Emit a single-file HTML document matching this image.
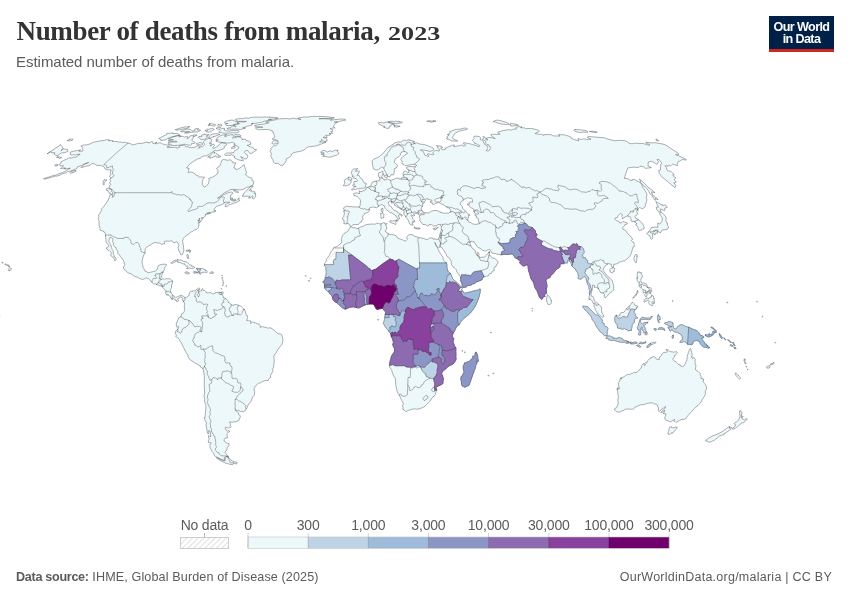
<!DOCTYPE html>
<html><head><meta charset="utf-8">
<style>
html,body{margin:0;padding:0;background:#fff;}
body{width:850px;height:600px;overflow:hidden;position:relative;font-family:"Liberation Sans",sans-serif;}
.abs{position:absolute;white-space:nowrap;line-height:1;transform-origin:0 0;}
#title{left:16.5px;top:18.1px;font-family:"Liberation Serif",serif;font-weight:bold;font-size:27px;color:#333;letter-spacing:-0.33px;}
#sub{left:16px;top:53.8px;font-size:15px;color:#5b5b5b;letter-spacing:-0.03px;}
#logo{position:absolute;left:769px;top:16px;width:65px;height:36px;background:#002147;border-bottom:3px solid #ce261e;box-sizing:border-box;color:#fff;font-weight:bold;font-size:12.6px;text-align:center;line-height:12.3px;letter-spacing:-0.62px;padding-top:5.2px;}
.lg{position:absolute;letter-spacing:-0.2px;font-size:14px;color:#5b5b5b;line-height:1;white-space:nowrap;transform:translateX(-50%);top:518.2px;}
#foot1{left:16px;top:571px;font-size:12.6px;color:#5b5b5b;letter-spacing:0.12px;}#foot1 b{letter-spacing:-0.3px;}
#foot2{right:18px;top:571px;font-size:12.5px;color:#5b5b5b;letter-spacing:0.25px;}
.os{display:inline-block;font-size:19.5px;letter-spacing:0;transform:scaleX(1.34);transform-origin:0 100%;margin-left:1.6px;}
</style></head><body>
<div id="title" class="abs">Number of deaths from malaria, <span class="os">2023</span></div>
<div id="sub" class="abs">Estimated number of deaths from malaria.</div>
<div id="logo">Our World<br>in Data</div>
<svg id="map" width="850" height="600" style="position:absolute;left:0;top:0">
<defs><pattern id="hatch" width="5" height="5" patternUnits="userSpaceOnUse" patternTransform="rotate(45)"><rect width="5" height="5" fill="#fff"/><line x1="0" y1="0" x2="0" y2="5" stroke="#e3e3e3" stroke-width="1.6"/></pattern><pattern id="hatchL" width="4" height="4" patternUnits="userSpaceOnUse" patternTransform="rotate(45)"><rect width="4" height="4" fill="#fff"/><line x1="0" y1="0" x2="0" y2="4" stroke="#ccc" stroke-width="1.2"/></pattern></defs>
<g id="mapg">
<path d="M358.3 228.4L359.1 230.1L359.2 231.7L359.9 234.5L360.5 235.0L360.1 236.0L357.2 236.5L356.2 237.4L354.9 237.7L354.8 239.6L352.2 240.6L351.4 241.9L349.5 242.7L347.3 243.0L343.7 245.0L343.6 248.0L333.6 248.0L334.8 247.1L336.9 246.8L338.7 245.0L339.9 244.3L341.8 242.1L341.3 238.9L342.2 236.6L342.6 235.2L344.0 233.5L346.3 232.3L347.9 231.2L349.4 228.5L350.1 226.9L351.7 226.9L353.0 228.0L355.1 227.8L357.3 228.4ZM421.3 368.9L421.8 369.3L422.4 370.8L424.9 373.7L425.8 374.0L425.8 374.9L426.4 376.6L428.1 377.0L429.5 378.2L426.3 380.1L424.1 382.0L423.3 383.8L422.6 384.8L421.3 385.0L420.9 386.2L420.6 387.1L419.2 387.7L417.3 387.5L416.3 386.8L415.4 386.5L414.2 387.1L413.6 388.3L412.5 389.1L411.4 390.3L409.7 390.6L409.3 389.6L409.6 388.1L408.3 385.6L407.8 385.2L408.0 377.5L410.2 377.4L410.6 368.1L412.3 368.0L415.8 367.1L416.7 368.2L418.1 367.2L418.8 367.2L420.1 366.6L420.5 366.8ZM399.4 395.1L397.8 393.2L397.0 390.8L396.6 388.7L396.1 386.8L395.5 382.8L395.5 379.7L395.2 378.2L394.4 377.1L393.2 375.0L392.1 371.8L391.7 370.2L389.8 367.7L389.7 365.6L390.9 365.1L392.2 364.7L393.7 364.8L395.0 366.0L395.4 365.8L404.6 365.7L406.2 366.9L411.7 367.3L415.9 366.2L417.8 365.6L419.2 365.8L420.1 366.4L420.1 366.6L418.8 367.2L418.1 367.2L416.7 368.2L415.8 367.1L412.3 368.0L410.6 368.1L410.2 377.4L408.0 377.5L407.8 385.2L407.3 394.8L405.3 396.2L404.1 396.4L402.7 395.9L401.7 395.7L401.4 394.6L400.5 393.8ZM433.1 396.9L432.6 397.3L431.5 398.6L430.8 400.0L429.4 401.8L426.7 404.5L425.0 406.1L423.2 407.3L420.8 408.3L419.7 408.5L419.4 409.2L418.1 408.8L417.0 409.3L414.6 408.8L413.3 409.1L412.4 409.0L410.0 410.0L408.2 410.4L406.7 411.4L405.8 411.5L404.9 410.5L404.2 410.5L403.3 409.3L403.2 409.7L402.9 409.0L403.0 407.4L402.4 405.7L403.1 405.2L403.2 403.2L401.9 400.8L400.8 398.5L399.4 395.1L400.5 393.8L401.4 394.6L401.7 395.7L402.7 395.9L404.1 396.4L405.3 396.2L407.3 394.8L407.8 385.2L408.3 385.6L409.6 388.1L409.3 389.6L409.7 390.6L411.4 390.3L412.5 389.1L413.6 388.3L414.2 387.1L415.4 386.5L416.3 386.8L417.3 387.5L419.2 387.7L420.6 387.1L420.9 386.2L421.3 385.0L422.6 384.8L423.3 383.8L424.1 382.0L426.3 380.1L429.5 378.2L430.5 378.2L431.5 378.6L432.3 378.3L433.5 378.6L434.4 382.3L434.9 384.1L434.3 387.0L434.4 388.0L433.3 387.5L432.7 387.7L432.4 388.4L431.7 389.4L431.7 390.3L432.9 391.8L434.3 391.5L434.8 390.3L436.5 390.3L435.8 392.2L435.4 394.4L434.7 395.6ZM427.5 396.1L428.2 396.9L427.4 398.2L427.0 399.0L425.7 399.5L425.2 400.3L424.4 400.6L422.9 398.5L424.2 396.9L425.5 395.8L426.6 395.3ZM434.8 390.3L434.3 391.5L432.9 391.8L431.7 390.3L431.7 389.4L432.4 388.4L432.7 387.7L433.3 387.5L434.4 388.0L434.7 389.2ZM461.8 287.2L462.4 288.0L462.4 289.1L461.1 289.7L462.1 290.4L461.3 291.8L460.7 291.3L460.2 291.6L458.9 291.5L458.9 290.7L458.6 290.0L459.4 288.8L460.1 287.6L461.1 287.8ZM446.4 262.9L437.4 262.9L428.6 262.9L419.5 262.9L419.1 253.2L418.6 243.9L417.8 241.8L418.2 240.2L417.8 239.1L418.5 237.8L421.5 237.8L423.6 238.5L425.9 239.3L426.9 239.7L428.6 238.8L429.4 238.1L431.3 237.9L432.9 238.2L433.7 239.5L434.1 238.6L435.9 239.3L437.7 239.4L438.7 238.8L440.6 243.3L440.0 244.3L439.7 246.3L439.2 247.6L438.7 248.1L437.9 247.3L436.8 246.1L434.9 242.3L434.7 242.6L435.9 245.3L437.5 248.0L439.4 252.0L440.4 253.5L441.2 254.9L443.4 257.8L443.0 258.3L443.2 260.0L445.9 262.3ZM419.5 262.9L419.7 268.1L417.1 268.1L417.1 269.2L407.9 264.2L398.8 259.2L396.5 260.6L394.9 261.6L393.6 260.1L390.0 259.0L389.0 257.4L387.2 256.2L386.2 256.6L385.4 255.2L385.3 254.1L383.9 252.2L384.8 251.1L384.5 249.4L384.8 248.0L384.6 246.8L384.9 244.7L384.8 243.5L384.0 241.1L385.1 240.5L385.2 239.4L385.0 238.3L386.5 237.3L387.1 236.5L388.1 235.7L388.2 233.7L390.8 234.6L391.7 234.4L393.6 234.9L396.6 236.0L397.7 238.3L399.7 238.9L402.9 240.0L405.3 241.2L406.3 240.6L407.3 239.4L406.7 237.4L407.3 236.1L408.8 234.9L410.3 234.5L413.3 235.0L414.2 236.2L415.0 236.2L415.7 236.7L417.9 237.0L418.5 237.8L417.8 239.1L418.2 240.2L417.8 241.8L418.6 243.9L419.1 253.2ZM384.0 241.1L382.9 236.5L381.6 235.4L381.5 234.8L379.7 233.2L379.4 231.2L380.8 229.8L381.2 227.6L380.8 225.1L381.2 223.8L383.5 222.7L385.0 223.0L385.0 224.4L386.8 223.4L387.0 223.9L385.9 225.2L386.0 226.4L386.8 227.0L386.6 229.3L385.2 230.6L385.6 232.0L386.8 232.1L387.4 233.3L388.2 233.7L388.1 235.7L387.1 236.5L386.5 237.3L385.0 238.3L385.2 239.4L385.1 240.5ZM390.0 259.0L382.4 264.0L375.9 269.1L372.7 270.3L370.2 270.6L370.2 268.9L369.1 268.5L367.7 267.7L367.1 266.5L359.5 260.8L351.9 255.1L343.6 249.0L343.6 248.0L343.7 245.0L347.3 243.0L349.5 242.7L351.4 241.9L352.2 240.6L354.8 239.6L354.9 237.7L356.2 237.4L357.2 236.5L360.1 236.0L360.5 235.0L359.9 234.5L359.2 231.7L359.1 230.1L358.3 228.4L360.4 227.0L362.7 226.5L364.1 225.5L366.2 224.7L369.8 224.2L373.4 224.0L374.5 224.4L376.5 223.4L378.8 223.3L379.7 223.9L381.2 223.8L380.8 225.1L381.2 227.6L380.8 229.8L379.4 231.2L379.7 233.2L381.5 234.8L381.6 235.4L382.9 236.5L384.0 241.1L384.8 243.5L384.9 244.7L384.6 246.8L384.8 248.0L384.5 249.4L384.8 251.1L383.9 252.2L385.3 254.1L385.4 255.2L386.2 256.6L387.2 256.2L389.0 257.4ZM495.9 227.2L498.4 228.2L499.9 227.8L500.1 226.6L501.7 226.2L502.8 225.4L502.7 223.4L504.4 222.8L504.6 221.9L505.7 222.6L506.4 222.7L507.6 222.7L509.4 223.3L510.1 223.6L511.5 222.8L512.3 223.3L512.7 222.1L514.0 222.1L514.2 221.7L514.2 220.7L514.9 219.8L516.2 220.4L516.2 221.2L516.8 221.3L517.2 223.5L518.3 224.3L518.9 223.8L519.8 223.5L520.8 222.3L522.4 222.6L524.6 222.6L525.2 223.3L524.0 223.6L523.1 224.1L520.6 224.4L518.5 224.9L517.5 226.1L518.3 227.2L518.8 228.5L518.0 229.6L518.4 230.6L518.0 231.5L515.9 231.4L517.1 233.2L515.9 233.8L515.3 235.4L515.7 237.0L515.0 237.7L514.2 237.5L512.5 237.8L512.4 238.5L510.8 238.5L509.9 240.0L510.2 242.2L507.5 243.3L505.9 243.1L505.6 243.7L504.2 243.3L502.0 243.7L498.1 242.4L499.7 240.0L499.2 238.3L497.4 237.9L497.0 236.2L495.9 234.2L496.5 232.7L495.5 232.3L495.7 230.4ZM559.6 247.5L559.7 248.6L560.3 250.3L560.3 251.3L558.4 251.4L555.6 250.8L553.8 250.5L552.3 249.2L549.2 248.8L546.0 247.4L543.6 246.1L541.3 245.1L541.6 242.7L542.8 241.5L543.6 240.8L545.5 241.6L548.1 243.4L549.5 243.7L550.5 245.0L552.3 245.5L554.3 246.7L557.0 247.3ZM567.7 247.8L568.8 248.6L568.9 250.2L567.1 250.3L565.2 250.1L563.9 250.5L561.7 249.5L561.5 249.0L562.6 247.1L563.7 246.4L565.4 247.0L566.6 247.1ZM551.4 300.7L551.2 303.5L550.2 304.2L548.3 304.8L547.1 302.7L546.5 299.0L547.3 294.7L549.0 296.2L550.1 298.0ZM598.4 288.5L596.2 287.3L594.3 287.4L594.4 285.3L592.4 285.3L592.5 288.2L591.6 292.0L591.0 294.4L591.3 296.2L592.8 296.3L593.9 298.7L594.4 301.0L595.8 302.5L597.2 302.8L598.5 304.1L597.8 305.2L596.2 305.5L596.0 304.2L594.1 303.0L593.7 303.5L592.7 302.5L592.3 301.2L591.0 299.7L589.8 298.5L589.5 300.0L589.0 298.6L589.1 296.9L589.6 294.4L590.5 291.7L591.6 289.3L590.5 286.9L590.4 285.7L590.0 284.2L588.2 282.2L587.5 280.9L588.3 280.4L588.8 278.1L587.6 276.4L585.9 274.5L584.5 272.2L585.4 271.7L586.0 268.9L587.6 268.8L588.8 267.6L590.0 267.0L591.1 267.8L591.5 269.4L593.0 269.5L592.9 272.3L593.2 274.6L595.4 273.0L596.2 273.5L597.5 273.4L597.8 272.5L599.6 272.7L601.6 274.8L602.1 277.4L604.3 279.7L604.5 281.9L603.9 283.1L601.7 282.7L598.8 283.2L597.5 285.4ZM603.9 283.1L604.5 281.9L604.3 279.7L602.1 277.4L601.6 274.8L599.6 272.7L597.8 272.5L597.5 273.4L596.2 273.5L595.4 273.0L593.2 274.6L592.9 272.3L593.0 269.5L591.5 269.4L591.1 267.8L590.0 267.0L590.3 266.0L592.0 264.3L592.3 265.0L593.5 265.0L592.7 262.0L593.8 261.7L595.5 263.7L596.8 266.1L599.7 266.1L600.9 268.4L599.5 269.1L599.0 270.0L602.0 271.6L604.3 274.7L606.1 277.0L608.1 278.8L608.9 280.6L608.8 283.3L606.7 282.3L605.9 284.1ZM607.5 264.0L604.8 266.3L603.3 268.8L603.1 270.6L605.3 273.3L607.9 276.7L610.2 278.3L611.9 280.4L613.6 285.3L613.7 289.9L612.0 291.6L609.5 293.3L607.8 295.5L605.1 297.9L604.1 296.2L604.6 294.5L602.8 293.0L604.7 291.9L607.1 291.7L605.9 290.1L609.6 288.1L609.6 285.0L608.8 283.3L608.9 280.6L608.1 278.8L606.1 277.0L604.3 274.7L602.0 271.6L599.0 270.0L599.5 269.1L600.9 268.4L599.7 266.1L596.8 266.1L595.5 263.7L593.8 261.7L594.9 261.0L596.7 261.0L598.9 260.7L600.6 259.3L601.8 260.3L604.0 260.8L603.9 262.3L605.1 263.4ZM600.9 292.6L599.8 291.2L598.4 288.5L597.5 285.4L598.8 283.2L601.7 282.7L603.9 283.1L605.9 284.1L606.7 282.3L608.8 283.3L609.6 285.0L609.6 288.1L605.9 290.1L607.1 291.7L604.7 291.9L602.8 293.0ZM596.0 304.2L596.2 305.5L597.8 305.2L598.5 304.1L599.0 304.4L600.4 306.0L601.5 307.7L601.7 309.5L601.5 310.6L601.8 311.6L602.0 313.1L602.8 313.8L603.8 316.1L603.7 317.0L602.1 317.2L599.9 315.2L597.1 313.2L596.8 311.8L595.4 310.1L595.0 307.9L594.1 306.5L594.3 304.6L593.7 303.5L594.1 303.0ZM636.7 308.7L635.0 309.6L633.0 309.1L630.4 309.1L629.7 312.1L628.8 313.0L627.7 316.7L625.9 317.2L623.7 316.5L622.6 316.7L621.2 318.0L619.8 317.8L618.3 318.4L616.7 316.9L616.2 315.1L618.0 316.1L619.7 315.6L620.1 313.3L621.1 312.8L623.9 312.3L625.4 310.2L626.5 308.6L627.6 309.9L628.1 309.0L629.2 309.1L629.2 307.4L629.3 306.1L630.9 304.3L632.0 302.3L632.9 302.3L634.2 303.6L634.3 304.7L635.9 305.5L637.9 306.3L637.8 307.3L636.2 307.4ZM626.5 308.6L627.4 307.6L629.3 306.1L629.2 307.4L629.2 309.1L628.1 309.0L627.6 309.9ZM650.6 343.6L650.9 343.0L653.0 342.4L654.5 342.4L655.3 342.0L656.2 342.4L655.3 343.1L652.8 344.2L650.8 345.0ZM639.0 272.0L640.5 272.8L641.1 272.1L641.4 272.8L641.2 273.8L642.3 275.7L642.1 277.9L640.9 278.7L640.8 280.9L641.6 282.9L642.9 283.2L643.8 282.9L646.9 284.4L646.9 285.8L647.7 286.4L647.6 287.6L645.7 286.3L644.7 285.0L644.2 285.9L642.5 284.4L640.5 284.7L639.3 284.2L639.2 283.1L639.9 282.4L639.1 281.8L638.9 282.7L637.6 281.3L637.1 280.1L636.6 277.6L637.7 278.5L637.2 274.4L637.6 272.0ZM653.9 298.4L654.3 300.1L654.6 301.6L653.9 304.0L652.9 301.3L651.9 302.6L652.8 304.6L652.2 305.8L649.4 304.3L648.6 302.4L649.2 301.2L647.7 299.9L647.0 301.0L646.0 300.9L644.3 302.4L643.9 301.6L644.7 299.4L646.0 298.6L647.2 297.7L648.1 298.9L649.8 298.1L650.1 297.0L651.7 296.9L651.4 294.9L653.4 296.1L653.7 297.4ZM637.5 290.7L638.1 292.8L636.7 294.2L635.6 296.0L632.8 298.5L633.7 296.7L635.3 295.1L636.5 293.3ZM648.0 287.6L650.3 287.6L651.0 288.6L651.9 291.5L650.1 290.8L650.2 291.7L651.0 293.3L649.9 293.9L649.7 292.1L649.0 291.9L648.4 290.3L649.8 290.5L649.7 289.6ZM642.8 289.3L644.2 290.1L645.7 290.1L645.8 291.2L644.8 292.3L643.4 293.1L643.2 291.9L643.3 290.5ZM646.0 296.8L644.5 295.0L644.9 294.3L645.4 293.6L645.5 291.9L646.7 291.8L646.5 293.5L648.0 291.0L648.0 293.5L647.3 294.4L646.7 296.0ZM641.6 286.2L641.2 288.5L640.1 287.2L638.7 285.2L640.7 285.3ZM637.1 256.6L636.6 260.8L636.0 262.9L634.4 260.7L633.8 258.8L634.5 256.2L635.9 254.2L637.1 255.0ZM613.9 271.5L612.2 272.8L610.2 272.0L609.7 269.7L610.7 268.6L613.0 267.8L614.3 267.9L615.0 268.9L614.2 270.0ZM619.4 190.8L623.4 191.6L627.1 193.4L629.5 195.8L632.6 195.8L633.7 194.8L636.5 194.0L637.1 196.3L636.9 197.2L638.1 200.0L638.3 202.5L635.5 202.1L634.3 203.0L636.2 205.2L637.8 208.2L636.8 208.3L637.6 209.6L635.3 208.1L635.4 209.6L632.7 210.7L633.8 212.0L632.0 211.9L630.5 211.1L630.1 213.0L628.5 214.4L627.7 216.0L625.1 216.8L624.1 218.0L622.1 218.7L622.7 217.5L621.7 216.5L622.5 214.7L620.7 213.4L619.3 214.3L617.8 216.1L617.3 217.8L615.3 217.9L614.8 219.1L616.7 220.9L618.7 221.3L619.2 222.5L621.3 223.2L622.9 221.4L625.2 222.4L626.7 222.5L627.6 223.8L624.9 224.6L624.5 226.0L622.9 227.3L622.6 229.1L625.5 230.5L627.3 233.1L629.6 235.5L631.8 237.5L632.5 239.5L631.3 240.2L632.3 241.6L633.9 242.4L634.2 244.5L634.3 246.6L633.1 246.8L632.3 249.7L631.3 253.1L630.0 256.2L627.4 258.6L624.7 260.8L622.2 261.1L621.0 262.3L620.1 261.4L619.0 262.7L616.1 264.0L613.8 264.4L613.4 267.2L612.2 267.4L611.3 265.5L611.7 264.4L608.5 263.6L607.5 264.0L605.1 263.4L603.9 262.3L604.0 260.8L601.8 260.3L600.6 259.3L598.9 260.7L596.7 261.0L594.9 261.0L593.8 261.7L592.7 262.0L593.5 265.0L592.3 265.0L592.0 264.3L591.8 263.3L590.2 264.0L589.2 263.5L587.3 262.6L587.6 260.4L586.1 259.9L585.2 257.5L582.9 257.9L582.6 254.8L584.3 252.6L583.9 250.5L583.4 248.5L582.3 247.8L581.2 246.3L580.0 246.5L577.5 246.1L578.0 245.0L576.5 243.4L575.2 244.5L573.2 243.8L571.0 245.5L569.4 247.4L567.7 247.8L566.6 247.1L565.4 247.0L563.7 246.4L562.6 247.1L561.5 249.0L560.9 246.9L559.6 247.5L557.0 247.3L554.3 246.7L552.3 245.5L550.5 245.0L549.5 243.7L548.1 243.4L545.5 241.6L543.6 240.8L542.8 241.5L539.3 239.6L536.7 238.0L535.4 235.1L537.1 235.5L536.8 234.1L535.6 232.8L535.3 230.6L532.2 227.6L528.3 226.5L527.1 224.5L525.2 223.3L524.6 222.6L523.9 221.1L523.6 220.1L522.2 219.5L521.5 219.7L520.3 217.3L520.7 216.7L520.2 216.1L521.9 214.9L523.2 214.4L525.6 214.7L525.8 213.1L528.4 212.7L528.8 211.7L531.7 210.3L531.7 209.7L531.0 208.3L532.2 207.6L528.6 203.1L532.3 202.1L533.2 201.5L532.8 196.9L537.2 197.8L537.8 196.6L536.8 194.1L538.3 193.8L539.1 192.1L539.8 191.9L541.1 193.7L543.5 195.0L546.8 196.0L549.2 198.1L549.7 201.1L551.0 202.2L553.6 202.6L556.5 203.0L559.8 204.6L561.2 204.9L563.2 207.2L565.1 208.8L567.4 208.7L572.0 209.3L574.6 208.9L576.9 209.3L580.7 210.9L583.3 210.9L584.6 211.7L586.4 210.3L589.3 209.4L592.4 209.3L594.4 208.4L595.2 207.0L596.2 206.2L595.5 205.3L594.3 204.3L594.5 202.7L595.8 202.9L598.2 203.4L599.5 202.0L602.1 201.0L602.6 199.3L603.6 198.6L606.4 198.3L608.2 198.6L607.9 197.7L604.9 195.9L602.8 195.0L601.8 196.0L599.6 195.6L598.6 195.9L597.5 194.9L597.3 192.4L597.1 190.4L600.1 191.4L601.9 189.8L601.2 188.7L601.1 186.0L601.6 185.2L600.6 183.8L599.1 183.2L599.7 182.0L601.8 181.5L604.4 181.5L607.9 182.2L610.3 183.1L613.5 185.7L615.0 186.7L616.9 188.3ZM539.8 191.9L541.7 191.5L544.4 189.3L546.9 188.1L549.0 188.9L551.1 188.9L553.1 190.1L555.1 190.2L558.4 190.8L559.4 189.1L557.7 187.6L558.2 185.0L561.1 186.0L563.1 186.3L565.8 187.0L567.3 188.9L570.7 189.9L572.3 189.4L574.7 189.1L576.9 189.5L579.6 190.7L581.6 192.0L583.4 191.9L586.2 192.4L587.7 191.7L590.1 191.3L591.9 189.5L593.3 189.8L594.8 190.6L597.1 190.4L597.3 192.4L597.5 194.9L598.6 195.9L599.6 195.6L601.8 196.0L602.8 195.0L604.9 195.9L607.9 197.7L608.2 198.6L606.4 198.3L603.6 198.6L602.6 199.3L602.1 201.0L599.5 202.0L598.2 203.4L595.8 202.9L594.5 202.7L594.3 204.3L595.5 205.3L596.2 206.2L595.2 207.0L594.4 208.4L592.4 209.3L589.3 209.4L586.4 210.3L584.6 211.7L583.3 210.9L580.7 210.9L576.9 209.3L574.6 208.9L572.0 209.3L567.4 208.7L565.1 208.8L563.2 207.2L561.2 204.9L559.8 204.6L556.5 203.0L553.6 202.6L551.0 202.2L549.7 201.1L549.2 198.1L546.8 196.0L543.5 195.0L541.1 193.7ZM637.6 209.6L638.1 210.1L637.2 209.9L636.9 210.8L636.7 211.7L637.9 213.6L637.1 214.1L637.0 214.6L636.6 215.3L635.4 215.8L634.8 216.5L635.4 217.6L635.3 217.9L636.3 218.3L638.1 219.5L638.1 220.1L637.3 220.3L635.8 220.4L635.6 221.6L634.6 221.5L634.5 221.7L633.3 221.2L633.2 221.7L632.7 221.9L632.4 221.4L631.7 221.2L630.9 220.8L631.0 219.6L631.3 219.3L630.9 218.8L630.8 217.4L630.4 217.0L629.0 216.7L627.7 216.0L628.5 214.4L630.1 213.0L630.5 211.1L632.0 211.9L633.8 212.0L632.7 210.7L635.4 209.6L635.3 208.1ZM638.1 219.5L641.5 222.5L642.8 224.2L644.2 227.2L644.0 228.7L642.3 229.2L641.0 230.2L639.1 230.5L638.3 229.1L637.8 227.1L635.7 224.4L637.1 223.9L634.5 221.7L634.6 221.5L635.6 221.6L635.8 220.4L637.3 220.3L638.1 220.1ZM667.2 223.3L667.5 225.4L668.5 226.7L668.2 228.5L666.1 229.7L662.3 229.9L660.5 232.9L658.6 231.9L657.6 229.9L654.1 230.5L652.1 231.7L649.5 231.8L652.5 233.7L652.8 238.2L651.8 239.3L650.4 238.2L650.0 235.9L648.3 235.1L646.7 233.3L648.4 232.5L648.9 230.9L650.5 229.5L651.3 227.7L655.3 227.0L657.8 227.5L657.8 222.9L659.9 224.1L661.7 221.5L662.4 220.5L662.0 217.3L659.9 214.4L659.8 212.7L661.8 212.3L665.1 215.9L666.3 218.0L665.8 220.6ZM662.4 205.0L664.2 205.6L665.0 204.5L667.4 207.4L664.8 208.1L664.6 210.6L660.2 208.9L660.8 211.7L658.5 211.8L656.6 209.2L656.3 207.2L658.5 207.1L656.7 203.5L655.9 201.5L660.2 204.2ZM657.2 231.1L657.9 232.0L657.3 233.6L656.1 232.7L655.2 233.3L655.2 234.9L653.5 234.1L653.0 232.9L653.5 231.3L654.9 231.6L655.3 230.5ZM414.5 143.4L416.2 142.7L419.6 144.0L424.2 144.5L431.5 147.1L433.2 148.0L433.8 149.6L432.2 150.8L429.7 151.4L421.4 149.6L420.3 150.1L423.5 151.7L424.6 155.1L428.7 156.5L428.6 155.3L427.2 154.2L428.2 153.5L432.9 154.9L434.0 154.2L432.5 152.6L435.7 150.3L437.3 150.5L439.1 151.2L439.6 149.6L437.7 148.3L438.1 146.9L436.4 145.6L441.4 146.3L442.8 147.6L440.8 147.8L441.3 149.2L442.8 149.8L445.4 149.4L445.2 148.0L448.3 146.9L453.3 144.9L454.7 145.1L453.7 146.5L455.8 146.7L456.7 146.0L459.8 145.8L461.9 144.9L464.4 146.3L465.7 144.9L463.2 143.6L463.7 142.7L469.0 143.6L471.7 144.3L479.2 146.7L479.8 145.6L477.4 144.5L476.8 143.8L474.7 143.6L474.8 142.7L472.8 141.0L472.4 140.3L474.1 138.4L473.9 136.5L474.8 136.1L479.4 136.5L480.6 137.8L480.2 139.5L481.8 140.1L483.3 141.6L484.9 144.7L487.6 146.0L487.8 147.6L486.4 150.8L488.4 151.0L488.7 150.3L490.2 149.6L490.0 148.5L490.9 147.4L489.1 146.3L488.8 144.7L486.8 144.5L485.8 143.4L485.6 141.2L482.3 139.5L484.2 138.0L482.8 136.5L483.4 136.3L485.2 137.6L486.0 139.7L488.0 139.9L486.1 138.4L488.2 137.6L491.6 137.6L495.3 138.6L492.6 136.9L490.7 134.8L493.0 134.2L497.0 134.4L500.1 134.2L497.7 133.0L498.4 131.7L500.1 131.7L502.2 130.7L505.7 130.3L505.8 129.9L509.7 129.7L511.4 130.1L513.6 129.1L516.5 129.1L515.6 128.1L516.1 127.3L518.7 126.6L522.0 127.1L520.6 127.7L524.4 127.9L525.9 128.9L526.9 128.5L531.3 128.5L536.0 129.5L538.3 130.3L539.3 131.3L538.4 131.9L535.6 133.0L535.1 133.6L537.5 134.0L540.3 134.4L541.2 134.0L543.8 135.5L543.8 134.8L546.0 134.5L551.4 134.8L553.0 135.9L560.0 136.1L558.3 134.6L561.9 134.8L564.4 134.8L568.6 136.1L571.1 137.3L571.1 138.2L575.2 139.9L578.9 140.8L577.8 138.6L581.5 139.5L583.5 138.8L587.7 139.7L588.0 139.1L591.0 139.3L587.2 137.3L588.2 136.5L604.5 137.8L607.9 139.1L614.6 140.8L620.5 140.3L624.1 140.6L626.7 141.4L629.0 143.2L632.0 143.8L633.7 143.4L636.4 143.2L640.0 143.6L642.9 143.4L648.8 145.4L649.9 144.7L646.2 143.2L645.7 142.3L651.9 142.9L655.0 142.7L661.6 143.8L665.4 144.8L678.9 153.8L678.2 154.9L675.6 154.6L678.8 155.8L682.5 157.7L684.4 158.4L685.9 159.3L686.3 160.0L682.4 159.5L679.5 161.2L678.2 161.4L677.6 163.1L677.0 164.8L677.5 165.7L672.8 164.0L670.4 166.0L668.3 165.0L668.1 166.2L664.9 165.7L666.3 167.4L666.9 169.8L668.2 170.8L670.8 171.3L674.4 174.7L672.8 174.9L674.1 176.9L675.9 177.9L674.2 179.4L676.2 182.1L673.8 182.7L675.8 185.4L675.1 187.6L672.7 185.9L668.3 182.1L661.7 176.7L659.1 173.2L659.2 171.8L658.2 170.8L660.4 170.1L660.5 167.2L660.8 164.8L661.8 162.8L658.9 159.3L657.0 159.5L658.6 161.7L656.9 164.3L651.8 161.2L648.2 162.1L648.0 166.0L651.4 167.6L647.8 168.1L645.3 168.4L643.4 166.7L640.1 166.2L639.0 167.4L633.2 167.2L627.8 167.9L626.2 172.5L624.2 178.4L627.6 178.6L629.8 180.1L632.2 180.6L632.3 179.4L634.6 179.6L639.8 182.4L641.9 184.6L642.5 187.1L644.7 190.1L646.9 194.2L646.4 197.8L646.9 199.6L646.2 202.7L644.9 207.0L642.9 208.6L641.7 208.6L639.6 207.3L637.8 209.1L638.1 210.1L637.6 209.6L636.8 208.3L637.8 208.2L636.2 205.2L634.3 203.0L635.5 202.1L638.3 202.5L638.1 200.0L636.9 197.2L637.1 196.3L636.5 194.0L633.7 194.8L632.6 195.8L629.5 195.8L627.1 193.4L623.4 191.6L619.4 190.8L616.9 188.3L615.0 186.7L613.5 185.7L610.3 183.1L607.9 182.2L604.4 181.5L601.8 181.5L599.7 182.0L599.1 183.2L600.6 183.8L601.6 185.2L601.1 186.0L601.2 188.7L601.9 189.8L600.1 191.4L597.1 190.4L594.8 190.6L593.3 189.8L591.9 189.5L590.1 191.3L587.7 191.7L586.2 192.4L583.4 191.9L581.6 192.0L579.6 190.7L576.9 189.5L574.7 189.1L572.3 189.4L570.7 189.9L567.3 188.9L565.8 187.0L563.1 186.3L561.1 186.0L558.2 185.0L557.7 187.6L559.4 189.1L558.4 190.8L555.1 190.2L553.1 190.1L551.1 188.9L549.0 188.9L546.9 188.1L544.4 189.3L541.7 191.5L539.8 191.9L539.1 192.1L537.3 190.6L534.9 190.9L533.5 189.8L531.9 189.4L530.2 187.9L528.9 187.4L526.3 188.1L522.9 186.6L522.5 188.0L515.0 181.6L511.6 179.7L511.9 178.9L508.2 181.2L506.4 181.4L505.9 180.0L503.0 179.2L501.3 179.8L499.5 177.2L495.8 176.7L494.5 177.7L490.1 178.6L489.4 179.3L482.5 180.1L481.9 181.0L484.0 182.7L482.3 183.3L483.0 184.0L481.5 185.2L485.4 186.9L485.3 188.1L482.4 188.0L482.1 188.8L479.1 187.5L476.0 187.5L474.2 188.6L471.5 187.5L466.6 185.8L463.5 185.9L460.2 188.6L460.5 190.5L458.0 189.0L457.1 191.8L457.9 192.3L457.2 194.2L459.3 195.9L460.8 195.9L462.5 197.6L462.6 198.9L463.8 199.3L463.2 200.8L461.3 201.3L459.9 203.9L462.3 206.4L462.5 208.1L465.4 211.1L464.4 212.2L464.2 212.9L463.2 212.7L461.4 211.1L460.8 211.0L459.4 210.4L458.5 209.4L456.4 208.8L455.3 209.2L454.8 208.7L451.7 207.5L448.5 207.1L446.7 206.6L446.5 207.0L443.4 204.8L440.9 203.8L438.8 202.3L440.2 201.9L441.6 199.7L440.2 198.7L443.0 197.7L442.9 197.1L441.1 197.5L441.0 196.4L443.8 195.5L444.0 194.6L443.2 193.2L443.7 191.9L443.6 191.2L440.4 190.3L439.2 190.4L437.8 189.2L436.3 189.6L433.6 188.7L433.5 188.2L432.6 187.1L431.0 187.0L430.7 186.2L431.1 185.7L429.5 184.3L427.5 184.5L426.9 184.4L426.5 185.0L425.8 184.9L425.0 183.3L424.3 182.4L424.7 182.2L426.3 182.3L426.9 181.7L426.2 181.1L424.8 180.6L424.8 180.2L423.9 179.7L422.4 178.1L422.7 177.4L422.3 176.3L420.3 175.7L419.3 176.0L418.9 175.4L416.8 174.8L415.9 173.3L415.5 172.1L414.5 171.6L415.2 170.8L414.2 168.6L415.2 167.2L414.9 166.7L416.7 165.4L414.5 164.3L417.8 161.2L419.1 159.9L419.5 158.7L416.5 157.1L416.9 155.6L414.9 153.8L415.6 151.9L412.9 149.3L414.1 147.6L411.1 146.1L411.0 144.6L412.3 144.3L414.9 143.5ZM649.5 188.3L655.0 192.7L651.4 191.9L653.0 195.6L656.8 198.2L658.1 200.0L655.4 198.4L655.4 200.4L653.6 198.3L652.0 195.8L649.7 193.0L648.7 191.1L646.1 187.7L642.9 185.3L640.1 181.9L640.9 180.7L639.1 179.5L639.6 179.2L641.6 180.9L644.4 183.3L646.5 185.7ZM407.1 179.3L403.5 179.3L401.1 179.1L401.4 178.0L404.0 177.2L406.0 177.6L407.0 178.0ZM60.6 144.8L62.1 146.5L63.2 148.7L61.1 150.1L61.3 150.8L63.3 149.0L67.5 149.4L67.9 151.5L64.7 152.6L61.6 152.8L58.5 154.9L57.0 155.5L55.6 155.3L55.1 154.6L53.8 154.0L55.1 152.8L53.7 152.6L51.2 152.8L51.4 152.1L50.3 151.7L49.5 152.8L47.1 153.8ZM69.7 139.2L73.0 139.1L72.8 139.8L70.9 140.8L67.2 140.7ZM447.7 134.5L450.4 132.7L449.4 131.8L452.2 130.7L456.3 129.4L461.1 129.0L463.1 128.3L465.9 128.0L467.6 128.8L467.1 129.4L462.4 130.4L458.4 131.4L454.8 133.4L453.7 135.4L452.3 137.4L453.6 139.2L457.7 140.9L456.8 141.1L451.3 140.9L450.4 139.9L447.1 139.3L446.3 138.2L447.8 137.7L447.1 136.6L449.3 134.8ZM509.1 124.3L506.2 124.5L501.5 124.0L498.2 123.3L495.5 122.0L493.1 121.7L495.3 120.5L497.8 120.1L501.7 121.0L507.3 122.7ZM518.1 125.4L510.7 126.1L510.2 123.7L511.1 123.5L512.4 123.6L517.5 124.6ZM575.2 129.6L579.4 129.7L586.8 130.8L588.0 132.3L582.1 132.2L580.3 132.7L575.2 131.4L573.8 130.0ZM589.7 131.6L592.3 131.2L597.1 131.8L596.7 132.6L593.9 132.4L589.7 131.6ZM656.3 139.2L658.8 140.7L657.2 140.8L655.8 140.1ZM433.7 120.7L436.1 121.1L435.7 121.3L434.0 121.5L432.8 121.7L432.8 122.0L431.3 122.3L429.5 121.8L429.9 121.3L426.7 121.2L429.3 120.9L431.4 120.9L432.0 121.4L432.6 121.0ZM512.2 209.9L511.2 210.4L509.0 212.3L508.6 214.1L507.8 214.1L506.9 212.9L504.2 212.8L503.1 210.7L502.1 210.7L501.5 208.1L498.4 206.2L494.9 206.4L492.5 206.8L489.9 204.4L487.9 203.5L484.1 201.6L483.7 201.4L478.8 202.9L481.3 212.4L480.3 212.6L478.3 210.5L476.7 209.8L474.4 210.3L473.7 211.2L473.5 210.6L473.7 209.5L473.1 208.6L470.5 207.7L469.0 205.4L467.7 204.8L467.4 203.9L469.5 204.2L469.1 202.3L470.7 201.9L472.6 202.2L472.4 199.8L471.6 198.2L469.6 198.3L467.7 197.7L465.6 198.8L463.8 199.3L462.6 198.9L462.5 197.6L460.8 195.9L459.3 195.9L457.2 194.2L457.9 192.3L457.1 191.8L458.0 189.0L460.5 190.5L460.2 188.6L463.5 185.9L466.6 185.8L471.5 187.5L474.2 188.6L476.0 187.5L479.1 187.5L482.1 188.8L482.4 188.0L485.3 188.1L485.4 186.9L481.5 185.2L483.0 184.0L482.3 183.3L484.0 182.7L481.9 181.0L482.5 180.1L489.4 179.3L490.1 178.6L494.5 177.7L495.8 176.7L499.5 177.2L501.3 179.8L503.0 179.2L505.9 180.0L506.4 181.4L508.2 181.2L511.9 178.9L511.6 179.7L515.0 181.6L522.5 188.0L522.9 186.6L526.3 188.1L528.9 187.4L530.2 187.9L531.9 189.4L533.5 189.8L534.9 190.9L537.3 190.6L539.1 192.1L538.3 193.8L536.8 194.1L537.8 196.6L537.2 197.8L532.8 196.9L533.2 201.5L532.3 202.1L528.6 203.1L532.2 207.6L531.0 208.3L531.7 209.7L530.3 209.4L528.9 208.4L525.7 208.2L522.2 208.1L521.5 208.4L518.2 207.3L517.2 207.8L517.4 209.4L513.6 208.5L512.4 208.8ZM506.4 222.7L506.1 221.1L502.9 220.0L500.4 218.7L498.7 217.5L495.7 215.7L494.0 213.0L493.2 212.5L490.9 212.7L489.9 212.1L489.2 210.1L486.0 208.7L484.6 210.2L483.0 211.1L483.7 212.4L481.3 212.4L478.8 202.9L483.7 201.4L484.1 201.6L487.9 203.5L489.9 204.4L492.5 206.8L494.9 206.4L498.4 206.2L501.5 208.1L502.1 210.7L503.1 210.7L504.2 212.8L506.9 212.9L507.8 214.1L508.6 214.1L509.0 212.3L511.2 210.4L512.2 209.9L513.0 210.2L511.7 211.9L513.6 212.9L514.9 212.2L517.8 213.6L515.7 215.4L514.0 215.2L513.1 215.3L512.6 214.5L512.7 213.3L510.0 213.9L509.8 215.6L509.3 217.1L507.4 216.9L507.2 218.1L508.9 218.7L509.9 220.6L509.4 223.3L507.6 222.7ZM495.9 227.2L495.3 225.0L493.6 224.9L490.7 222.6L488.9 222.3L486.2 221.0L484.6 220.7L483.8 221.2L482.3 221.1L481.1 222.6L479.3 223.1L478.6 221.3L478.3 218.6L476.4 217.7L476.6 215.9L475.2 215.8L475.1 213.6L477.3 214.2L479.0 213.4L477.0 211.8L476.1 210.3L474.6 211.0L474.8 212.9L473.7 211.2L474.4 210.3L476.7 209.8L478.3 210.5L480.3 212.6L481.3 212.4L483.7 212.4L483.0 211.1L484.6 210.2L486.0 208.7L489.2 210.1L489.9 212.1L490.9 212.7L493.2 212.5L494.0 213.0L495.7 215.7L498.7 217.5L500.4 218.7L502.9 220.0L506.1 221.1L506.4 222.7L505.7 222.6L504.6 221.9L504.4 222.8L502.7 223.4L502.8 225.4L501.7 226.2L500.1 226.6L499.9 227.8L498.4 228.2ZM512.2 209.9L512.4 208.8L513.6 208.5L517.4 209.4L517.2 207.8L518.2 207.3L521.5 208.4L522.2 208.1L525.7 208.2L528.9 208.4L530.3 209.4L531.7 209.7L531.7 210.3L528.8 211.7L528.4 212.7L525.8 213.1L525.6 214.7L523.2 214.4L521.9 214.9L520.2 216.1L520.7 216.7L520.3 217.3L516.4 217.7L513.5 216.9L511.2 217.1L511.0 215.6L513.5 216.0L514.0 215.2L515.7 215.4L517.8 213.6L514.9 212.2L513.6 212.9L511.7 211.9L513.0 210.2ZM514.0 215.2L513.5 216.0L511.0 215.6L511.2 217.1L513.5 216.9L516.4 217.7L520.3 217.3L521.5 219.7L522.2 219.5L523.6 220.1L523.9 221.1L524.6 222.6L522.4 222.6L520.8 222.3L519.8 223.5L518.9 223.8L518.3 224.3L517.2 223.5L516.8 221.3L516.2 221.2L516.2 220.4L514.9 219.8L514.2 220.7L514.2 221.7L514.0 222.1L512.7 222.1L512.3 223.3L511.5 222.8L510.1 223.6L509.4 223.3L509.9 220.6L508.9 218.7L507.2 218.1L507.4 216.9L509.3 217.1L509.8 215.6L510.0 213.9L512.7 213.3L512.6 214.5L513.1 215.3ZM450.7 211.8L450.9 210.8L450.0 209.0L448.6 208.0L447.4 207.7L446.5 207.0L446.7 206.6L448.5 207.1L451.7 207.5L454.8 208.7L455.3 209.2L456.4 208.8L458.5 209.4L459.4 210.4L460.8 211.0L460.4 211.4L461.7 212.8L461.4 213.1L460.3 212.9L458.6 212.2L458.1 212.6L455.3 213.0L453.0 211.7ZM455.3 213.0L458.1 212.6L458.7 213.3L459.6 213.7L459.3 214.4L460.6 215.3L460.1 216.1L461.2 216.8L462.2 217.2L462.6 219.0L461.8 219.1L460.7 217.6L460.6 217.2L459.7 217.2L458.9 216.5L458.5 216.6L457.5 215.8L455.8 215.2L455.8 213.9ZM463.2 212.7L464.2 212.9L464.4 212.2L465.4 211.1L466.9 212.5L468.3 214.4L469.3 214.5L470.1 215.2L468.4 215.4L468.5 217.4L468.3 218.3L467.6 218.9L467.9 220.2L467.4 220.3L465.8 219.0L466.3 217.7L465.5 216.9L464.8 217.1L462.6 219.0L462.2 217.2L461.2 216.8L460.1 216.1L460.6 215.3L459.3 214.4L459.6 213.7L458.7 213.3L458.1 212.6L458.6 212.2L460.3 212.9L461.4 213.1L461.7 212.8L460.4 211.4L460.8 211.0L461.4 211.1ZM458.9 216.5L459.7 217.2L460.6 217.2L460.7 217.6L461.8 219.1L460.3 218.8L459.0 217.6L458.5 216.6ZM441.0 212.4L444.2 213.4L446.6 213.0L448.5 213.2L450.7 211.8L453.0 211.7L455.3 213.0L455.8 213.9L455.8 215.2L457.5 215.8L458.5 216.6L457.2 217.3L458.4 220.3L458.1 221.1L459.6 223.2L458.6 223.6L457.8 223.0L455.2 222.6L454.4 223.0L452.0 223.5L450.8 223.4L448.4 224.4L446.7 224.4L445.5 223.9L443.2 224.6L442.4 224.1L442.5 225.6L442.0 226.2L441.5 226.7L440.5 225.6L441.2 224.6L439.9 224.8L438.0 224.2L436.7 225.7L433.5 226.0L431.6 224.6L429.2 224.5L428.8 225.6L427.4 225.9L425.1 224.5L422.8 224.5L421.2 222.0L419.5 220.5L420.3 218.5L418.9 217.2L421.0 214.7L424.2 214.6L424.9 212.7L428.9 213.0L431.2 211.3L433.6 210.6L437.1 210.5ZM420.7 214.0L419.1 215.4L418.3 214.2L418.2 213.7L418.7 213.4L419.2 211.8L418.1 211.1L420.1 210.3L422.0 210.6L422.4 211.6L424.3 212.5L424.0 213.1L421.5 213.2ZM434.2 228.5L433.2 228.6L433.8 229.7L434.9 230.0L437.0 228.7L438.1 227.1L436.7 228.2L436.2 227.9L434.6 227.9ZM479.3 223.1L481.1 222.6L482.3 221.1L483.8 221.2L484.6 220.7L486.2 221.0L488.9 222.3L490.7 222.6L493.6 224.9L495.3 225.0L495.9 227.2L495.7 230.4L495.5 232.3L496.5 232.7L495.9 234.2L497.0 236.2L497.4 237.9L499.2 238.3L499.7 240.0L498.1 242.4L499.4 243.8L500.5 245.3L502.8 246.5L503.2 248.8L504.4 249.2L504.7 250.4L501.7 251.8L501.2 254.8L496.9 254.0L494.4 253.4L491.8 253.1L490.4 249.9L489.3 249.4L487.7 249.9L485.6 251.2L482.7 250.3L480.2 248.3L478.0 247.5L476.2 245.1L474.1 241.6L473.0 242.0L471.4 241.1L470.7 242.1L469.3 240.8L469.1 239.4L468.4 239.4L468.5 237.5L467.1 235.5L464.2 234.0L462.3 231.6L462.5 229.5L463.5 228.6L463.1 227.1L461.5 226.3L459.6 223.2L458.1 221.1L458.4 220.3L457.2 217.3L458.5 216.6L459.0 217.6L460.3 218.8L461.8 219.1L462.6 219.0L464.8 217.1L465.5 216.9L466.3 217.7L465.8 219.0L467.4 220.3L467.9 220.2L469.0 222.1L471.1 222.7L472.8 224.0L476.0 224.4L479.3 223.7ZM461.5 226.3L463.1 227.1L463.5 228.6L462.5 229.5L462.3 231.6L464.2 234.0L467.1 235.5L468.5 237.5L468.4 239.4L469.1 239.4L469.3 240.8L470.7 242.1L469.4 242.0L467.9 241.8L466.6 244.3L462.4 244.1L455.5 238.8L452.0 237.0L449.3 236.3L448.0 233.1L452.5 230.4L452.9 227.2L452.4 225.3L453.5 224.7L454.4 223.0L455.2 222.6L457.8 223.0L458.6 223.6L459.6 223.2ZM448.0 233.1L444.0 235.9L441.5 234.9L441.7 234.4L441.5 233.4L441.9 232.0L443.0 231.0L442.5 229.9L441.5 229.8L441.1 227.8L441.5 226.7L442.0 226.2L442.5 225.6L442.4 224.1L443.2 224.6L445.5 223.9L446.7 224.4L448.4 224.4L450.8 223.4L452.0 223.5L454.4 223.0L453.5 224.7L452.4 225.3L452.9 227.2L452.5 230.4ZM441.2 235.7L441.5 234.9L444.0 235.9L448.0 233.1L449.3 236.3L448.9 236.7L444.6 238.0L447.1 240.6L446.4 241.1L446.2 241.9L444.5 242.3L444.1 243.2L443.2 244.0L440.7 243.6L440.6 243.3L441.3 239.1L441.1 238.0L441.4 237.3ZM441.5 234.9L441.2 235.7L440.3 235.3L440.1 237.1L440.7 237.4L440.1 237.7L440.1 238.4L441.1 238.0L441.3 239.1L440.6 243.3L438.7 238.8L439.2 237.9L439.1 237.7L439.5 236.5L439.8 234.5L440.0 233.9L440.8 233.9L440.9 233.4L441.5 233.4L441.7 234.4ZM441.2 235.7L441.4 237.3L441.1 238.0L440.1 238.4L440.1 237.7L440.7 237.4L440.1 237.1L440.3 235.3ZM441.5 233.4L440.9 233.4L440.8 233.9L440.1 233.9L440.6 231.7L441.5 229.9L441.5 229.8L442.5 229.9L443.0 231.0L441.9 232.0ZM460.6 277.6L460.3 276.5L459.6 275.7L459.3 274.7L458.1 273.8L456.7 271.6L456.0 269.4L454.3 267.7L453.2 267.2L451.6 264.7L451.2 262.9L451.2 261.3L449.7 258.4L448.6 257.4L447.4 256.9L446.5 255.4L446.6 254.8L445.9 253.5L445.2 252.9L444.2 250.9L442.6 248.8L441.4 247.0L440.2 247.0L440.5 245.6L440.5 244.7L440.7 243.6L443.2 244.0L444.1 243.2L444.5 242.3L446.2 241.9L446.4 241.1L447.1 240.6L444.6 238.0L448.9 236.7L449.3 236.3L452.0 237.0L455.5 238.8L462.4 244.1L466.6 244.3L468.6 244.6L469.3 245.8L470.8 245.7L472.0 248.0L473.1 248.6L473.6 249.5L475.3 250.6L475.5 251.7L475.4 252.6L475.8 253.4L476.5 254.2L476.9 255.0L477.3 255.7L478.0 256.2L478.6 256.0L479.1 257.0L479.3 257.6L480.4 260.3L487.3 261.6L487.7 261.0L488.9 262.9L487.8 268.1L481.2 270.7L474.7 271.7L472.7 272.9L471.2 275.6L470.2 276.1L469.6 275.2L468.7 275.3L466.5 275.1L466.0 274.8L463.4 274.9L462.8 275.1L461.8 274.4L461.3 275.7L461.6 276.8ZM496.3 265.2L495.6 267.0L494.6 266.8L494.2 267.5L493.9 268.8L494.3 270.5L494.1 270.9L493.1 270.8L491.8 271.8L491.6 273.1L491.1 273.6L489.7 273.6L488.9 274.3L489.0 275.3L487.9 276.1L486.7 275.8L485.2 276.7L484.2 276.9L483.3 275.0L481.2 270.7L487.8 268.1L488.9 262.9L487.7 261.0L487.6 260.0L488.2 258.9L488.1 257.8L489.1 257.3L488.6 256.9L488.6 255.2L489.8 255.2L491.0 257.0L492.3 257.9L494.0 258.3L495.4 258.8L496.6 260.3L497.3 261.1L498.1 261.5L498.2 262.1L497.5 263.6L497.2 264.4ZM489.5 252.7L489.2 253.2L488.7 252.2L489.3 251.4L489.6 251.6ZM479.1 257.0L479.5 256.9L479.6 257.6L481.4 257.2L483.2 257.2L484.6 257.3L486.0 255.5L487.5 253.9L488.7 252.2L489.2 253.2L489.8 255.2L488.6 255.2L488.6 256.9L489.1 257.3L488.1 257.8L488.2 258.9L487.6 260.0L487.7 261.0L487.3 261.6L480.4 260.3L479.3 257.6ZM477.3 255.7L476.9 253.8L477.4 252.4L478.0 252.1L478.7 252.9L478.9 254.4L478.6 256.0L478.0 256.2ZM469.4 242.0L470.0 243.2L469.9 243.7L470.8 245.7L469.3 245.8L468.6 244.6L466.6 244.3L467.9 241.8ZM409.1 139.9L414.7 141.5L412.7 142.1L414.9 143.5L412.3 144.3L411.0 144.6L411.3 143.0L408.9 142.2L406.5 142.9L406.1 144.5L404.7 145.5L402.8 144.9L400.6 145.1L398.5 143.9L397.6 144.5L396.6 144.5L396.6 146.0L393.4 145.7L393.1 146.9L391.5 146.9L390.6 148.5L389.2 151.0L386.8 154.2L387.6 155.0L387.1 155.9L385.3 155.9L384.3 158.1L384.7 161.2L386.0 162.4L385.7 165.2L384.3 166.8L383.6 168.2L382.2 166.7L378.7 169.5L376.2 170.1L373.6 168.9L372.8 166.3L372.0 160.8L373.6 159.3L378.2 157.3L381.6 154.9L384.5 151.7L388.1 147.3L390.8 145.7L394.9 142.9L398.4 141.9L401.1 142.1L403.3 140.3L406.3 140.4ZM399.8 126.3L396.7 127.1L393.9 126.6L394.8 126.1L393.8 125.5L396.7 125.1L397.5 125.8ZM389.3 122.8L394.5 124.2L391.0 124.9L390.5 126.3L389.3 126.7L388.9 128.3L387.1 128.4L383.6 127.2L384.9 126.5L382.5 125.9L379.4 124.3L378.1 122.9L381.9 122.3L382.8 122.9L384.8 122.9L385.3 122.2L387.4 122.2ZM399.3 121.6L402.3 122.2L400.5 123.1L396.4 123.4L392.0 123.1L391.6 122.6L389.6 122.5L387.8 121.7L392.1 121.2L394.3 121.6L395.5 121.1ZM401.6 152.1L400.2 153.7L400.7 155.1L398.2 156.9L395.1 159.0L394.2 162.3L395.7 163.9L397.6 165.3L396.3 168.0L394.4 168.6L394.2 172.6L393.3 174.9L391.0 174.7L390.1 176.6L387.9 176.8L387.1 174.4L385.3 171.7L383.6 168.2L384.3 166.8L385.7 165.2L386.0 162.4L384.7 161.2L384.3 158.1L385.3 155.9L387.1 155.9L387.6 155.0L386.8 154.2L389.2 151.0L390.6 148.5L391.5 146.9L393.1 146.9L393.4 145.7L396.6 146.0L396.6 144.5L397.6 144.5L400.1 145.5L403.0 147.1L403.8 150.5L404.5 151.4ZM411.0 144.6L411.1 146.1L414.1 147.6L412.9 149.3L415.6 151.9L414.9 153.8L416.9 155.6L416.5 157.1L419.5 158.7L419.1 159.9L417.8 161.2L414.5 164.3L411.3 164.5L408.2 165.3L405.2 165.8L404.0 164.5L402.1 163.8L402.1 161.4L400.9 159.3L401.5 157.9L402.9 156.5L406.4 154.0L407.5 153.5L407.1 152.5L404.5 151.4L403.8 150.5L403.0 147.1L400.1 145.5L397.6 144.5L398.5 143.9L400.6 145.1L402.8 144.9L404.7 145.5L406.1 144.5L406.5 142.9L408.9 142.2L411.3 143.0ZM383.8 174.0L383.4 175.0L382.8 174.7L381.5 176.5L382.1 177.7L380.9 178.1L379.5 177.7L378.6 176.4L378.4 173.9L378.7 173.2L379.2 172.5L380.8 172.3L381.5 171.6L382.9 171.0L383.0 172.2L382.5 173.0L382.7 173.7ZM386.6 174.9L387.4 176.1L386.4 178.1L384.2 176.8L383.9 175.7ZM337.9 150.4L337.4 151.9L339.1 153.4L336.7 155.2L331.3 156.8L329.7 157.2L327.5 156.9L322.6 156.1L324.5 155.1L320.9 154.0L324.1 153.5L324.1 152.9L320.6 152.3L322.0 150.8L324.7 150.5L327.2 152.1L330.0 150.8L332.1 151.5L335.1 150.2ZM357.4 168.7L355.3 171.4L357.2 171.0L359.3 171.1L358.8 173.0L357.0 175.3L359.0 175.4L359.1 175.7L360.9 178.6L362.2 179.0L363.4 181.8L363.9 182.8L366.3 183.3L366.1 184.9L365.1 185.6L365.9 186.9L364.1 188.2L361.4 188.2L358.0 188.9L357.1 188.4L355.8 189.6L353.9 189.3L352.5 190.2L351.4 189.7L354.4 187.1L356.2 186.5L353.1 186.1L352.6 185.1L354.7 184.4L353.6 183.0L354.1 181.4L357.0 181.6L357.3 180.2L356.0 178.6L353.6 178.2L353.2 177.5L353.9 176.4L353.3 175.7L352.2 176.9L352.2 174.5L351.3 173.2L352.1 170.7L353.6 168.8L355.1 169.0ZM352.0 178.8L350.9 180.4L349.5 179.9L348.3 180.0L348.7 178.6L348.4 177.3L350.0 177.2ZM350.9 180.4L351.2 182.2L349.6 184.5L346.0 185.9L343.3 185.6L345.0 183.0L344.1 180.4L346.9 178.5L348.4 177.3L348.7 178.6L348.3 180.0L349.5 179.9ZM370.2 189.2L371.6 190.4L372.6 190.2L374.4 191.3L374.9 191.6L375.5 191.5L376.4 192.2L379.3 192.6L378.4 194.4L378.2 196.2L377.7 196.6L376.7 196.4L376.8 197.0L375.4 198.5L375.4 199.6L376.3 199.2L377.1 200.4L377.0 201.1L377.7 202.1L377.0 202.8L377.6 204.8L378.7 205.1L378.5 206.3L376.7 207.7L372.5 207.0L369.5 207.9L369.3 209.4L366.8 209.8L364.5 208.6L363.7 209.1L359.9 208.0L359.0 207.0L360.1 205.4L360.6 200.3L358.4 197.6L357.0 196.3L353.9 195.4L353.7 193.5L356.3 192.9L359.7 193.6L359.1 190.7L361.0 191.8L365.7 189.8L366.3 187.7L368.0 187.2L368.3 188.1L369.2 188.2ZM381.4 209.0L382.7 208.0L383.1 210.3L382.5 212.3L381.5 211.7L381.0 210.0ZM344.0 211.0L344.1 209.1L343.3 208.0L346.4 206.1L348.9 206.6L351.7 206.6L353.9 207.0L355.6 206.9L359.0 207.0L359.9 208.0L363.7 209.1L364.5 208.6L366.8 209.8L369.3 209.4L369.4 210.9L367.4 212.6L364.7 213.2L364.5 214.1L363.2 215.5L362.4 217.6L363.2 219.1L362.0 220.3L361.5 222.0L359.9 222.5L358.4 224.5L353.6 224.5L352.2 225.4L351.3 226.4L350.3 226.2L349.5 225.3L348.9 223.8L346.9 223.4L346.8 222.5L347.6 221.6L347.9 220.8L347.2 220.1L347.8 218.4L347.0 216.8L347.9 216.6L348.0 215.4L348.4 215.0L348.5 213.0L349.5 212.3L348.9 211.0L347.7 210.9L347.4 211.2L346.1 211.2L345.6 209.9L344.8 210.3ZM344.0 211.0L344.8 210.3L345.6 209.9L346.1 211.2L347.4 211.2L347.7 210.9L348.9 211.0L349.5 212.3L348.5 213.0L348.4 215.0L348.0 215.4L347.9 216.6L347.0 216.8L347.8 218.4L347.2 220.1L347.9 220.8L347.6 221.6L346.8 222.5L346.9 223.4L346.0 224.1L344.9 223.7L343.8 224.0L344.2 222.0L344.0 220.3L343.1 220.1L342.6 219.1L342.8 217.4L343.7 216.5L343.9 215.4L344.4 213.9L344.4 212.8L344.0 211.8ZM388.4 198.4L391.3 199.0L391.2 200.3L391.8 201.4L390.1 201.0L388.5 201.9L388.6 203.2L388.4 203.9L389.2 205.3L391.2 206.5L392.4 208.7L394.9 210.8L396.6 210.8L397.1 211.3L396.6 211.8L398.5 212.8L400.1 213.6L402.1 214.9L402.3 215.4L402.0 216.3L400.7 215.1L398.8 214.7L398.1 216.4L399.7 217.3L399.5 218.7L398.6 218.9L397.6 221.1L396.7 221.3L396.7 220.5L397.0 219.1L397.5 218.5L396.5 217.0L395.8 215.7L394.9 215.4L394.2 214.3L392.8 213.8L391.8 212.7L390.3 212.6L388.6 211.4L386.5 209.7L385.0 208.2L384.3 205.7L383.2 205.4L381.5 204.5L380.5 204.9L379.4 206.1L378.5 206.3L378.7 205.1L377.6 204.8L377.0 202.8L377.7 202.1L377.0 201.1L377.1 200.4L378.0 200.9L379.0 200.8L380.1 199.9L380.5 200.3L381.5 200.2L381.8 199.2L383.4 199.5L384.3 199.1L384.4 198.1L385.6 198.4L385.8 197.9L387.8 197.5ZM396.3 220.4L395.7 222.5L396.0 223.3L395.7 224.6L394.0 223.6L392.8 223.4L389.8 222.1L390.0 220.7L392.5 221.0L394.7 220.7ZM382.5 212.7L383.8 214.5L383.7 218.0L382.7 217.8L381.9 218.7L381.0 218.0L380.8 214.8L380.3 213.4L381.5 213.5ZM382.1 177.7L382.2 178.6L384.2 179.2L384.3 180.1L386.2 179.6L387.3 179.0L389.5 179.9L390.5 180.7L391.1 182.0L390.6 182.7L391.4 183.6L392.0 184.9L391.9 185.7L392.9 187.3L392.0 187.6L391.5 187.3L391.0 187.8L389.6 188.3L388.9 188.9L387.5 189.5L387.9 190.2L388.2 191.3L389.2 191.9L390.5 193.0L389.8 194.2L389.1 194.5L389.5 196.1L389.4 196.6L388.7 196.1L387.7 196.0L386.3 196.5L384.5 196.3L384.2 197.0L383.2 196.3L382.5 196.4L380.3 195.7L379.9 196.2L378.2 196.2L378.4 194.4L379.3 192.6L376.4 192.2L375.5 191.5L375.5 190.4L375.1 189.8L375.3 188.1L374.8 185.5L376.0 185.5L376.5 184.5L376.9 182.3L376.5 181.4L376.8 180.9L378.5 180.7L378.9 181.3L380.1 180.1L379.6 179.1L379.5 177.7L380.9 178.1ZM392.9 187.3L391.9 185.7L392.0 184.9L391.4 183.6L390.6 182.7L391.1 182.0L390.5 180.7L391.8 180.0L394.7 178.9L397.0 178.0L399.0 178.4L399.2 179.0L401.1 179.1L403.5 179.3L407.1 179.3L408.1 179.6L408.7 180.3L409.0 181.4L409.6 182.4L409.8 183.4L408.7 183.9L409.4 185.1L409.6 186.2L410.9 188.4L410.8 189.1L409.9 189.4L408.3 191.5L409.0 192.6L408.5 192.5L406.5 191.5L405.1 191.8L404.1 191.6L403.0 192.1L401.8 191.2L401.1 191.6L400.9 191.4L399.9 190.2L398.4 190.0L398.1 189.2L396.7 189.0L396.5 189.6L395.3 189.1L395.4 188.4L393.9 188.2ZM374.9 181.3L376.5 181.4L376.9 182.3L376.5 184.5L376.0 185.5L374.8 185.5L375.3 188.1L374.2 187.5L372.9 186.4L371.0 186.9L369.6 186.7L370.6 186.1L372.2 182.4L374.9 181.3ZM369.6 186.7L371.0 186.9L372.9 186.4L374.2 187.5L375.3 188.1L375.1 189.8L374.6 189.9L374.4 191.3L372.6 190.2L371.6 190.4L370.2 189.2L369.2 188.2L368.3 188.1L368.0 187.2ZM375.1 189.8L375.5 190.4L375.5 191.5L374.9 191.6L374.4 191.3L374.6 189.9ZM382.5 196.4L382.7 196.9L382.4 197.5L383.3 198.0L384.4 198.1L384.3 199.1L383.4 199.5L381.8 199.2L381.5 200.2L380.5 200.3L380.1 199.9L379.0 200.8L378.0 200.9L377.1 200.4L376.3 199.2L375.4 199.6L375.4 198.5L376.8 197.0L376.7 196.4L377.7 196.6L378.2 196.2L379.9 196.2L380.3 195.7ZM397.5 194.9L397.4 196.0L396.3 196.0L396.7 196.5L396.2 198.2L395.8 198.6L394.0 198.6L393.0 199.2L391.3 199.0L388.4 198.4L387.8 197.5L385.8 197.9L385.6 198.4L384.4 198.1L383.3 198.0L382.4 197.5L382.7 196.9L382.5 196.4L383.2 196.3L384.2 197.0L384.5 196.3L386.3 196.5L387.7 196.0L388.7 196.1L389.4 196.6L389.5 196.1L389.1 194.5L389.8 194.2L390.5 193.0L392.0 193.8L393.1 192.8L393.8 192.6L395.4 193.4L396.4 193.2L397.3 193.7L397.2 194.0ZM397.3 193.7L396.4 193.2L395.4 193.4L393.8 192.6L393.1 192.8L392.0 193.8L390.5 193.0L389.2 191.9L388.2 191.3L387.9 190.2L387.5 189.5L388.9 188.9L389.6 188.3L391.0 187.8L391.5 187.3L392.0 187.6L392.9 187.3L393.9 188.2L395.4 188.4L395.3 189.1L396.5 189.6L396.7 189.0L398.1 189.2L398.4 190.0L399.9 190.2L400.9 191.4L400.3 191.4L400.1 191.9L399.6 192.0L399.5 192.6L399.2 192.7L399.1 192.9L398.5 193.2L397.6 193.1ZM400.9 191.4L401.1 191.6L401.8 191.2L403.0 192.1L404.1 191.6L405.1 191.8L406.5 191.5L408.5 192.5L408.0 193.1L407.8 194.2L407.3 194.4L405.1 193.6L404.4 193.8L404.0 194.4L403.1 194.7L402.9 194.5L401.9 194.9L401.1 195.0L401.0 195.5L399.3 195.8L398.6 195.6L397.5 194.9L397.2 194.0L397.3 193.7L397.6 193.1L398.5 193.2L399.1 192.9L399.2 192.7L399.5 192.6L399.6 192.0L400.1 191.9L400.3 191.4ZM396.2 198.2L396.7 196.5L396.3 196.0L397.4 196.0L397.5 194.9L398.6 195.6L399.3 195.8L401.0 195.5L401.1 195.0L401.9 194.9L402.9 194.5L403.1 194.7L404.0 194.4L404.4 193.8L405.1 193.6L407.3 194.4L407.8 194.2L409.0 194.8L409.2 195.5L408.0 196.1L407.2 197.8L406.2 199.5L404.6 200.0L403.3 199.9L401.8 200.6L401.0 201.0L399.3 200.5L397.7 199.4L397.0 199.1L396.5 198.2ZM391.3 199.0L393.0 199.2L394.0 198.6L395.8 198.6L396.2 198.2L396.5 198.2L397.0 199.1L395.4 199.7L395.3 200.8L394.6 201.0L394.7 201.8L393.8 201.7L393.1 201.3L392.7 201.7L391.3 201.6L391.8 201.4L391.2 200.3ZM401.8 200.6L402.4 201.6L403.1 202.3L402.4 203.3L401.4 202.7L400.0 202.7L398.1 202.3L397.2 202.4L396.8 202.9L396.0 202.3L395.6 203.4L396.8 204.6L397.3 205.4L398.3 206.3L399.1 206.9L400.0 208.0L402.0 209.0L401.8 209.4L399.7 208.5L398.4 207.5L396.5 206.7L394.5 204.9L395.0 204.7L393.9 203.6L393.8 202.7L392.5 202.3L391.9 203.4L391.3 202.5L391.2 201.7L391.3 201.6L392.7 201.7L393.1 201.3L393.8 201.7L394.7 201.8L394.6 201.0L395.3 200.8L395.4 199.7L397.0 199.1L397.7 199.4L399.3 200.5L401.0 201.0ZM402.4 203.3L403.1 203.3L402.7 204.4L403.8 205.4L403.6 206.6L403.1 206.7L402.8 207.0L402.1 207.5L402.0 209.0L400.0 208.0L399.1 206.9L398.3 206.3L397.3 205.4L396.8 204.6L395.6 203.4L396.0 202.3L396.8 202.9L397.2 202.4L398.1 202.3L400.0 202.7L401.4 202.7ZM406.1 201.8L407.4 202.4L407.7 203.5L409.0 204.2L409.6 203.7L410.1 204.0L409.7 204.4L410.1 204.9L409.7 205.5L410.0 206.4L411.1 207.5L410.4 208.3L410.1 209.1L410.4 209.5L410.1 209.8L409.1 209.9L408.4 210.0L408.3 209.8L408.5 209.5L408.7 208.9L408.4 208.9L407.9 208.4L407.6 208.3L407.3 207.9L406.9 207.7L406.5 207.4L406.2 207.5L406.0 208.4L405.5 208.6L405.6 208.3L404.8 207.8L404.1 207.5L403.7 207.2L403.1 206.7L403.6 206.6L403.8 205.4L402.7 204.4L403.1 203.3L402.4 203.3L403.1 202.3L402.4 201.6L401.8 200.6L403.3 199.9L404.6 200.0L405.8 201.0ZM404.6 209.4L404.4 208.9L403.6 210.1L403.8 211.0L403.4 210.8L402.7 209.9L401.8 209.4L402.0 209.0L402.1 207.5L402.8 207.0L403.1 206.7L403.7 207.2L404.1 207.5L404.8 207.8L405.6 208.3L405.5 208.6L405.1 209.1ZM406.4 211.0L406.2 210.1L405.6 209.8L405.1 209.1L405.5 208.6L406.0 208.4L406.2 207.5L406.5 207.4L406.9 207.7L407.3 207.9L407.6 208.3L407.9 208.4L408.4 208.9L408.7 208.9L408.5 209.5L408.3 209.8L408.4 210.0L407.9 210.1L406.7 210.5L406.7 211.0ZM407.6 213.7L407.6 214.3L406.9 214.7L406.9 215.5L406.0 216.8L405.6 216.6L405.5 216.0L404.3 215.2L404.0 213.9L404.0 212.2L404.2 211.4L403.8 211.0L403.6 210.1L404.4 208.9L404.6 209.4L405.1 209.1L405.6 209.8L406.2 210.1L406.4 211.0L406.2 211.9L406.6 213.0ZM410.1 209.8L411.2 210.6L411.5 212.4L411.1 212.5L410.8 212.9L409.7 212.9L408.9 213.4L407.6 213.7L406.6 213.0L406.2 211.9L406.4 211.0L406.7 211.0L406.7 210.5L407.9 210.1L408.4 210.0L409.1 209.9ZM414.5 227.0L415.7 227.9L417.4 227.8L419.0 228.0L419.0 228.4L420.2 228.1L420.0 228.9L416.8 229.1L416.9 228.7L414.1 228.1ZM419.2 211.8L418.7 213.4L418.2 213.7L416.9 213.6L415.8 213.4L413.3 214.0L414.9 215.5L413.9 215.9L412.7 215.9L411.4 214.6L411.1 215.2L411.7 216.7L412.9 217.9L412.2 218.5L413.5 219.7L414.6 220.5L414.8 221.9L412.7 221.2L413.5 222.6L412.1 222.8L413.1 225.2L411.7 225.2L409.8 224.1L408.9 222.0L408.3 220.2L407.4 219.0L406.2 217.6L406.0 216.8L406.9 215.5L406.9 214.7L407.6 214.3L407.6 213.7L408.9 213.4L409.7 212.9L410.8 212.9L411.1 212.5L411.5 212.4L413.1 212.4L414.7 211.7L416.3 212.6L418.2 212.4L418.1 211.1ZM410.1 204.9L410.8 205.9L411.6 205.7L413.3 206.2L416.3 206.3L417.3 205.6L419.7 205.0L421.3 206.0L422.6 206.2L421.6 207.3L421.1 209.1L422.0 210.6L420.1 210.3L418.1 211.1L418.2 212.4L416.3 212.6L414.7 211.7L413.1 212.4L411.5 212.4L411.2 210.6L410.1 209.8L410.4 209.5L410.1 209.1L410.4 208.3L411.1 207.5L410.0 206.4L409.7 205.5ZM409.2 195.5L410.0 195.0L411.3 195.3L412.6 195.3L413.6 195.9L414.3 195.5L415.7 195.3L416.2 194.7L417.0 194.7L417.7 194.9L418.4 195.7L419.2 196.7L420.6 198.3L420.8 199.4L420.7 200.5L421.3 201.6L422.3 202.1L423.2 201.7L424.2 202.2L424.3 202.8L423.4 203.4L422.7 203.1L422.6 206.2L421.3 206.0L419.7 205.0L417.3 205.6L416.3 206.3L413.3 206.2L411.6 205.7L410.8 205.9L410.1 204.9L409.7 204.4L410.1 204.0L409.6 203.7L409.0 204.2L407.7 203.5L407.4 202.4L406.1 201.8L405.8 201.0L404.6 200.0L406.2 199.5L407.2 197.8L408.0 196.1ZM417.0 194.7L417.4 194.3L418.8 194.0L420.4 194.8L421.2 194.9L422.2 195.6L422.2 196.5L423.0 196.9L423.5 198.0L424.3 198.6L424.2 199.0L424.6 199.3L424.1 199.4L422.9 199.4L422.6 199.0L422.2 199.2L422.4 199.7L422.0 200.5L421.8 201.4L421.3 201.6L420.7 200.5L420.8 199.4L420.6 198.3L419.2 196.7L418.4 195.7L417.7 194.9ZM425.8 184.9L426.5 185.0L426.9 184.4L427.5 184.5L429.5 184.3L431.1 185.7L430.7 186.2L431.0 187.0L432.6 187.1L433.5 188.2L433.6 188.7L436.3 189.6L437.8 189.2L439.2 190.4L440.4 190.3L443.6 191.2L443.7 191.9L443.2 193.2L444.0 194.6L443.8 195.5L441.9 195.7L441.0 196.4L441.1 197.5L439.5 197.7L438.3 198.5L436.4 198.7L434.8 199.6L435.2 201.2L436.3 201.9L438.4 201.7L438.2 202.6L436.0 203.1L433.4 204.6L432.2 204.0L432.4 202.8L430.0 202.1L430.3 201.6L432.2 200.7L431.5 200.1L428.2 199.5L427.9 198.5L426.1 198.9L425.5 200.3L424.2 202.2L423.2 201.7L422.3 202.1L421.3 201.6L421.8 201.4L422.0 200.5L422.4 199.7L422.2 199.2L422.6 199.0L422.9 199.4L424.1 199.4L424.6 199.3L424.2 199.0L424.3 198.6L423.5 198.0L423.0 196.9L422.2 196.5L422.2 195.6L421.2 194.9L420.4 194.8L418.8 194.0L417.4 194.3L417.0 194.7L416.2 194.7L415.7 195.3L414.3 195.5L413.6 195.9L412.6 195.3L411.3 195.3L410.0 195.0L409.2 195.5L409.0 194.8L407.8 194.2L408.0 193.1L408.5 192.5L409.0 192.6L408.3 191.5L409.9 189.4L410.8 189.1L410.9 188.4L409.6 186.2L410.6 186.1L411.5 185.4L413.1 185.3L415.1 185.5L417.4 186.1L419.0 186.2L419.8 186.5L420.4 186.1L421.1 186.7L422.8 186.6L423.7 186.8L423.6 185.6L424.1 185.0ZM408.7 180.3L410.6 180.3L412.6 179.4L412.8 178.0L414.2 177.2L413.8 176.1L414.9 175.7L416.8 174.8L418.9 175.4L419.3 176.0L420.3 175.7L422.3 176.3L422.7 177.4L422.4 178.1L423.9 179.7L424.8 180.2L424.8 180.6L426.2 181.1L426.9 181.7L426.3 182.3L424.7 182.2L424.3 182.4L425.0 183.3L425.8 184.9L424.1 185.0L423.6 185.6L423.7 186.8L422.8 186.6L421.1 186.7L420.4 186.1L419.8 186.5L419.0 186.2L417.4 186.1L415.1 185.5L413.1 185.3L411.5 185.4L410.6 186.1L409.6 186.2L409.4 185.1L408.7 183.9L409.8 183.4L409.6 182.4L409.0 181.4ZM407.1 179.3L406.8 178.7L407.0 178.0L406.0 177.6L404.0 177.2L403.3 175.1L405.3 174.3L408.6 174.5L410.4 174.3L410.7 174.8L411.8 174.9L413.8 176.1L414.2 177.2L412.8 178.0L412.6 179.4L410.6 180.3L408.7 180.3L408.1 179.6ZM403.3 175.1L403.1 173.3L403.8 171.7L405.4 170.9L407.2 172.7L408.7 172.7L408.8 170.8L410.3 170.4L411.2 170.7L413.0 171.6L414.5 171.6L415.5 172.1L415.9 173.3L416.8 174.8L414.9 175.7L413.8 176.1L411.8 174.9L410.7 174.8L410.4 174.3L408.6 174.5L405.3 174.3ZM408.8 170.8L408.8 169.4L408.1 169.7L406.8 168.8L406.4 167.4L408.6 166.7L410.9 166.4L413.0 166.8L414.9 166.7L415.2 167.2L414.2 168.6L415.2 170.8L414.5 171.6L413.0 171.6L411.2 170.7L410.3 170.4ZM115.0 192.7L114.8 192.7L112.5 190.2L111.9 189.1L109.0 188.1L109.6 185.8L111.0 184.3L109.4 183.2L110.6 181.2L109.8 179.4L110.8 178.1L112.9 176.9L114.2 175.4L112.3 173.8L112.9 171.0L113.3 169.3L112.7 168.2L112.3 167.2L112.6 166.0L109.9 166.8L106.8 168.1L106.7 166.5L106.5 165.5L105.4 164.8L103.7 164.7L118.2 151.4L128.1 143.1L130.6 143.7L132.0 144.7L133.5 144.9L136.1 144.0L138.9 143.3L141.1 143.6L144.7 142.6L148.0 142.1L148.1 143.0L150.0 142.5L151.5 141.5L152.4 141.7L153.0 143.6L156.9 142.2L155.2 143.8L157.7 143.5L159.0 142.8L160.9 142.9L162.4 143.9L165.5 144.7L167.4 145.1L169.2 144.9L170.4 146.0L166.9 147.1L169.5 147.6L174.4 147.3L176.2 147.0L176.8 148.3L179.7 147.2L178.8 146.2L180.6 145.5L182.8 145.4L184.3 145.1L185.2 145.7L185.8 146.9L187.9 146.7L190.0 147.7L192.9 147.3L195.4 147.4L196.3 146.0L198.2 145.6L200.2 146.4L198.4 148.5L201.0 146.7L202.3 146.8L204.9 144.5L204.2 143.2L203.0 142.3L205.3 139.9L208.6 138.4L210.5 138.7L211.3 139.7L211.4 142.1L209.1 143.2L211.8 143.6L210.0 145.9L213.6 144.1L214.5 145.5L212.8 147.2L213.3 148.7L216.3 147.1L218.9 145.2L220.8 142.8L223.1 142.9L225.3 143.2L226.7 144.3L226.1 145.4L224.0 146.6L224.3 147.8L223.4 148.9L218.9 150.5L216.3 150.8L215.0 150.2L213.6 151.3L210.6 153.2L209.4 154.2L206.3 155.8L203.6 156.0L201.5 156.9L200.3 158.5L198.0 158.7L194.5 160.7L190.6 163.3L188.6 165.2L186.6 168.0L189.1 168.4L188.5 170.7L188.1 172.5L191.1 172.0L194.0 173.1L195.3 174.0L196.0 175.2L198.0 175.9L199.4 176.9L202.5 177.0L204.5 177.3L203.0 179.4L202.3 181.9L202.4 184.7L204.2 187.1L206.1 186.3L208.4 183.7L209.3 179.8L208.6 178.5L212.3 177.3L215.3 175.6L217.3 173.9L218.0 172.2L217.8 170.2L216.5 168.4L220.1 165.8L220.6 163.7L222.1 160.0L223.7 159.4L226.4 160.1L228.1 160.3L230.0 159.7L231.2 160.5L232.7 161.8L232.8 162.8L235.9 162.9L234.8 164.9L233.9 168.0L235.5 168.4L236.1 169.8L239.5 168.4L242.5 165.8L244.2 164.7L244.7 166.8L245.7 169.9L246.6 172.8L245.1 174.3L247.1 175.7L248.3 177.1L251.1 177.8L252.1 178.6L252.1 180.7L253.5 181.0L253.9 181.9L253.1 184.7L251.4 185.7L249.6 186.6L246.1 187.5L242.9 189.5L239.3 189.9L235.2 189.4L232.2 189.4L230.1 189.6L227.7 191.4L224.8 192.5L220.6 195.9L217.4 198.2L219.3 197.8L223.8 194.5L228.8 192.4L231.9 192.1L233.2 193.3L230.7 195.0L230.5 197.8L230.5 199.7L232.8 201.0L236.3 200.6L239.2 197.8L238.8 199.6L239.9 200.5L236.8 202.2L231.8 203.8L229.4 204.8L226.5 206.6L225.0 206.5L225.6 204.3L229.8 202.2L226.5 202.2L224.1 202.5L223.3 201.1L224.4 197.6L223.8 196.9L222.2 197.3L221.8 196.6L219.6 198.6L218.2 200.5L217.1 201.7L216.1 202.1L215.4 202.2L215.0 202.9L211.2 202.9L208.0 202.9L206.9 203.4L204.0 205.2L203.7 205.4L202.7 206.4L200.8 206.4L198.7 206.4L197.6 206.8L197.8 207.4L197.7 208.1L197.5 208.4L194.3 209.7L192.0 210.1L189.0 211.5L188.5 211.5L187.9 211.1L187.9 210.7L188.0 210.4L188.8 209.5L190.3 208.1L191.5 206.6L192.0 204.3L192.5 202.0L190.8 200.8L191.2 200.4L191.1 200.0L190.5 200.0L190.3 199.6L190.4 199.0L189.9 199.3L189.4 199.2L189.6 199.0L189.2 198.7L189.3 198.0L188.1 197.2L186.8 196.4L185.2 195.4L183.8 194.5L181.6 195.2L180.9 195.2L178.8 194.5L177.0 194.9L175.4 194.1L173.5 193.7L172.2 193.5L171.7 193.1L172.1 191.7L171.4 191.7L170.9 192.7L166.7 192.7L159.8 192.7L153.0 192.7L146.9 192.7L140.8 192.7L134.9 192.7L128.7 192.7L126.8 192.7L120.8 192.7ZM224.9 135.7L225.0 137.1L227.9 135.4L232.7 134.5L233.6 136.7L232.3 138.1L236.0 137.5L238.2 136.6L240.9 137.7L242.4 138.7L242.0 139.6L245.3 139.1L246.1 140.5L249.5 141.4L250.4 142.2L250.8 144.3L247.1 145.3L250.2 146.8L252.6 147.3L254.0 149.3L256.6 149.5L255.3 151.1L250.8 153.7L249.2 152.7L247.6 150.5L245.2 150.8L244.3 152.1L245.4 153.5L247.2 154.5L247.6 155.2L247.6 157.5L246.2 159.1L244.2 158.5L240.7 156.6L242.2 158.6L243.3 160.1L243.2 160.9L238.8 159.9L235.7 158.6L234.1 157.4L235.1 156.8L233.1 155.6L231.2 154.5L230.9 155.1L225.5 155.5L224.5 154.7L226.7 153.0L230.1 153.0L233.8 152.7L233.7 151.9L235.0 150.7L238.6 148.5L238.7 147.5L238.6 146.8L236.7 145.7L233.7 144.9L235.2 144.4L234.4 143.0L233.0 142.9L232.2 142.1L230.8 142.8L227.6 143.1L222.0 142.6L218.9 141.9L216.5 141.6L215.8 140.9L218.3 139.9L216.0 139.9L217.3 137.7L220.2 135.8L222.7 135.0L227.2 134.4ZM179.6 135.4L180.7 135.8L178.8 136.8L183.1 136.2L184.2 137.2L187.1 136.2L187.8 136.9L187.0 138.9L188.7 138.0L189.9 135.9L191.6 135.6L192.9 135.9L193.7 136.8L192.6 138.8L191.7 140.4L193.4 141.4L195.4 142.5L194.4 143.4L191.5 143.6L191.8 144.4L190.5 145.3L187.7 144.9L185.4 144.3L183.3 144.4L179.5 145.2L174.9 145.5L171.7 145.7L171.8 144.7L170.1 144.1L168.4 144.3L168.1 142.6L169.5 142.4L172.4 142.0L174.7 142.1L177.2 141.7L174.5 141.2L170.8 141.4L168.5 141.3L168.5 140.5L173.3 139.7L170.7 139.7L168.5 139.1L171.7 137.5L173.8 136.7ZM172.5 133.1L174.2 133.5L178.0 133.6L178.8 134.2L179.5 135.1L176.8 135.6L171.2 137.1L167.4 138.6L166.4 139.5L160.9 140.6L161.1 139.6L158.7 138.5L160.5 137.6L163.5 136.0L166.6 134.7L166.7 133.4ZM269.7 117.2L273.2 117.3L275.9 117.5L278.0 117.9L277.6 118.3L273.6 119.0L269.9 119.3L268.3 119.7L271.4 119.7L267.1 120.7L264.3 121.2L260.5 122.6L257.2 122.9L255.9 123.3L251.4 123.5L253.1 123.7L251.8 124.1L252.1 125.0L250.1 125.6L247.2 126.2L245.8 126.9L243.1 127.5L242.9 128.0L245.5 127.9L245.1 128.4L239.9 129.5L236.5 129.0L231.7 129.3L229.7 129.1L226.9 129.0L227.7 128.0L231.0 127.6L231.8 126.2L232.9 126.0L236.0 126.9L235.3 125.6L233.3 125.3L235.3 124.5L238.4 124.1L239.5 123.5L238.3 122.7L238.8 121.8L242.6 121.9L243.5 122.1L246.4 121.5L243.5 121.3L238.4 121.4L236.6 120.8L236.2 120.1L235.2 119.6L235.6 119.1L238.1 118.8L239.8 118.7L242.8 118.5L245.6 117.9L247.2 118.0L248.2 118.4L250.2 117.6L252.3 117.3L255.0 117.2L259.2 117.1L259.7 117.3L263.9 117.0L266.8 117.1ZM220.4 127.7L221.4 128.4L224.4 128.4L225.0 129.0L223.8 129.8L225.1 130.2L225.6 130.7L227.6 130.8L229.6 131.0L232.5 130.5L235.8 130.4L238.2 130.5L239.1 131.2L238.7 132.1L237.3 132.6L234.5 133.1L232.7 132.8L228.0 133.2L224.7 133.2L222.4 132.9L218.9 132.3L219.6 131.1L220.4 130.2L219.9 129.3L217.0 129.0L216.0 128.4L217.5 127.6ZM214.6 152.2L214.2 153.2L215.4 152.9L216.0 153.5L217.4 154.3L218.9 155.0L218.4 156.1L219.8 155.9L220.6 156.7L218.5 157.4L216.1 156.9L215.8 155.8L213.2 157.0L209.9 158.3L210.2 156.9L207.6 157.1L209.9 155.9L211.4 154.1L213.5 152.0ZM213.5 136.6L210.3 138.2L208.6 138.1L209.3 136.2L210.4 135.2L212.1 134.3L214.2 133.7L217.4 133.8L219.9 134.3L215.8 136.1ZM204.3 134.3L205.8 134.8L208.9 134.5L208.7 135.1L206.2 136.1L207.7 137.0L205.7 138.9L202.2 139.8L200.8 139.6L200.5 138.8L198.1 137.1L198.8 136.4L201.8 136.7L201.4 135.3ZM202.3 143.6L202.6 144.5L200.9 145.2L199.2 144.6L197.6 144.8L196.2 143.8L198.2 143.1L200.2 142.2L201.5 142.8L202.1 143.2ZM197.7 129.5L197.5 130.2L199.2 129.9L200.7 130.0L199.8 131.0L197.7 131.9L192.0 132.2L187.0 133.1L184.6 133.2L185.2 132.5L189.6 131.6L182.2 131.9L180.5 131.5L185.3 129.5L187.5 128.9L190.9 129.6L192.1 130.8L194.6 131.0L194.9 129.0L197.2 128.3L198.5 128.6ZM213.9 129.4L212.7 130.4L210.4 131.9L207.6 132.1L206.3 131.8L207.6 130.6L204.9 130.8L206.7 129.2L208.3 129.3L211.4 128.6L213.4 128.7ZM237.4 122.9L238.5 123.5L235.8 124.0L231.5 125.4L228.8 125.6L226.0 125.3L225.3 124.6L226.2 123.9L227.9 123.4L225.3 123.4L224.4 122.8L224.6 122.0L226.6 121.2L228.3 120.7L229.9 120.6L229.8 120.2L233.1 120.1L233.8 121.0L235.7 121.4L237.6 121.7ZM189.6 126.6L187.2 128.2L185.1 128.8L183.5 128.9L179.5 129.8L176.6 130.1L175.2 129.7L175.2 129.7L179.9 128.2L184.9 126.9L187.1 126.9ZM209.8 123.5L212.3 123.8L215.4 124.5L215.3 125.4L214.9 126.1L212.7 125.9L211.1 125.3L207.9 125.3L210.1 124.7L208.9 124.2ZM218.7 124.3L220.5 124.4L221.3 124.5L222.2 125.2L220.9 125.9L218.3 126.3L217.6 125.8L217.9 125.1ZM252.6 186.8L251.0 188.4L249.0 190.6L250.6 189.8L251.7 190.3L250.8 191.2L252.3 191.9L253.5 191.3L255.2 192.0L254.1 193.9L255.6 193.5L255.5 194.8L255.7 196.4L254.2 198.6L253.3 198.8L252.1 198.3L253.1 196.2L252.6 195.9L249.6 198.1L248.4 198.0L250.2 196.8L248.4 196.2L246.2 196.3L242.2 196.2L242.2 195.5L243.7 194.6L243.1 193.9L245.2 192.4L248.6 188.3L250.3 186.9L252.3 186.0L253.2 186.1ZM112.9 193.9L111.6 194.3L109.0 193.1L109.1 192.2L107.9 191.3L108.0 190.6L106.2 190.2L106.5 188.8L107.1 188.2L108.8 188.8L109.7 189.1L111.4 189.4L111.5 190.3L111.6 191.5L112.9 192.5ZM105.0 180.0L107.0 179.8L104.1 182.7L104.2 184.7L103.4 184.7L103.1 183.5L103.3 182.4L103.0 181.6L103.6 180.5L104.3 179.7ZM232.4 198.9L233.8 199.3L235.7 199.2L234.4 200.3L233.6 200.4L231.3 199.3L231.1 198.5L232.1 197.7ZM233.6 190.5L234.3 190.2L236.7 190.9L238.4 191.9L238.3 192.4L237.3 192.5L235.0 191.7ZM234.5 146.3L235.4 146.9L234.7 148.0L231.5 148.5L231.3 147.8L232.7 146.7ZM235.1 136.5L234.2 135.5L235.0 134.6L239.2 134.7L241.2 135.9L240.7 136.5L237.4 136.3ZM196.8 135.2L193.8 136.7L193.2 135.0L196.0 134.8ZM115.0 192.7L120.8 192.7L126.8 192.7L128.7 192.7L134.9 192.7L140.8 192.7L146.9 192.7L153.0 192.7L159.8 192.7L166.7 192.7L170.9 192.7L171.4 191.7L172.1 191.7L171.7 193.1L172.2 193.5L173.5 193.7L175.4 194.1L177.0 194.9L178.8 194.5L180.9 195.2L181.6 195.2L183.8 194.5L185.2 195.4L186.8 196.4L188.1 197.2L189.3 198.0L189.2 198.7L189.6 199.0L189.4 199.2L189.9 199.3L190.4 199.0L190.3 199.6L190.5 200.0L191.1 200.0L191.2 200.4L190.8 200.8L192.5 202.0L192.0 204.3L191.5 206.6L190.3 208.1L188.8 209.5L188.0 210.4L187.9 210.7L187.9 211.1L188.5 211.5L189.0 211.5L192.0 210.1L194.3 209.7L197.5 208.4L197.7 208.1L197.8 207.4L197.6 206.8L198.7 206.4L200.8 206.4L202.7 206.4L203.7 205.4L204.0 205.2L206.9 203.4L208.0 202.9L211.2 202.9L215.0 202.9L215.4 202.2L216.1 202.1L217.1 201.7L218.2 200.5L219.6 198.6L221.8 196.6L222.2 197.3L223.8 196.9L224.4 197.6L223.3 201.1L224.1 202.5L224.2 203.4L221.6 204.6L219.2 205.5L216.7 206.3L215.1 207.8L214.6 208.4L214.1 209.8L214.3 211.2L215.2 211.2L215.3 210.3L215.7 210.9L215.3 211.6L213.8 212.0L212.8 212.0L211.1 212.4L210.1 212.5L208.8 212.7L206.8 213.4L210.1 212.9L210.6 213.4L207.4 214.2L206.0 214.2L206.2 213.9L205.3 214.6L205.9 214.7L204.8 216.6L202.7 218.6L202.7 217.9L202.3 217.8L201.8 217.1L201.8 218.5L202.2 219.0L202.0 220.0L201.0 221.0L199.2 223.1L199.0 223.0L200.2 221.2L199.4 220.2L199.8 218.0L199.0 219.2L199.0 220.8L197.7 220.4L198.9 221.2L198.3 223.7L198.9 223.9L198.9 224.8L198.5 227.4L196.6 229.4L194.1 230.1L192.3 231.7L191.2 231.8L189.8 232.8L189.3 233.7L186.4 235.4L184.9 236.6L183.5 238.2L182.7 240.0L182.7 241.8L183.0 244.1L183.6 245.9L183.4 247.1L183.9 250.1L183.5 251.9L183.2 252.9L182.4 254.5L181.7 254.8L180.6 254.5L180.5 253.3L179.7 252.7L178.9 250.5L178.2 248.5L178.1 247.5L178.9 245.7L178.6 244.3L177.3 242.1L176.6 241.7L174.0 242.9L173.7 242.8L172.9 241.6L171.6 240.9L169.1 241.2L167.2 241.0L165.4 241.1L164.4 241.5L164.7 242.2L164.4 243.3L164.7 243.8L164.2 244.1L163.5 243.7L162.5 244.2L160.9 244.2L159.6 242.8L157.6 243.1L156.1 242.5L154.7 242.7L152.7 243.3L150.2 245.2L147.7 246.4L146.2 247.6L145.4 248.8L145.0 250.6L144.9 251.9L145.1 252.7L144.2 252.8L142.7 252.2L141.2 251.4L140.8 250.2L140.7 248.4L139.7 246.9L139.3 245.3L138.7 243.6L137.4 242.5L135.6 242.6L133.6 244.6L132.0 243.9L131.0 243.1L130.9 241.6L130.5 240.3L129.6 239.1L128.7 238.3L128.2 237.4L124.4 237.4L124.0 238.4L122.3 238.4L117.9 238.5L113.5 236.6L110.6 235.3L111.0 234.8L108.1 235.1L105.5 235.3L105.6 234.0L104.8 232.5L103.9 232.2L103.9 231.4L102.7 231.3L102.2 230.6L100.3 230.3L99.9 229.9L100.2 228.5L99.2 225.8L99.0 222.2L99.4 221.6L98.8 220.8L98.2 218.6L99.0 216.4L98.6 215.0L100.2 212.9L101.4 210.6L101.8 208.7L104.0 206.2L105.7 203.9L107.3 201.6L109.0 198.1L109.8 195.9L109.9 194.8L110.5 194.3L112.9 195.1L112.5 197.5L113.4 196.9L114.4 194.8ZM109.1 140.0L108.9 141.0L110.2 140.6L112.8 140.7L112.0 141.2L114.1 141.6L116.0 141.4L118.6 142.0L121.5 142.2L122.4 142.5L125.1 142.2L126.8 142.8L128.1 143.1L118.2 151.4L103.7 164.7L105.4 164.8L106.5 165.5L106.7 166.5L106.8 168.1L109.9 166.8L112.6 166.0L112.3 167.2L112.7 168.2L113.3 169.3L112.9 171.0L112.3 173.8L114.2 175.4L112.9 176.9L110.8 178.1L110.5 177.2L109.5 176.4L110.9 174.3L110.2 172.3L111.3 170.0L109.7 169.8L106.7 169.8L105.2 169.1L103.9 166.6L102.5 166.1L100.2 165.3L97.4 165.5L95.0 164.4L93.9 163.4L91.3 163.9L89.9 165.5L88.7 165.7L86.0 166.2L83.5 167.0L80.9 167.5L82.2 166.1L85.6 163.7L88.4 163.0L88.5 162.4L84.7 163.7L81.7 165.3L77.1 167.0L77.2 168.2L73.6 169.9L70.4 171.0L67.7 171.7L66.1 172.8L61.8 174.0L60.0 175.2L56.6 176.2L55.5 176.1L53.0 176.8L50.1 177.6L47.6 178.4L43.6 179.1L43.7 178.7L47.1 177.5L49.8 176.8L53.3 175.4L55.9 175.2L58.0 174.1L62.2 172.7L63.1 172.2L65.5 171.3L67.8 169.5L70.4 168.1L67.4 168.8L67.2 168.4L65.2 169.3L65.4 168.0L63.9 168.9L64.6 167.7L61.6 168.7L60.5 168.7L62.0 167.2L63.3 166.4L63.2 165.5L60.2 166.0L60.0 164.8L59.4 164.3L61.1 162.9L60.9 161.9L63.3 160.6L66.5 159.2L68.6 158.0L70.3 157.9L71.0 158.2L73.9 157.1L75.0 157.3L77.2 156.6L78.2 155.5L77.8 155.1L80.2 154.2L79.1 154.2L76.6 154.7L75.4 155.2L74.7 154.7L71.8 155.0L70.0 154.4L70.5 153.5L70.1 152.2L73.8 151.2L79.2 150.1L80.6 150.1L78.8 151.3L82.6 151.2L83.1 149.8L82.2 148.9L82.5 147.8L82.2 146.8L80.9 146.1L83.5 145.0L86.6 144.9L90.1 143.9L92.1 142.8L95.3 141.8L97.3 141.5L101.8 140.6L103.1 140.7L107.3 139.6ZM73.2 172.4L70.3 173.4L70.0 172.8L70.9 171.6L73.6 170.7L75.0 170.4L76.1 170.5L76.0 171.3ZM57.3 165.7L55.7 166.1L55.0 165.6L54.7 165.0L57.0 164.6L58.2 164.8ZM57.8 156.5L58.3 157.0L59.7 156.8L60.4 157.4L61.7 157.7L61.2 157.9L59.2 158.4L58.5 157.9L58.4 157.5L56.7 157.6L56.5 157.4ZM9.5 270.5L9.1 270.9L8.6 270.6L8.9 269.8L8.7 268.9L8.9 268.6L9.4 268.1L9.3 267.7L9.5 267.4L9.7 267.4L10.5 267.9L10.8 268.1L11.1 268.5L11.5 269.4L11.4 269.5L10.4 270.1ZM9.3 266.4L8.5 266.6L8.2 266.1L8.0 265.8L8.0 265.7L8.3 265.5L9.0 265.7L9.5 266.1ZM6.1 264.6L6.0 264.8L5.8 264.7L5.0 264.7L4.9 264.1L4.8 264.0L5.5 263.6L5.7 263.8ZM2.7 262.9L2.4 263.2L1.7 262.7L1.9 262.5L2.3 262.2L2.8 262.3ZM8.1 265.0L7.9 265.3L6.7 265.2L7.0 264.9ZM298.8 117.9L304.0 117.0L308.7 117.1L310.7 116.5L315.6 116.4L326.3 116.6L334.4 117.8L331.7 118.4L326.4 118.4L318.9 118.6L319.4 118.9L324.4 118.7L328.4 119.2L331.3 118.8L332.2 119.3L330.4 120.3L334.1 119.7L341.1 119.0L345.2 119.4L345.9 120.1L339.8 121.3L339.0 121.7L334.3 122.0L337.6 122.1L335.6 123.4L334.1 124.6L333.6 126.7L335.1 127.9L332.7 128.0L330.1 128.7L332.7 129.7L332.6 131.4L330.9 131.6L332.6 133.4L329.0 133.5L330.7 134.4L330.0 135.1L327.7 135.4L325.5 135.4L327.2 136.9L327.0 137.8L324.0 136.9L323.0 137.5L325.1 138.0L326.9 139.3L327.2 141.1L324.1 141.5L323.1 140.6L321.3 139.4L321.5 140.9L319.4 142.0L323.7 142.1L326.0 142.2L321.1 144.1L316.1 145.9L311.0 146.6L309.1 146.7L307.1 147.5L304.1 149.9L299.9 151.5L298.6 151.6L296.1 152.1L293.5 152.7L291.5 154.1L291.0 155.7L289.6 157.2L286.0 159.1L286.2 161.0L284.7 162.9L283.0 165.2L280.4 165.4L278.4 163.4L274.7 163.4L273.4 162.1L273.0 159.8L271.1 156.9L270.8 155.4L271.4 153.3L269.9 151.2L271.3 149.5L270.5 148.7L273.4 146.1L276.3 145.3L277.4 144.4L278.5 142.7L276.2 143.4L275.2 143.8L273.5 144.1L271.8 143.4L272.4 141.9L273.6 140.7L275.2 140.7L278.3 141.3L276.1 139.9L275.0 139.2L273.2 139.5L272.2 138.9L275.0 136.9L274.5 136.2L274.0 134.7L273.5 132.5L272.0 131.7L272.6 130.9L269.3 129.7L266.2 129.5L262.0 129.6L258.2 129.8L256.9 129.1L255.3 127.9L259.8 127.3L262.9 127.2L257.0 126.7L254.3 125.9L255.2 125.2L261.6 124.3L267.7 123.4L268.9 122.7L265.6 122.1L267.5 121.4L273.4 120.2L275.6 120.0L275.7 119.3L279.4 118.9L283.8 118.6L288.1 118.6L289.2 119.1L293.6 118.2L296.4 118.8L298.3 118.9L300.9 119.5L298.1 118.6ZM145.1 252.7L143.8 255.0L143.1 256.9L142.3 260.4L141.9 261.7L142.1 263.1L142.6 264.4L142.7 266.4L143.9 268.4L144.3 269.9L145.0 271.2L147.3 271.9L148.1 273.0L150.2 272.2L151.9 272.0L153.7 271.5L155.2 271.0L156.8 270.0L157.6 268.4L158.0 266.2L158.5 265.5L160.1 264.8L162.6 264.2L164.6 264.3L166.0 264.1L166.5 264.6L166.2 265.9L164.8 267.4L164.1 269.0L164.4 269.5L163.9 270.6L163.1 272.6L162.6 272.0L162.2 272.0L161.7 272.0L160.7 273.6L160.3 273.3L160.0 273.4L160.0 273.8L157.9 273.8L155.8 273.8L155.6 275.3L154.6 275.3L155.3 276.2L156.1 276.8L156.2 277.3L156.6 277.5L156.4 278.4L153.5 278.4L152.2 280.5L152.4 281.0L152.1 281.6L151.9 282.4L149.7 279.6L148.6 278.7L146.8 278.0L145.5 278.2L143.6 279.2L142.4 279.5L140.9 278.8L139.2 278.3L137.2 277.1L135.6 276.7L133.2 275.5L131.4 274.2L130.9 273.5L129.7 273.4L127.5 272.6L126.7 271.4L124.5 269.9L123.6 268.2L123.3 267.0L124.1 266.7L124.0 266.0L124.6 265.3L124.7 264.4L124.2 263.2L124.2 262.2L123.6 260.9L122.1 258.2L120.2 256.2L119.4 254.6L117.7 253.5L117.5 252.9L118.2 251.3L117.2 250.6L116.2 249.4L116.1 247.5L114.9 247.3L114.0 245.9L113.3 244.7L113.5 243.9L112.8 241.9L112.7 239.9L113.0 238.9L111.8 237.8L111.0 238.0L110.0 237.2L109.3 238.3L109.2 239.6L108.8 241.5L109.3 242.6L110.4 244.4L110.6 245.0L110.9 245.2L110.9 246.1L111.3 246.1L111.3 247.8L111.8 248.4L112.0 249.3L113.1 250.7L113.3 253.1L113.7 254.3L114.1 255.5L113.9 256.9L115.0 256.9L115.7 258.1L116.3 259.3L116.1 259.8L115.0 260.7L114.6 260.7L114.3 259.1L113.1 257.6L111.7 256.4L110.7 255.7L111.2 253.8L111.2 252.4L110.3 251.6L109.1 250.4L108.7 250.7L108.3 250.1L107.0 249.4L106.1 247.9L106.4 247.7L107.2 247.9L108.3 246.9L108.7 245.7L107.6 243.8L106.5 243.1L106.2 241.5L105.9 239.7L105.6 237.7L105.5 235.3L108.1 235.1L111.0 234.8L110.6 235.3L113.5 236.6L117.9 238.5L122.3 238.4L124.0 238.4L124.4 237.4L128.2 237.4L128.7 238.3L129.6 239.1L130.5 240.3L130.9 241.6L131.0 243.1L132.0 243.9L133.6 244.6L135.6 242.6L137.4 242.5L138.7 243.6L139.3 245.3L139.7 246.9L140.7 248.4L140.8 250.2L141.2 251.4L142.7 252.2L144.2 252.8ZM156.6 284.5L155.5 284.0L154.1 284.0L153.1 283.4L151.9 282.4L152.1 281.6L152.4 281.0L152.2 280.5L153.5 278.4L156.4 278.4L156.6 277.5L156.2 277.3L156.1 276.8L155.3 276.2L154.6 275.3L155.6 275.3L155.8 273.8L157.9 273.8L160.0 273.8L159.7 275.9L159.2 278.8L159.9 278.8L160.6 279.3L160.8 278.9L161.4 279.3L160.3 280.3L159.1 281.0L158.9 281.5L159.0 282.0L158.5 282.7L157.9 282.8L158.0 283.2L157.6 283.4L156.7 284.1ZM160.0 273.8L160.0 273.4L160.3 273.3L160.7 273.6L161.7 272.0L162.2 272.0L162.1 272.4L162.5 272.4L162.4 273.1L161.9 274.3L162.0 274.7L161.7 275.6L161.8 275.8L161.4 277.2L160.9 277.9L160.4 278.0L159.9 278.8L159.2 278.8L159.7 275.9ZM161.8 285.4L161.5 286.0L160.2 286.0L159.4 285.7L158.5 285.2L157.2 285.0L156.6 284.5L156.7 284.1L157.6 283.4L158.0 283.2L157.9 282.8L158.5 282.7L159.2 282.9L159.6 283.4L160.2 283.8L160.3 284.2L161.3 283.9L161.8 284.1L162.1 284.3ZM162.8 286.5L162.5 285.6L161.8 285.4L162.1 284.3L161.8 284.1L161.3 283.9L160.3 284.2L160.2 283.8L159.6 283.4L159.2 282.9L158.5 282.7L159.0 282.0L158.9 281.5L159.1 281.0L160.3 280.3L161.4 279.3L161.7 279.4L162.2 278.9L162.9 278.9L163.1 279.1L163.4 278.9L164.5 279.2L165.5 279.1L166.3 278.8L166.6 278.5L167.3 278.7L167.9 278.8L168.5 278.8L168.9 278.6L169.9 278.9L170.3 279.0L170.9 279.5L171.5 280.1L172.3 280.5L172.8 281.2L172.1 281.1L171.7 281.5L170.9 281.8L170.3 281.8L169.8 282.2L169.3 282.0L169.0 281.6L168.7 281.7L168.4 282.3L168.2 282.3L168.1 282.9L167.2 283.6L166.7 283.9L166.5 284.2L165.9 283.7L165.3 284.4L164.8 284.4L164.3 284.4L164.2 285.7L163.9 285.7L163.5 286.3ZM166.1 291.4L165.4 290.6L164.4 289.5L163.9 288.7L163.0 287.8L162.0 286.6L162.3 286.2L162.6 286.6L162.8 286.5L163.5 286.3L163.9 285.7L164.2 285.7L164.3 284.4L164.8 284.4L165.3 284.4L165.9 283.7L166.5 284.2L166.7 283.9L167.2 283.6L168.1 282.9L168.2 282.3L168.4 282.3L168.7 281.7L169.0 281.6L169.3 282.0L169.8 282.2L170.3 281.8L170.9 281.8L171.7 281.5L172.1 281.1L172.8 281.2L172.6 281.4L172.5 282.0L172.6 283.0L172.0 283.9L171.6 284.9L171.5 286.1L171.5 286.7L171.5 287.9L171.1 288.2L170.8 289.3L170.9 290.0L170.4 290.7L170.5 291.4L170.8 291.8L170.2 292.3L169.5 292.2L169.2 291.6L168.5 291.4L167.9 291.8L166.5 291.1ZM172.0 298.9L170.8 298.3L170.3 297.8L170.6 297.3L170.6 296.7L169.9 296.1L169.1 295.6L168.3 295.2L168.2 294.5L167.6 294.0L167.7 294.8L167.2 295.4L166.7 294.7L166.0 294.4L165.7 293.9L165.8 293.1L166.2 292.3L165.5 291.9L166.1 291.4L166.5 291.1L167.9 291.8L168.5 291.4L169.2 291.6L169.5 292.2L170.2 292.3L170.8 291.8L171.3 293.2L172.1 294.3L173.1 295.4L172.2 295.6L172.2 296.7L172.6 297.0L172.3 297.4L172.3 297.8L172.1 298.4ZM183.6 301.5L182.8 300.8L182.4 299.3L183.0 298.6L182.4 298.5L182.0 297.6L180.9 296.9L179.9 297.0L179.4 298.0L178.4 298.6L177.9 298.7L177.7 299.2L178.7 300.7L178.1 301.0L177.7 301.4L176.6 301.5L176.3 299.9L176.0 300.4L175.2 300.2L174.8 299.2L173.9 299.0L173.3 298.7L172.3 298.7L172.2 299.3L172.0 298.9L172.1 298.4L172.3 297.8L172.3 297.4L172.6 297.0L172.2 296.7L172.2 295.6L173.1 295.4L173.9 296.3L173.8 296.9L174.7 297.0L175.0 296.8L175.6 297.4L176.7 297.2L177.7 296.6L179.2 296.1L180.0 295.3L181.2 295.4L181.1 295.7L182.4 295.8L183.4 296.2L184.1 297.0L185.0 297.7L184.7 298.1L185.1 299.6L184.7 300.4L183.9 300.2ZM177.4 259.8L179.3 259.9L181.1 260.0L183.1 260.9L183.9 261.8L186.0 261.5L186.8 262.1L188.5 263.8L189.7 264.9L190.5 264.9L191.8 265.4L191.5 266.2L193.2 266.3L194.8 267.4L194.4 268.0L192.9 268.3L191.4 268.4L189.8 268.2L186.5 268.5L188.2 267.0L187.4 266.3L185.9 266.2L185.3 265.4L184.9 263.9L183.6 264.0L181.6 263.3L181.0 262.8L178.1 262.4L177.3 261.8L178.3 261.2L176.1 261.1L174.3 262.4L173.3 262.5L172.9 263.1L171.8 263.4L170.8 263.1L172.1 262.3L172.8 261.4L173.8 260.8L175.1 260.3L176.8 260.0ZM200.2 268.9L200.5 268.4L202.3 268.4L203.6 269.1L204.2 269.0L204.5 270.0L205.8 269.9L205.6 270.7L206.6 270.8L207.6 271.7L206.7 272.8L205.7 272.2L204.6 272.3L203.9 272.2L203.4 272.7L202.5 272.9L202.2 272.2L201.4 272.6L200.4 274.4L199.8 274.0L199.8 273.2L199.9 272.5L199.4 271.7L200.0 271.3L200.3 270.3ZM186.6 272.0L188.1 272.3L189.2 272.9L189.5 273.6L187.9 273.7L187.1 274.1L185.9 273.7L184.7 272.7L185.1 272.2L186.0 272.0ZM212.2 272.0L213.4 272.2L213.7 272.7L213.1 273.4L211.4 273.4L210.1 273.5L210.0 272.4L210.4 272.0ZM188.3 258.3L187.7 258.4L187.4 256.9L186.6 256.1L187.3 254.5L188.0 254.6L188.5 256.7ZM188.7 250.9L186.2 251.3L186.2 250.3L187.3 250.1L188.8 250.2ZM190.6 250.9L189.9 252.7L189.5 252.4L189.8 251.0L189.0 250.0L189.0 249.7ZM221.3 292.3L222.6 291.9L223.1 292.0L222.9 294.0L221.0 294.2L220.6 294.0L221.3 293.3ZM188.9 320.8L187.9 320.2L186.8 319.3L186.1 319.7L184.2 319.4L183.6 318.2L183.2 318.3L180.9 316.8L180.6 316.0L181.4 315.8L181.4 314.5L181.9 313.5L183.1 313.3L184.1 311.7L185.0 310.3L184.2 309.7L184.6 308.2L184.2 305.8L184.7 305.1L184.4 302.9L183.6 301.5L183.9 300.2L184.7 300.4L185.1 299.6L184.7 298.1L185.0 297.7L186.1 297.8L187.9 296.0L188.9 295.7L189.0 294.8L189.5 292.6L190.9 291.4L192.4 291.4L192.6 290.8L194.4 291.0L196.3 289.7L197.2 289.1L198.4 287.9L199.2 288.0L199.7 288.7L199.3 289.6L197.8 290.0L197.1 291.3L196.2 292.1L195.4 293.1L195.0 294.9L194.3 296.5L195.5 296.6L195.7 297.8L196.2 298.4L196.4 299.5L196.1 300.4L196.1 301.0L196.7 301.2L197.2 302.1L200.2 301.9L201.5 302.2L203.0 304.4L204.0 304.2L205.6 304.3L206.9 304.0L207.7 304.4L207.3 305.9L206.8 306.7L206.5 308.6L206.9 310.4L207.6 311.1L207.6 311.7L206.4 313.0L207.3 313.6L207.9 314.5L208.5 317.1L208.1 317.4L207.7 315.9L207.0 315.1L206.2 316.0L201.7 315.9L201.8 317.5L203.1 317.8L203.0 318.8L202.6 318.5L201.3 319.0L201.3 320.9L202.3 321.8L202.7 323.3L202.6 324.5L201.7 331.6L200.5 330.3L199.8 330.2L201.3 327.5L199.5 326.3L198.1 326.5L197.3 326.1L196.0 326.8L194.3 326.4L192.9 323.7L191.8 323.0L191.0 321.8L189.5 320.6ZM199.3 289.6L199.1 290.2L197.8 290.5L198.5 291.7L198.4 293.1L197.3 294.6L198.0 296.7L199.0 296.5L199.6 294.6L199.0 293.7L199.0 291.7L201.9 290.6L201.7 289.4L202.5 288.6L203.2 290.4L204.8 290.5L206.2 291.9L206.3 292.8L208.3 292.8L210.8 292.5L212.0 293.7L213.8 294.0L215.1 293.2L215.2 292.6L218.0 292.4L220.8 292.4L218.8 293.2L219.5 294.4L221.4 294.6L223.1 295.9L223.3 298.0L224.5 297.9L225.4 298.5L223.5 300.1L223.3 301.0L224.1 302.0L223.5 302.5L222.0 302.9L222.1 304.1L221.4 304.8L222.9 306.8L223.2 307.5L222.3 308.5L219.7 309.5L218.1 309.9L217.4 310.5L215.6 309.9L213.9 309.5L213.4 309.8L214.4 310.5L214.3 312.2L214.6 313.9L216.6 314.1L216.7 314.6L215.0 315.4L214.7 316.5L213.8 316.9L212.1 317.5L211.6 318.3L209.8 318.5L208.5 317.1L207.9 314.5L207.3 313.6L206.4 313.0L207.6 311.7L207.6 311.1L206.9 310.4L206.5 308.6L206.8 306.7L207.3 305.9L207.7 304.4L206.9 304.0L205.6 304.3L204.0 304.2L203.0 304.4L201.5 302.2L200.2 301.9L197.2 302.1L196.7 301.2L196.1 301.0L196.1 300.4L196.4 299.5L196.2 298.4L195.7 297.8L195.5 296.6L194.3 296.5L195.0 294.9L195.4 293.1L196.2 292.1L197.1 291.3L197.8 290.0ZM225.4 298.5L226.9 299.5L228.3 301.2L228.3 302.5L229.2 302.6L230.4 303.9L231.2 304.8L230.8 307.1L229.4 307.8L229.5 308.4L229.1 309.8L230.0 311.7L230.8 311.7L231.0 313.2L232.4 315.4L231.9 315.5L230.6 315.3L229.8 316.0L228.8 316.5L228.0 316.6L227.8 317.1L226.7 316.9L225.2 315.7L225.1 314.5L224.5 313.2L224.9 311.0L225.6 310.0L225.1 308.8L224.3 308.4L224.6 307.3L224.1 306.7L222.9 306.8L221.4 304.8L222.1 304.1L222.0 302.9L223.5 302.5L224.1 302.0L223.3 301.0L223.5 300.1ZM231.2 304.8L234.0 305.3L234.3 304.8L236.1 304.6L238.6 305.3L237.3 307.6L237.5 309.4L238.3 310.9L237.9 312.1L237.7 313.3L237.1 314.4L235.8 313.8L234.7 314.1L233.8 313.8L233.5 314.6L233.9 315.1L233.7 315.6L232.4 315.4L231.0 313.2L230.8 311.7L230.0 311.7L229.1 309.8L229.5 308.4L229.4 307.8L230.8 307.1ZM177.6 329.3L178.8 327.4L178.3 326.2L177.4 327.4L176.0 326.3L176.5 325.6L176.1 323.2L176.9 322.8L177.3 321.1L178.2 319.5L178.0 318.4L179.3 317.8L180.9 316.8L183.2 318.3L183.6 318.2L184.2 319.4L186.1 319.7L186.8 319.3L187.9 320.2L188.9 320.8L189.2 322.8L188.5 324.5L186.0 327.2L183.3 328.2L181.9 330.5L181.6 332.3L180.3 333.4L179.3 332.0L178.3 331.8L177.4 332.0L177.3 331.0L177.9 330.4ZM204.5 366.4L204.0 367.7L202.9 368.4L200.4 366.9L200.2 365.8L195.4 363.2L191.0 360.3L189.1 358.7L188.0 356.5L188.3 355.8L186.1 352.4L183.5 347.5L181.0 342.3L180.0 341.1L179.2 339.2L177.4 337.5L175.7 336.5L176.4 335.3L175.2 332.8L175.8 331.0L177.6 329.3L177.9 330.4L177.3 331.0L177.4 332.0L178.3 331.8L179.3 332.0L180.3 333.4L181.6 332.3L181.9 330.5L183.3 328.2L186.0 327.2L188.5 324.5L189.2 322.8L188.9 320.8L189.5 320.6L191.0 321.8L191.8 323.0L192.9 323.7L194.3 326.4L196.0 326.8L197.3 326.1L198.1 326.5L199.5 326.3L201.3 327.5L199.8 330.2L200.5 330.3L201.7 331.6L199.6 331.5L199.3 331.9L197.5 332.4L194.9 334.2L194.8 335.4L194.2 336.3L194.5 337.7L193.1 338.5L193.2 339.6L192.6 340.1L193.6 342.4L195.0 344.0L194.5 345.1L196.1 345.3L197.0 346.7L199.1 346.8L200.9 345.2L200.9 349.2L202.0 349.5L203.3 349.0L205.5 353.2L205.1 354.1L205.1 356.0L205.2 358.2L204.4 359.5L204.9 360.5L204.5 361.4L205.6 363.6ZM220.9 378.0L218.3 377.9L217.7 380.0L216.1 378.1L213.1 377.5L211.5 379.9L209.9 380.2L208.6 376.6L207.1 373.7L207.6 371.2L206.2 370.0L205.8 368.2L204.5 366.4L205.6 363.6L204.5 361.4L204.9 360.5L204.4 359.5L205.2 358.2L205.1 356.0L205.1 354.1L205.5 353.2L203.3 349.0L205.0 349.3L206.2 349.2L206.6 348.4L208.6 347.4L209.7 346.4L212.7 345.9L212.6 347.9L212.9 348.9L212.8 350.7L215.5 353.0L218.0 353.4L219.0 354.4L220.6 354.9L221.6 355.7L223.0 355.7L224.4 356.4L224.6 357.9L225.1 358.7L225.2 359.8L224.6 359.9L225.7 362.9L230.1 363.0L229.8 364.5L230.2 365.6L231.5 366.3L232.1 367.9L231.9 370.0L231.4 371.1L231.7 372.6L231.1 373.2L231.0 372.4L228.7 371.0L226.6 371.0L222.7 371.7L221.8 374.0L221.9 375.4L221.3 378.6ZM243.8 309.5L244.6 309.4L246.4 315.4L247.6 315.8L247.6 317.7L246.6 320.6L250.7 321.0L250.8 323.6L252.5 321.9L255.4 322.9L259.3 324.5L260.4 326.0L260.1 327.4L262.7 326.6L267.3 328.0L270.7 327.9L274.1 330.1L277.1 333.0L278.9 333.8L280.9 333.9L281.7 334.7L282.6 338.0L283.0 339.6L282.2 343.9L281.0 345.6L277.9 349.3L276.5 352.2L274.9 354.5L274.4 354.6L273.8 356.5L274.2 361.4L273.7 365.4L273.6 367.1L272.9 368.2L272.7 371.7L270.6 375.1L270.4 377.8L268.7 378.9L268.2 380.5L265.8 380.5L262.3 381.5L260.8 382.6L258.4 383.4L255.9 385.5L254.2 388.1L254.1 390.0L254.6 391.5L254.5 394.1L254.1 395.4L252.8 396.8L250.9 401.4L249.3 403.5L248.0 404.7L247.4 407.2L246.2 408.7L245.3 407.2L246.1 406.0L244.5 404.2L242.6 402.8L240.0 401.1L239.2 401.2L236.7 399.1L235.3 399.4L237.7 395.8L239.9 393.3L241.3 392.2L243.0 390.8L242.8 388.7L241.5 387.2L240.4 387.7L240.7 386.2L240.9 384.7L240.7 383.2L239.9 382.7L239.1 383.2L238.2 383.1L237.8 382.0L237.4 379.7L236.9 378.9L235.3 378.2L234.5 378.7L232.0 378.2L231.9 374.6L231.1 373.2L231.7 372.6L231.4 371.1L231.9 370.0L232.1 367.9L231.5 366.3L230.2 365.6L229.8 364.5L230.1 363.0L225.7 362.9L224.6 359.9L225.2 359.8L225.1 358.7L224.6 357.9L224.4 356.4L223.0 355.7L221.6 355.7L220.6 354.9L219.0 354.4L218.0 353.4L215.5 353.0L212.8 350.7L212.9 348.9L212.6 347.9L212.7 345.9L209.7 346.4L208.6 347.4L206.6 348.4L206.2 349.2L205.0 349.3L203.3 349.0L202.0 349.5L200.9 349.2L200.9 345.2L199.1 346.8L197.0 346.7L196.1 345.3L194.5 345.1L195.0 344.0L193.6 342.4L192.6 340.1L193.2 339.6L193.1 338.5L194.5 337.7L194.2 336.3L194.8 335.4L194.9 334.2L197.5 332.4L199.3 331.9L199.6 331.5L201.7 331.6L202.6 324.5L202.7 323.3L202.3 321.8L201.3 320.9L201.3 319.0L202.6 318.5L203.0 318.8L203.1 317.8L201.8 317.5L201.7 315.9L206.2 316.0L207.0 315.1L207.7 315.9L208.1 317.4L208.5 317.1L209.8 318.5L211.6 318.3L212.1 317.5L213.8 316.9L214.7 316.5L215.0 315.4L216.7 314.6L216.6 314.1L214.6 313.9L214.3 312.2L214.4 310.5L213.4 309.8L213.9 309.5L215.6 309.9L217.4 310.5L218.1 309.9L219.7 309.5L222.3 308.5L223.2 307.5L222.9 306.8L224.1 306.7L224.6 307.3L224.3 308.4L225.1 308.8L225.6 310.0L224.9 311.0L224.5 313.2L225.1 314.5L225.2 315.7L226.7 316.9L227.8 317.1L228.0 316.6L228.8 316.5L229.8 316.0L230.6 315.3L231.9 315.5L232.4 315.4L233.7 315.6L233.9 315.1L233.5 314.6L233.8 313.8L234.7 314.1L235.8 313.8L237.1 314.4L238.1 314.9L238.8 314.2L239.3 314.3L239.6 315.0L240.7 314.9L241.6 313.9L242.4 311.9ZM221.3 378.6L221.9 375.4L221.8 374.0L222.7 371.7L226.6 371.0L228.7 371.0L231.0 372.4L231.1 373.2L231.9 374.6L232.0 378.2L234.5 378.7L235.3 378.2L236.9 378.9L237.4 379.7L237.8 382.0L238.2 383.1L239.1 383.2L239.9 382.7L240.7 383.2L240.9 384.7L240.7 386.2L240.4 387.7L240.3 390.0L238.5 392.0L236.8 392.4L234.3 392.1L231.9 391.3L233.6 387.3L233.2 386.2L230.8 385.2L227.8 383.2L225.9 382.9ZM235.3 399.4L236.7 399.1L239.2 401.2L240.0 401.1L242.6 402.8L244.5 404.2L246.1 406.0L245.3 407.2L246.2 408.7L245.5 410.4L243.3 411.8L241.6 411.3L240.5 411.6L238.3 410.4L236.8 410.5L235.2 409.1L235.1 407.4L235.4 406.8L235.0 404.2L235.1 401.5ZM235.3 399.4L235.1 401.5L235.0 404.2L235.4 406.8L235.1 407.4L235.2 409.1L235.3 410.4L238.5 412.7L238.6 414.5L240.2 415.6L240.3 416.9L239.0 420.2L236.1 421.6L231.9 422.2L229.5 421.9L230.3 423.5L230.4 425.4L231.2 426.7L230.1 427.6L228.1 428.0L225.8 427.0L225.1 427.7L226.2 430.3L227.8 431.1L228.7 430.3L229.7 431.6L228.0 432.4L226.9 434.0L227.3 436.6L227.3 438.0L225.3 438.0L224.2 439.3L224.2 441.2L226.8 443.1L229.0 443.6L229.0 445.9L227.1 447.4L226.9 450.3L225.5 451.3L225.1 452.5L226.8 455.1L228.7 456.6L227.8 456.4L225.8 456.0L220.9 455.7L219.5 454.3L218.7 452.4L217.5 452.5L216.4 451.6L215.1 448.9L216.2 447.8L216.3 446.2L215.5 444.9L215.8 442.7L215.4 439.3L214.6 437.8L215.4 437.3L214.8 436.4L213.7 435.9L214.0 434.8L212.7 433.8L211.2 430.8L211.9 430.3L210.5 427.1L210.3 424.5L210.2 422.2L211.2 421.2L209.8 418.7L209.2 416.3L210.4 414.6L209.8 412.4L210.5 409.8L209.9 407.4L209.3 406.9L207.3 402.4L208.1 399.7L207.4 397.2L207.8 394.8L208.9 392.4L210.2 390.7L209.4 389.7L209.7 388.9L209.1 384.5L211.4 383.2L211.8 380.5L211.5 379.9L213.1 377.5L216.1 378.1L217.7 380.0L218.3 377.9L220.9 378.0L221.3 378.6L225.9 382.9L227.8 383.2L230.8 385.2L233.2 386.2L233.6 387.3L231.9 391.3L234.3 392.1L236.8 392.4L238.5 392.0L240.3 390.0L240.4 387.7L241.5 387.2L242.8 388.7L243.0 390.8L241.3 392.2L239.9 393.3L237.7 395.8ZM228.1 457.3L229.3 458.4L231.1 460.3L234.2 461.8L237.2 462.4L236.9 463.7L235.1 463.8L233.7 462.9L232.5 462.8L230.5 462.8ZM204.5 366.4L205.8 368.2L206.2 370.0L207.6 371.2L207.1 373.7L208.6 376.6L209.9 380.2L211.5 379.9L211.8 380.5L211.4 383.2L209.1 384.5L209.7 388.9L209.4 389.7L210.2 390.7L208.9 392.4L207.8 394.8L207.4 397.2L208.1 399.7L207.3 402.4L209.3 406.9L209.9 407.4L210.5 409.8L209.8 412.4L210.4 414.6L209.2 416.3L209.8 418.7L211.2 421.2L210.2 422.2L210.3 424.5L210.5 427.1L211.9 430.3L211.2 430.8L212.7 433.8L214.0 434.8L213.7 435.9L214.8 436.4L215.4 437.3L214.6 437.8L215.4 439.3L215.8 442.7L215.5 444.9L216.3 446.2L216.2 447.8L215.1 448.9L216.4 451.6L217.5 452.5L218.7 452.4L219.5 454.3L220.9 455.7L225.8 456.0L227.8 456.4L226.1 456.4L225.4 457.0L224.0 457.9L224.7 460.3L223.9 460.3L221.3 459.5L218.3 457.8L215.2 456.3L213.9 454.8L213.8 453.3L212.1 451.6L210.0 447.3L209.9 444.8L211.3 442.9L208.0 442.1L209.1 439.8L208.3 435.6L210.9 436.5L210.1 431.1L208.5 430.5L209.0 433.7L207.5 433.3L206.9 429.6L206.1 424.8L206.5 423.0L205.2 420.5L204.2 417.6L205.1 417.5L205.3 413.3L205.8 409.1L205.9 405.2L204.5 401.3L204.8 399.1L203.9 395.9L204.7 392.7L204.3 387.6L204.3 382.2L204.4 376.3L203.8 372.1L202.9 368.4L204.0 367.7ZM228.1 457.3L230.5 462.8L232.5 462.8L233.7 462.9L233.5 463.9L232.2 464.7L231.2 464.6L230.0 464.4L228.3 463.7L226.1 463.3L223.0 461.9L220.4 460.6L216.4 457.8L218.3 458.3L221.8 460.0L224.8 460.9L225.3 459.7L225.2 458.0L226.5 457.0ZM691.8 356.4L692.3 358.5L694.0 357.5L694.5 358.6L695.5 359.6L695.0 360.8L695.1 363.0L695.2 364.3L695.7 364.6L695.9 366.8L695.4 368.2L695.7 370.0L697.9 371.3L699.2 372.6L700.5 373.7L700.1 374.4L701.0 376.0L701.2 378.8L702.3 378.2L702.9 379.4L703.6 379.0L703.3 381.8L704.4 383.4L705.2 384.4L706.4 386.5L706.4 388.6L705.9 390.1L705.2 391.7L705.5 393.9L704.5 396.2L703.6 397.4L702.1 399.8L701.5 401.3L700.2 403.1L698.1 405.5L695.9 406.8L694.1 408.8L692.8 410.1L691.0 412.4L689.5 413.7L687.9 415.6L686.6 417.4L686.3 418.3L684.5 419.2L682.1 419.3L679.5 420.3L677.9 421.3L676.0 422.5L674.9 421.3L673.8 420.9L674.9 419.5L673.5 420.0L670.5 421.9L669.1 421.2L668.1 420.7L667.0 420.6L665.3 419.8L664.7 418.2L665.4 416.2L666.0 413.8L665.0 413.8L663.0 413.5L664.3 412.3L664.7 410.3L662.8 412.1L660.7 412.6L662.4 411.2L663.5 409.7L664.9 408.4L665.6 406.4L662.8 408.7L661.0 409.6L659.3 411.6L658.1 410.6L658.7 409.2L658.2 407.3L657.4 406.3L658.1 405.7L655.9 404.1L654.4 404.0L652.8 402.8L648.8 403.0L645.5 404.0L642.7 404.8L640.7 404.7L637.8 406.0L635.7 406.6L634.7 408.0L633.5 409.0L631.6 409.1L630.1 409.3L628.4 408.8L626.7 409.1L625.1 409.3L623.3 410.7L622.7 410.5L621.3 411.3L619.9 412.1L618.4 412.0L616.9 412.0L615.3 410.3L614.3 409.8L614.9 408.3L616.1 408.0L616.7 407.4L617.0 406.4L617.9 404.6L618.2 403.1L617.9 400.4L618.0 398.9L618.5 397.4L618.2 395.7L618.3 395.0L617.6 393.9L617.9 391.9L617.1 389.8L617.1 388.7L617.8 389.8L617.6 387.4L618.6 388.2L619.0 389.2L619.3 387.8L618.6 385.8L618.6 384.9L618.2 384.2L618.7 382.7L619.3 382.0L619.9 380.7L619.9 379.2L621.2 377.3L621.0 379.3L622.3 377.5L624.3 376.6L625.6 375.5L627.5 374.5L628.6 374.3L629.1 374.7L631.1 373.7L632.5 373.4L633.0 372.8L633.6 372.6L634.8 372.7L637.4 371.9L638.8 370.7L639.6 369.3L641.2 368.0L641.5 366.9L641.8 365.5L643.7 363.3L644.3 365.6L645.4 365.0L644.8 363.8L645.7 362.5L646.6 363.1L647.2 361.1L648.7 359.8L649.4 358.8L650.6 358.3L650.7 357.6L651.7 357.9L651.8 357.3L652.9 356.9L654.0 356.5L655.5 357.7L656.6 359.3L658.0 359.3L659.4 359.5L659.2 358.1L660.6 356.0L661.7 355.3L661.4 354.7L662.6 353.2L664.1 352.3L665.3 352.6L667.2 352.1L667.4 350.7L665.8 349.9L667.0 349.5L668.5 350.2L669.6 351.2L671.4 351.9L672.1 351.6L673.4 352.4L674.9 351.7L675.7 351.9L676.3 351.4L677.2 352.7L676.4 354.1L675.4 355.2L674.6 355.2L674.7 356.3L673.8 357.6L672.8 358.9L672.9 359.6L674.5 361.1L676.1 361.9L677.1 362.8L678.4 364.4L679.1 364.4L680.2 365.0L680.3 365.8L682.4 366.7L684.0 365.8L684.7 364.4L685.4 363.3L686.0 361.8L687.0 359.7L686.9 358.5L687.2 357.7L687.2 356.2L687.8 354.2L688.3 353.7L688.1 352.9L688.8 351.5L689.4 350.0L689.5 349.3L690.5 348.3L691.0 349.6L691.0 351.2L691.5 351.5L691.5 352.6L692.1 354.0L692.1 355.4ZM671.3 427.0L672.7 427.9L674.1 427.6L676.1 427.1L677.3 427.2L675.4 430.3L674.1 431.2L672.4 433.3L672.2 432.6L669.5 434.4L669.2 434.2L668.0 434.2L668.2 431.9L669.0 430.2L669.2 428.0L670.0 426.8ZM729.6 427.4L729.3 428.4L731.6 427.4L731.3 428.5L730.5 429.6L728.8 430.7L725.9 432.7L724.0 433.7L723.8 434.9L722.1 435.0L719.5 435.9L717.6 437.6L714.3 440.2L711.7 441.4L710.1 442.1L708.2 442.0L707.6 441.2L705.5 441.0L705.9 440.1L708.6 438.2L713.2 435.6L715.0 435.2L717.2 434.2L720.1 432.8L722.4 431.5L724.9 429.6L726.2 428.9L727.6 427.5L729.9 426.2ZM741.4 415.0L741.3 417.7L742.4 415.9L743.0 416.6L742.0 418.6L743.2 419.4L744.5 419.7L746.4 418.7L747.3 419.0L745.2 421.3L743.4 422.8L741.9 422.8L740.7 423.5L740.1 424.7L739.4 425.1L737.6 426.5L735.2 428.3L732.8 429.3L732.9 428.7L732.3 428.3L735.2 426.2L735.5 424.7L734.0 423.7L734.7 422.8L736.8 421.8L738.6 419.8L739.6 418.1L739.8 416.4L740.2 415.9L739.8 414.9L739.5 412.6L739.7 410.7L740.6 410.5L740.9 412.0L742.2 412.6ZM769.5 365.7L770.1 366.5L769.4 367.9L767.9 368.2L766.7 367.9L766.8 366.7L767.9 365.9L768.8 366.2ZM772.1 364.3L770.5 364.9L770.5 363.9L771.7 363.4L772.5 363.2L774.0 362.4L773.7 363.7ZM746.0 363.5L745.2 363.8L744.7 362.7L744.9 362.0ZM745.2 359.4L745.1 361.6L744.6 361.2L744.1 361.4L743.9 360.6L744.3 358.7ZM746.2 366.4L746.8 366.7L746.2 367.2ZM747.7 369.3L747.8 370.0L747.2 369.7ZM-0.7 315.2L-0.0 315.3L-0.3 316.0ZM308.4 280.9L309.1 280.3L309.7 280.9L309.0 281.5ZM305.3 275.9L305.8 275.5L306.3 275.9L305.8 276.4ZM310.3 278.3L310.7 277.9L311.1 278.3L310.7 278.7ZM377.7 319.7L378.2 319.3L378.8 319.7L378.2 320.2ZM462.0 350.9L462.5 350.4L463.0 350.9L462.5 351.3ZM464.4 352.3L464.9 351.9L465.3 352.3L464.9 352.7ZM490.6 332.6L491.1 332.2L491.5 332.6L491.0 333.0ZM493.0 373.4L493.6 372.8L494.1 373.4L493.5 373.9ZM488.1 375.6L488.7 375.1L489.3 375.6L488.6 376.1ZM532.1 308.4L532.3 308.1L532.6 308.4L532.4 308.6ZM532.1 311.0L532.4 310.7L532.7 311.0L532.4 311.2ZM221.9 277.9L222.5 277.4L223.1 277.9L222.5 278.4ZM222.3 280.1L222.8 279.7L223.2 280.1L222.7 280.5ZM222.9 282.1L223.5 281.6L223.9 282.1L223.4 282.5ZM222.9 284.0L223.4 283.7L223.8 284.0L223.3 284.4ZM222.4 285.7L222.8 285.4L223.1 285.7L222.7 286.1ZM226.1 286.0L226.5 285.6L226.9 286.0L226.5 286.4ZM221.0 288.8L221.4 288.4L221.8 288.8L221.4 289.1ZM221.7 275.8L222.1 275.4L222.5 275.8L222.1 276.2ZM727.1 302.4L727.5 301.9L728.1 302.4L727.6 302.8ZM756.8 301.8L757.2 301.4L757.7 301.8L757.3 302.2ZM672.4 301.0L672.8 300.7L673.3 301.0L672.9 301.4ZM762.1 316.7L762.6 316.3L763.0 316.7L762.6 317.1ZM775.1 342.6L775.6 342.2L776.0 342.6L775.5 343.0Z" fill="#edf8fb" stroke="#edf8fb" stroke-width="0.8" stroke-linejoin="round"/>
<path d="M343.6 248.0L333.6 248.0L332.2 250.8L330.6 251.8L329.7 254.8L329.0 256.3L328.3 256.7L327.0 258.4L326.1 260.2L326.3 261.1L325.5 262.4L324.6 263.2L324.5 264.4L324.4 265.5L324.6 264.6L333.6 264.6L333.4 260.9L334.0 259.5L335.9 259.2L336.1 252.4L343.6 252.4ZM238.6 305.3L241.0 306.3L243.4 308.4L243.8 309.5L242.4 311.9L241.6 313.9L240.7 314.9L239.6 315.0L239.3 314.3L238.8 314.2L238.1 314.9L237.1 314.4L237.7 313.3L237.9 312.1L238.3 310.9L237.5 309.4L237.3 307.6ZM738.4 375.5L739.9 377.1L740.7 378.4L739.7 379.0L738.7 378.3L737.3 377.1L736.2 375.7L735.2 373.9L735.1 373.0L736.1 373.0L737.1 373.9L737.9 374.8Z" fill="url(#hatch)" stroke="#ffffff" stroke-width="0.8" stroke-linejoin="round"/>
<path d="M335.2 282.2L333.7 280.4L332.3 278.5L330.8 277.8L329.7 277.0L328.5 277.0L327.3 277.6L326.2 277.4L325.4 278.2L325.2 276.8L325.9 275.5L326.2 273.0L326.1 270.5L325.8 269.2L326.1 267.9L325.5 266.6L324.4 265.5L324.6 264.6L333.6 264.6L333.4 260.9L334.0 259.5L335.9 259.2L336.1 252.4L343.6 252.4L343.6 249.0L351.9 255.1L348.5 255.1L349.5 266.4L350.5 277.7L350.9 278.0L350.3 279.9L341.2 279.9L340.8 280.5L339.9 280.3L338.6 280.8L337.1 280.1L336.3 280.2L335.9 281.7ZM328.2 291.5L327.0 290.4L326.1 290.3L325.6 289.5L325.6 289.1L324.9 288.6L324.7 288.0L326.0 287.6L326.7 287.7L327.3 287.4L331.6 287.5L331.5 288.4L331.3 288.7L331.5 289.5L331.1 289.9L330.6 289.9L330.0 290.3L329.3 290.2ZM388.6 330.8L386.2 328.2L384.7 326.0L383.3 323.3L383.4 322.4L383.9 321.6L384.5 319.7L384.9 317.8L385.7 317.6L389.1 317.6L389.0 314.5L390.1 314.3L391.5 314.7L392.9 314.3L393.2 314.5L393.0 315.6L393.7 317.0L395.4 316.7L396.0 317.3L395.0 320.3L396.1 321.8L396.3 323.9L396.0 325.6L395.3 326.9L393.3 326.8L392.1 325.5L391.9 326.7L390.3 327.0L389.5 327.6L390.4 329.4ZM433.5 378.6L432.3 378.3L431.5 378.6L430.5 378.2L429.5 378.2L428.1 377.0L426.4 376.6L425.8 374.9L425.8 374.0L424.9 373.7L422.4 370.8L421.8 369.3L421.3 368.9L420.5 366.8L423.1 367.1L423.8 367.4L424.6 367.3L425.9 365.6L428.0 363.5L428.8 363.3L429.1 362.3L430.4 361.3L432.2 361.0L432.3 361.9L434.2 361.9L435.2 362.4L435.7 363.1L436.8 363.3L437.9 364.1L437.8 367.4L437.2 369.2L437.1 371.2L437.4 372.0L437.1 373.5L436.7 373.7L436.0 375.6ZM433.3 323.4L434.2 324.8L434.0 326.4L433.4 326.7L432.1 326.5L431.4 328.0L430.0 327.8L430.2 326.4L430.5 326.2L430.6 324.6L431.3 323.9L431.9 324.2ZM460.1 287.6L459.3 286.7L458.3 285.2L457.3 284.4L456.6 283.5L454.6 282.4L453.0 282.4L452.4 281.9L451.1 282.5L449.7 281.3L449.1 283.2L446.4 282.7L446.1 281.6L446.9 277.8L447.0 276.0L447.7 275.3L449.4 274.8L450.4 273.3L451.9 276.4L452.7 278.8L454.0 280.0L457.2 282.5L458.6 284.0L459.9 285.5L460.6 286.4L461.8 287.2L461.1 287.8ZM572.5 262.8L572.7 264.6L571.9 264.2L572.3 266.3L571.5 265.0L571.2 263.7L570.6 262.4L569.4 260.9L567.3 260.7L567.7 261.8L567.2 263.3L566.1 262.8L565.9 263.2L565.2 262.9L564.3 262.7L563.6 260.6L562.6 258.6L562.7 257.0L561.2 256.3L561.5 255.4L562.8 254.4L560.9 253.0L561.4 251.2L563.4 252.4L564.5 252.5L565.0 254.3L567.2 254.7L569.3 254.6L570.6 255.1L570.0 257.3L569.0 257.5L568.5 258.9L570.0 260.3L570.1 258.6L570.7 258.6ZM588.8 267.6L587.6 268.8L586.0 268.9L585.4 271.7L584.5 272.2L585.9 274.5L587.6 276.4L588.8 278.1L588.3 280.4L587.5 280.9L588.2 282.2L590.0 284.2L590.4 285.7L590.5 286.9L591.6 289.3L590.5 291.7L589.6 294.4L589.3 292.5L589.8 290.5L588.9 288.9L588.8 286.1L587.7 284.7L586.7 281.6L585.9 278.3L584.6 276.1L583.3 277.4L580.9 279.3L579.6 279.1L578.1 278.5L578.4 275.2L577.6 272.8L575.5 269.7L575.6 268.8L574.2 268.5L572.3 266.3L571.9 264.2L572.7 264.6L572.5 262.8L573.6 262.1L573.1 261.0L573.5 260.1L573.2 257.4L575.0 258.0L575.7 255.9L575.6 254.6L576.4 252.4L576.0 250.9L578.5 249.1L580.2 249.6L579.7 248.0L580.4 247.5L580.0 246.5L581.2 246.3L582.3 247.8L583.4 248.5L583.9 250.5L584.3 252.6L582.6 254.8L582.9 257.9L585.2 257.5L586.1 259.9L587.6 260.4L587.3 262.6L589.2 263.5L590.2 264.0L591.8 263.3L592.0 264.3L590.3 266.0L590.0 267.0ZM607.0 335.7L604.4 335.8L602.6 333.6L599.7 331.4L598.8 329.8L597.1 327.7L596.0 325.8L594.3 322.1L592.3 319.9L591.6 317.7L590.7 315.6L588.6 314.0L587.3 311.7L585.5 310.3L583.0 307.4L582.8 306.1L584.3 306.2L587.8 306.7L590.0 309.2L591.8 311.0L593.1 312.1L595.4 314.9L597.8 315.0L599.7 316.7L601.1 318.9L602.9 320.1L601.9 322.3L603.2 323.2L604.1 323.2L604.4 325.1L605.2 326.5L606.9 326.8L608.0 328.4L607.3 331.7ZM613.3 338.1L617.7 338.4L618.3 337.3L622.5 338.6L623.2 340.2L626.7 340.7L629.4 342.3L626.7 343.3L624.2 342.2L622.1 342.3L619.8 342.1L617.6 341.6L615.0 340.6L613.4 340.4L612.4 340.7L608.2 339.6L607.9 338.5L605.8 338.3L607.5 335.8L610.3 336.0L612.1 337.0L613.1 337.2ZM635.0 309.6L633.8 312.0L635.6 314.4L635.2 315.6L637.9 318.0L635.1 318.4L634.4 320.1L634.5 322.5L632.2 324.3L632.1 326.9L631.1 330.9L630.7 330.0L628.1 331.1L627.2 329.6L625.6 329.4L624.5 328.6L621.7 329.5L620.9 328.2L619.4 328.4L617.5 328.1L617.2 324.6L616.1 323.8L615.0 321.6L614.7 319.3L614.9 316.9L616.2 315.1L616.7 316.9L618.3 318.4L619.8 317.8L621.2 318.0L622.6 316.7L623.7 316.5L625.9 317.2L627.7 316.7L628.8 313.0L629.7 312.1L630.4 309.1L633.0 309.1ZM652.3 316.7L650.5 319.3L648.7 319.8L646.5 319.3L642.6 319.4L640.6 319.8L640.3 321.8L642.3 324.1L643.6 322.9L647.9 322.0L647.7 323.2L646.7 322.8L645.7 324.4L643.6 325.4L645.7 328.7L645.2 329.6L647.2 332.6L647.1 334.4L645.8 335.1L644.9 334.2L646.2 332.1L643.8 333.1L643.3 332.4L643.7 331.4L642.1 329.8L642.3 327.3L640.8 328.1L640.8 331.1L640.7 334.9L639.3 335.2L638.3 334.5L639.1 332.1L638.8 329.5L637.9 329.5L637.2 327.7L638.2 326.0L638.6 323.9L639.8 320.0L640.3 318.9L642.2 317.0L644.0 317.8L647.0 318.1L649.6 318.0L651.9 316.1ZM672.8 323.4L673.4 327.6L675.7 329.2L677.7 326.4L680.4 324.8L682.5 324.8L684.4 325.8L686.1 326.7L688.6 327.2L688.2 335.7L687.5 344.3L685.7 342.1L683.4 341.6L682.7 342.3L679.8 342.4L681.0 340.3L682.5 339.5L682.1 336.7L681.1 334.5L676.8 332.3L674.9 332.1L671.5 329.7L670.8 330.9L669.9 331.1L669.4 330.2L669.4 329.1L667.7 327.8L670.3 326.8L671.9 326.9L671.7 326.2L668.4 326.2L667.5 324.6L665.4 324.1L664.5 322.9L667.6 322.2L668.8 321.4L672.5 322.4ZM647.1 347.5L646.8 347.2L647.1 346.3L648.2 344.7L650.6 343.6L650.8 345.0L649.1 346.9ZM639.0 343.4L641.0 341.9L642.3 342.7L643.9 342.5L646.0 341.6L645.6 343.0L642.0 343.8ZM631.6 344.0L632.5 342.5L633.8 342.5L634.6 341.6L635.3 342.3L636.7 342.1L637.2 343.2L634.5 343.7L632.9 344.0ZM636.7 345.4L638.8 344.9L640.0 345.7L640.7 346.5L640.5 347.2L639.6 347.2ZM658.4 314.7L658.6 316.1L660.0 316.4L660.2 317.4L660.2 319.7L659.0 319.5L658.6 321.1L659.5 322.4L658.9 322.8L658.0 321.1L657.3 317.8L657.7 315.7ZM661.7 327.7L664.2 328.5L664.9 330.5L663.1 329.4L661.2 329.2L659.8 329.4L658.2 329.3L658.9 327.8ZM655.8 330.3L654.2 329.8L653.9 328.7L656.2 328.6L656.7 329.4ZM629.2 342.1L628.3 341.5L626.6 341.7L626.8 342.4L627.9 343.5ZM630.2 342.4L631.0 341.8L631.8 342.4L631.1 343.7L630.0 343.5ZM672.4 335.6L673.6 335.0L673.4 337.9L672.3 338.4L672.1 336.6ZM196.9 268.3L198.3 268.4L200.2 268.9L200.3 270.3L200.0 271.3L199.4 271.7L199.9 272.5L199.8 273.2L198.3 272.8L197.2 272.9L195.9 272.8L194.7 273.2L193.6 272.4L193.9 271.6L195.9 271.9L197.6 272.2L198.5 271.6L197.6 270.5L197.7 269.5L196.3 269.0ZM735.6 347.8L736.1 348.7L734.5 348.7L733.9 347.1L735.2 347.7ZM732.9 346.2L732.0 346.3L730.6 346.0L730.2 345.6L730.4 344.6L731.9 345.0L732.6 345.5ZM734.9 345.5L734.5 346.0L733.0 343.7L732.7 342.2L733.5 342.2L734.1 344.3ZM731.1 342.2L731.1 342.7L729.4 341.6L728.3 340.7L727.5 339.8L727.8 339.5L728.8 340.2L730.6 341.4ZM725.9 339.6L725.5 339.8L724.5 339.2L723.6 338.1L723.8 337.7L725.1 338.8Z" fill="#bfd3e6" stroke="#bfd3e6" stroke-width="0.8" stroke-linejoin="round"/>
<path d="M324.4 286.0L324.7 284.9L327.2 284.8L327.7 284.2L328.5 284.1L329.3 284.8L330.1 284.8L330.8 284.3L331.3 285.1L330.3 285.7L329.3 285.6L328.3 285.1L327.5 285.7L327.0 285.7L326.5 286.1ZM367.3 304.3L365.4 304.9L364.9 304.0L364.3 302.3L364.1 301.0L364.6 298.7L364.1 297.7L363.9 295.6L363.9 293.8L362.9 292.4L363.0 291.6L365.1 291.6L364.8 293.0L365.5 293.8L366.3 294.7L366.4 296.0L366.8 296.5L366.7 302.5ZM385.3 314.4L389.0 314.5L389.1 317.6L385.7 317.6L384.9 317.8L384.5 317.4ZM393.0 332.9L392.1 332.0L391.4 332.5L390.5 333.6L388.6 330.8L390.4 329.4L389.5 327.6L390.3 327.0L391.9 326.7L392.1 325.5L393.3 326.8L395.3 326.9L396.0 325.6L396.3 323.9L396.1 321.8L395.0 320.3L396.0 317.3L395.4 316.7L393.7 317.0L393.0 315.6L393.2 314.5L396.1 314.6L398.0 315.3L399.8 315.9L400.0 314.5L401.2 312.0L402.5 310.6L404.1 311.1L405.6 311.2L405.5 312.8L404.8 314.2L404.3 315.8L404.0 318.2L404.2 319.6L403.8 320.6L403.7 321.5L403.5 322.3L402.0 323.6L400.9 325.0L399.9 327.5L400.0 329.7L399.4 330.5L398.0 331.7L396.6 333.4L395.8 332.9L395.6 332.2L394.4 332.2L393.6 333.2ZM459.1 324.8L457.7 322.6L457.6 313.1L459.6 310.1L460.2 309.3L461.7 309.3L463.7 307.4L466.7 307.3L473.1 299.5L471.1 299.5L463.5 296.4L462.6 295.5L461.7 294.2L460.8 292.8L461.3 291.8L462.1 290.4L462.8 290.9L463.3 292.0L464.4 293.1L465.5 293.1L467.7 292.4L470.2 292.1L472.2 291.3L473.3 291.1L474.1 290.6L475.4 290.6L476.1 290.5L477.2 290.1L478.4 289.9L479.4 289.0L480.3 289.0L480.4 289.7L480.2 291.2L480.3 292.6L479.8 293.5L479.3 296.3L478.3 299.3L477.0 302.6L475.1 306.4L473.2 309.4L470.5 312.9L468.2 315.0L464.8 317.7L462.7 319.6L460.1 322.8L459.6 324.2ZM441.1 295.7L440.8 295.6L440.8 294.3L440.5 293.4L439.3 292.4L439.0 290.5L439.2 288.5L438.1 288.4L438.0 289.0L436.6 289.1L437.2 289.9L437.4 291.4L436.2 292.9L435.1 294.7L433.9 295.0L432.0 293.5L431.1 294.0L430.9 294.8L429.7 295.3L429.6 295.8L427.3 295.8L427.0 295.3L425.4 295.2L424.5 295.6L423.9 295.4L422.7 293.9L422.3 293.2L420.6 293.5L420.0 294.7L419.5 297.1L418.7 297.6L418.0 297.9L417.8 297.7L417.0 297.0L416.8 296.2L417.2 295.1L417.1 294.0L415.8 292.4L415.5 291.3L415.5 290.6L414.7 289.9L414.6 288.3L414.1 287.3L413.3 287.5L413.5 286.5L414.1 285.4L413.8 284.3L414.5 283.6L414.0 282.9L414.6 281.3L415.6 279.4L417.6 279.6L417.1 269.2L417.1 268.1L419.7 268.1L419.5 262.9L428.6 262.9L437.4 262.9L446.4 262.9L447.2 265.4L446.8 265.9L447.2 268.6L448.2 271.7L449.1 272.4L450.4 273.3L449.4 274.8L447.7 275.3L447.0 276.0L446.9 277.8L446.1 281.6L446.4 282.7L446.1 284.9L445.3 287.5L443.9 288.8L443.0 290.8L442.8 291.9L441.7 292.6L441.1 295.3ZM688.6 327.2L692.5 329.0L696.7 330.5L698.2 331.8L699.4 333.2L699.7 334.7L703.4 336.3L703.9 337.7L701.7 338.0L702.1 339.7L704.0 341.4L705.2 344.2L706.6 344.1L706.4 345.3L708.1 345.7L707.3 346.2L709.7 347.3L709.3 348.1L707.8 348.3L707.3 347.6L705.3 347.3L703.1 346.9L701.5 345.2L700.3 343.8L699.3 341.5L696.4 340.4L694.4 341.1L692.9 342.0L693.0 343.9L691.1 344.8L689.9 344.4L687.5 344.3L688.2 335.7ZM715.3 330.0L716.1 330.8L716.3 332.2L715.6 332.9L715.2 331.3L714.8 330.3L713.7 329.4L712.5 328.4L710.9 327.6L711.5 326.9L712.7 327.7L713.5 328.2L714.4 328.9ZM711.9 335.7L710.6 336.3L709.3 336.9L708.1 336.9L706.3 336.2L705.0 335.4L705.2 334.6L707.3 335.0L708.6 334.8L709.0 333.6L709.3 333.5L709.5 334.9L710.8 334.7L711.5 333.8L712.9 332.8L712.7 331.3L714.1 331.3L714.5 331.7L714.4 333.1L713.5 334.7L712.3 334.9ZM719.9 334.4L720.6 335.0L721.6 336.6L722.6 337.5L722.2 338.2L721.6 338.5L720.7 337.5L719.8 335.8L719.4 333.8L719.7 333.6Z" fill="#9ebcda" stroke="#9ebcda" stroke-width="0.8" stroke-linejoin="round"/>
<path d="M324.7 284.9L323.8 282.8L322.7 281.9L323.7 281.4L324.8 279.6L325.4 278.2L326.2 277.4L327.3 277.6L328.5 277.0L329.7 277.0L330.8 277.8L332.3 278.5L333.7 280.4L335.2 282.2L335.2 283.8L335.7 285.3L336.5 286.0L336.7 287.1L336.6 287.9L336.3 288.0L335.0 287.8L334.8 288.1L334.3 288.2L332.7 287.5L331.6 287.5L327.3 287.4L326.7 287.7L326.0 287.6L324.7 288.0L324.4 286.0L326.5 286.1L327.0 285.7L327.5 285.7L328.3 285.1L329.3 285.6L330.3 285.7L331.3 285.1L330.8 284.3L330.1 284.8L329.3 284.8L328.5 284.1L327.7 284.2L327.2 284.8ZM343.6 300.3L342.9 300.2L342.4 301.3L341.8 301.3L341.3 300.7L341.5 299.7L340.5 298.1L339.9 298.4L339.4 298.4L338.8 298.6L338.9 297.6L338.5 296.9L338.6 296.2L338.1 295.1L337.4 294.1L335.6 294.1L335.1 294.6L334.4 294.6L334.0 295.2L333.8 296.0L332.5 297.1L331.5 295.6L330.6 294.5L330.1 294.2L329.5 293.7L329.2 292.5L328.9 291.9L328.2 291.5L329.3 290.2L330.0 290.3L330.6 289.9L331.1 289.9L331.5 289.5L331.3 288.7L331.5 288.4L331.6 287.5L332.7 287.5L334.3 288.2L334.8 288.1L335.0 287.8L336.3 288.0L336.6 287.9L336.7 288.8L337.1 288.8L337.7 288.5L338.1 288.5L338.7 289.2L339.7 289.4L340.3 288.9L341.0 288.5L341.6 288.2L342.1 288.2L342.6 288.8L342.8 289.5L343.8 290.6L343.3 291.3L343.2 292.1L343.7 291.9L344.0 292.2L343.8 293.0L344.5 293.7L344.1 293.9L343.9 294.8L344.4 295.9L345.0 298.0L344.1 298.3L343.9 298.6L344.1 299.2L343.9 300.3ZM345.2 309.0L344.6 309.0L342.2 307.8L340.1 305.8L338.2 304.3L336.6 302.6L337.2 301.8L337.3 301.0L338.4 299.6L339.4 298.4L339.9 298.4L340.5 298.1L341.5 299.7L341.3 300.7L341.8 301.3L342.4 301.3L342.9 300.2L343.6 300.3L343.4 301.0L343.7 302.3L343.2 303.5L343.8 304.2L344.6 304.4L345.5 305.5L345.6 306.5L345.4 306.8ZM396.2 286.8L396.5 285.5L395.0 285.5L395.0 283.8L394.0 282.8L394.9 279.4L397.8 276.9L397.8 273.5L398.6 268.2L399.1 267.1L398.1 266.2L398.0 265.4L397.2 264.7L396.5 260.6L398.8 259.2L407.9 264.2L417.1 269.2L417.6 279.6L415.6 279.4L414.6 281.3L414.0 282.9L414.5 283.6L413.8 284.3L414.1 285.4L413.5 286.5L413.3 287.5L414.1 287.3L414.6 288.3L414.7 289.9L415.5 290.6L415.5 291.3L414.1 291.7L412.9 292.8L411.3 295.6L409.2 296.8L406.9 296.7L406.3 296.9L406.5 297.8L405.3 298.7L404.4 299.8L401.5 300.8L400.9 300.2L400.5 300.1L400.1 300.8L398.2 301.0L398.6 300.3L397.8 298.5L397.5 297.4L396.5 296.9L395.1 295.4L395.6 294.2L396.6 294.5L397.3 294.3L398.6 294.3L397.3 291.9L397.3 290.2L397.2 288.4ZM398.2 301.0L400.1 300.8L400.5 300.1L400.9 300.2L401.5 300.8L404.4 299.8L405.3 298.7L406.5 297.8L406.3 296.9L406.9 296.7L409.2 296.8L411.3 295.6L412.9 292.8L414.1 291.7L415.5 291.3L415.8 292.4L417.1 294.0L417.2 295.1L416.8 296.2L417.0 297.0L417.8 297.7L419.6 298.9L420.8 299.9L420.9 300.8L422.5 302.1L423.4 303.3L424.0 304.8L425.7 305.9L426.1 306.7L425.4 307.0L423.9 306.9L422.2 306.6L421.3 306.9L421.0 307.5L420.2 307.6L419.3 307.0L416.8 308.3L415.7 308.1L415.4 308.3L414.7 309.9L413.0 309.4L411.3 309.1L409.8 308.1L407.9 307.2L406.7 308.1L405.8 309.4L405.6 311.2L404.1 311.1L402.5 310.6L401.2 312.0L400.0 314.5L399.7 313.7L399.6 312.5L398.6 311.7L397.7 310.3L397.5 309.4L396.4 308.0L396.6 307.2L396.3 306.1L396.5 304.1L397.1 303.6ZM438.4 344.5L439.4 345.7L440.0 347.9L439.6 348.6L439.0 350.8L439.4 352.9L438.7 353.8L437.9 356.3L439.1 356.9L432.0 359.1L432.2 361.0L430.4 361.3L429.1 362.3L428.8 363.3L428.0 363.5L425.9 365.6L424.6 367.3L423.8 367.4L423.1 367.1L420.5 366.8L420.1 366.6L420.1 366.4L419.2 365.8L417.8 365.6L415.9 366.2L414.4 364.6L413.0 362.5L413.3 354.1L418.1 354.2L417.9 353.3L418.3 352.3L417.9 351.0L418.2 349.8L417.9 349.0L418.7 349.0L418.8 349.8L419.9 349.8L421.4 350.0L422.1 351.2L423.9 351.6L425.4 350.8L425.9 352.1L427.6 352.5L428.4 353.6L429.3 355.1L431.1 355.1L431.0 352.3L430.3 352.7L428.7 351.7L428.1 351.2L428.5 348.6L428.9 345.5L428.5 344.4L429.1 342.7L429.8 342.4L432.9 341.9L433.8 342.2L434.7 342.9L435.6 343.3L437.1 343.8ZM442.4 350.5L441.7 352.5L442.2 355.9L443.0 355.9L443.8 356.7L444.7 358.6L444.7 362.0L443.7 362.5L442.9 364.3L441.5 362.7L441.4 360.9L441.9 359.7L441.8 358.6L441.0 358.0L440.3 358.2L439.1 356.9L437.9 356.3L438.7 353.8L439.4 352.9L439.0 350.8L439.6 348.6L440.0 347.9L439.4 345.7L438.4 344.5L440.6 345.0L441.1 345.7L441.8 347.0ZM476.6 353.0L477.2 354.1L477.7 355.9L477.9 359.0L478.4 360.2L478.1 361.5L477.6 362.2L477.0 360.7L476.5 361.5L476.8 363.4L476.5 364.5L475.8 365.1L475.6 367.3L474.4 370.4L473.1 374.0L471.3 379.0L470.1 382.6L468.9 385.6L467.0 386.2L464.9 387.3L463.7 386.7L462.0 385.8L461.5 384.4L461.5 382.0L460.9 380.0L460.8 378.1L461.3 376.2L462.4 375.7L462.5 374.9L463.7 372.9L464.0 371.2L463.5 370.0L463.2 368.3L463.2 365.9L464.1 364.5L464.5 362.8L465.6 362.7L466.9 362.2L467.8 361.7L468.8 361.7L470.2 360.2L472.2 358.6L472.9 357.2L472.7 356.1L473.6 356.4L475.0 354.6L475.1 353.1L475.9 351.9ZM457.7 322.6L459.1 324.8L457.4 325.8L456.8 326.9L456.0 327.1L455.6 329.0L454.9 330.0L454.4 331.8L453.4 332.6L450.2 330.0L450.0 328.5L441.7 323.2L441.3 322.9L441.3 320.1L442.0 319.0L443.1 317.3L443.9 315.4L442.9 312.4L442.6 311.1L441.5 309.3L442.9 307.7L444.4 306.0L445.6 306.4L445.6 307.9L446.4 308.8L448.0 308.8L451.0 311.0L451.7 311.0L452.3 310.9L452.8 311.2L454.3 311.5L455.0 310.4L457.1 309.3L458.0 310.1L459.6 310.1L457.6 313.1ZM441.1 295.7L441.2 297.7L440.9 298.5L439.6 298.6L438.9 300.1L440.3 300.2L441.5 301.5L441.9 302.5L443.0 303.2L444.4 306.0L442.9 307.7L441.5 309.3L440.1 310.5L438.4 310.5L436.6 311.1L435.1 310.5L434.2 311.2L432.1 309.5L431.6 308.4L430.3 308.9L429.2 308.7L428.6 309.2L427.6 308.9L426.1 306.7L425.7 305.9L424.0 304.8L423.4 303.3L422.5 302.1L420.9 300.8L420.8 299.9L419.6 298.9L418.0 297.9L418.7 297.6L419.5 297.1L420.0 294.7L420.6 293.5L422.3 293.2L422.7 293.9L423.9 295.4L424.5 295.6L425.4 295.2L427.0 295.3L427.3 295.8L429.6 295.8L429.7 295.3L430.9 294.8L431.1 294.0L432.0 293.5L433.9 295.0L435.1 294.7L436.2 292.9L437.4 291.4L437.2 289.9L436.6 289.1L438.0 289.0L438.1 288.4L439.2 288.5L439.0 290.5L439.3 292.4L440.5 293.4L440.8 294.3L440.8 295.6ZM525.2 223.3L527.1 224.5L528.3 226.5L532.2 227.6L530.6 229.8L528.3 230.2L524.8 229.5L524.0 230.6L525.4 232.9L526.5 234.7L528.6 236.0L527.1 237.5L527.5 239.4L525.9 242.0L525.0 244.7L523.2 247.4L520.5 247.2L518.5 249.9L520.2 251.1L520.7 253.1L522.1 254.4L522.9 256.7L517.9 256.7L516.7 258.4L514.9 257.8L514.0 255.9L512.0 253.9L508.0 254.4L504.3 254.4L501.2 254.8L501.7 251.8L504.7 250.4L504.4 249.2L503.2 248.8L502.8 246.5L500.5 245.3L499.4 243.8L498.1 242.4L502.0 243.7L504.2 243.3L505.6 243.7L505.9 243.1L507.5 243.3L510.2 242.2L509.9 240.0L510.8 238.5L512.4 238.5L512.5 237.8L514.2 237.5L515.0 237.7L515.7 237.0L515.3 235.4L515.9 233.8L517.1 233.2L515.9 231.4L518.0 231.5L518.4 230.6L518.0 229.6L518.8 228.5L518.3 227.2L517.5 226.1L518.5 224.9L520.6 224.4L523.1 224.1L524.0 223.6ZM484.2 276.9L482.6 277.6L482.2 278.7L482.2 279.6L480.0 280.7L476.4 281.9L474.5 283.8L473.5 283.9L472.8 283.8L471.5 284.9L470.1 285.4L468.1 285.5L467.6 285.6L467.1 286.3L466.5 286.5L466.2 287.2L465.0 287.1L464.3 287.5L462.7 287.3L462.1 285.8L462.1 284.4L461.7 283.6L461.1 281.7L460.4 280.6L460.9 280.5L460.6 279.3L460.8 278.8L460.6 277.6L461.6 276.8L461.3 275.7L461.8 274.4L462.8 275.1L463.4 274.9L466.0 274.8L466.5 275.1L468.7 275.3L469.6 275.2L470.2 276.1L471.2 275.6L472.7 272.9L474.7 271.7L481.2 270.7L483.3 275.0Z" fill="#8c96c6" stroke="#8c96c6" stroke-width="0.8" stroke-linejoin="round"/>
<path d="M335.2 282.2L335.9 281.7L336.3 280.2L337.1 280.1L338.6 280.8L339.9 280.3L340.8 280.5L341.2 279.9L350.3 279.9L350.9 278.0L350.5 277.7L349.5 266.4L348.5 255.1L351.9 255.1L359.5 260.8L367.1 266.5L367.7 267.7L369.1 268.5L370.2 268.9L370.2 270.6L372.7 270.3L372.7 276.3L371.5 278.1L371.3 279.7L369.3 280.1L366.2 280.3L365.3 281.3L363.8 281.4L362.4 281.4L361.8 280.9L360.6 281.3L358.4 282.3L358.0 283.1L356.2 284.3L355.9 285.0L354.9 285.5L353.8 285.2L353.2 285.8L352.8 287.6L351.0 289.8L351.1 290.6L350.4 291.8L350.6 293.3L349.6 293.7L349.1 294.0L348.7 292.9L348.1 293.2L347.7 293.1L347.3 293.9L345.5 293.9L344.8 293.5L344.5 293.7L343.8 293.0L344.0 292.2L343.7 291.9L343.2 292.1L343.3 291.3L343.8 290.6L342.8 289.5L342.6 288.8L342.1 288.2L341.6 288.2L341.0 288.5L340.3 288.9L339.7 289.4L338.7 289.2L338.1 288.5L337.7 288.5L337.1 288.8L336.7 288.8L336.6 287.9L336.7 287.1L336.5 286.0L335.7 285.3L335.2 283.8ZM336.6 302.6L336.0 302.5L334.4 301.4L333.2 300.0L332.8 299.1L332.5 297.1L333.8 296.0L334.0 295.2L334.4 294.6L335.1 294.6L335.6 294.1L337.4 294.1L338.1 295.1L338.6 296.2L338.5 296.9L338.9 297.6L338.8 298.6L339.4 298.4L338.4 299.6L337.3 301.0L337.2 301.8ZM356.4 307.4L355.4 307.4L353.8 306.9L352.3 306.9L349.6 307.4L347.9 308.1L345.6 309.1L345.2 309.0L345.4 306.8L345.6 306.5L345.5 305.5L344.6 304.4L343.8 304.2L343.2 303.5L343.7 302.3L343.4 301.0L343.6 300.3L343.9 300.3L344.1 299.2L343.9 298.6L344.1 298.3L345.0 298.0L344.4 295.9L343.9 294.8L344.1 293.9L344.5 293.7L344.8 293.5L345.5 293.9L347.3 293.9L347.7 293.1L348.1 293.2L348.7 292.9L349.1 294.0L349.6 293.7L350.6 293.3L351.6 293.9L352.0 294.7L353.0 295.3L353.8 294.6L354.9 294.5L356.5 295.2L357.1 298.9L356.1 301.1L355.5 304.1L356.5 306.3ZM365.4 304.9L361.8 306.4L360.6 307.3L358.5 308.1L356.4 307.4L356.5 306.3L355.5 304.1L356.1 301.1L357.1 298.9L356.5 295.2L356.2 293.2L356.2 291.7L360.2 291.6L361.3 291.8L362.0 291.4L363.0 291.6L362.9 292.4L363.9 293.8L363.9 295.6L364.1 297.7L364.6 298.7L364.1 301.0L364.3 302.3L364.9 304.0ZM369.2 304.0L367.3 304.3L366.7 302.5L366.8 296.5L366.4 296.0L366.3 294.7L365.5 293.8L364.8 293.0L365.1 291.6L365.8 291.3L366.3 290.2L367.5 290.0L367.9 289.2L368.7 288.4L369.5 288.4L371.3 289.9L371.2 290.8L371.7 292.3L371.3 293.4L371.5 294.1L370.4 295.7L369.7 296.5L369.3 298.1L369.3 299.8ZM356.5 295.2L354.9 294.5L353.8 294.6L353.0 295.3L352.0 294.7L351.6 293.9L350.6 293.3L350.4 291.8L351.1 290.6L351.0 289.8L352.8 287.6L353.2 285.8L353.8 285.2L354.9 285.5L355.9 285.0L356.2 284.3L358.0 283.1L358.4 282.3L360.6 281.3L361.8 280.9L362.4 281.4L363.8 281.4L363.7 282.6L364.0 283.8L365.3 285.5L365.3 286.8L368.0 287.4L367.9 289.2L367.5 290.0L366.3 290.2L365.8 291.3L365.1 291.6L363.0 291.6L362.0 291.4L361.3 291.8L360.2 291.6L356.2 291.7L356.2 293.2ZM393.2 314.5L392.9 314.3L391.5 314.7L390.1 314.3L389.0 314.5L385.3 314.4L385.6 312.4L384.7 310.6L383.7 310.2L383.2 309.0L382.6 308.6L382.6 307.9L383.2 306.1L384.3 303.6L384.9 303.5L386.3 302.0L387.2 301.9L388.5 303.0L390.1 302.1L390.3 301.0L390.8 300.0L391.1 298.7L392.3 297.6L392.8 295.8L393.3 295.2L393.6 293.8L394.2 292.2L396.1 290.1L396.2 289.3L396.5 288.8L395.5 287.8L395.6 286.9L396.2 286.8L397.2 288.4L397.3 290.2L397.3 291.9L398.6 294.3L397.3 294.3L396.6 294.5L395.6 294.2L395.1 295.4L396.5 296.9L397.5 297.4L397.8 298.5L398.6 300.3L398.2 301.0L397.1 303.6L396.5 304.1L396.3 306.1L396.6 307.2L396.4 308.0L397.5 309.4L397.7 310.3L398.6 311.7L399.6 312.5L399.7 313.7L400.0 314.5L399.8 315.9L398.0 315.3L396.1 314.6ZM400.7 335.8L401.2 337.7L401.8 339.3L402.4 340.1L403.2 341.5L404.8 341.3L405.5 340.9L406.8 341.3L407.2 340.6L407.7 339.1L409.2 339.0L409.3 338.5L410.5 338.5L410.3 339.5L413.1 339.5L413.1 341.1L413.5 342.1L413.2 343.7L413.3 345.3L414.1 346.3L413.9 349.4L414.5 349.1L415.5 349.2L416.9 348.8L417.9 349.0L418.2 349.8L417.9 351.0L418.3 352.3L417.9 353.3L418.1 354.2L413.3 354.1L413.0 362.5L414.4 364.6L415.9 366.2L411.7 367.3L406.2 366.9L404.6 365.7L395.4 365.8L395.0 366.0L393.7 364.8L392.2 364.7L390.9 365.1L389.7 365.6L389.6 364.0L389.9 361.7L390.7 359.3L390.9 358.2L391.6 355.8L392.2 354.8L393.5 353.0L394.3 351.9L394.6 350.0L394.5 348.5L393.8 347.5L393.2 346.0L392.6 344.4L392.8 343.8L393.5 342.8L392.8 340.3L392.3 338.5L391.2 336.8L391.4 336.4L392.4 336.0L393.0 336.0L393.9 335.7ZM391.7 335.3L391.1 335.5L390.5 333.6L391.4 332.5L392.1 332.0L393.0 332.9L392.1 333.4L391.8 334.1ZM442.4 350.5L444.1 350.3L446.8 351.0L447.4 350.7L449.0 350.7L449.9 349.9L451.3 349.9L453.8 348.9L455.7 347.4L456.0 348.6L455.8 351.2L456.0 353.5L455.9 357.5L456.3 358.8L455.5 360.7L454.5 362.5L453.0 364.1L450.9 365.1L448.2 366.4L445.5 369.2L444.6 369.7L442.9 371.5L442.0 372.1L441.7 374.0L442.6 376.0L443.0 377.5L443.0 378.3L443.4 378.2L443.2 380.7L442.7 382.0L443.3 382.4L442.9 383.5L441.8 384.4L439.9 385.3L437.1 386.7L436.1 387.7L436.2 388.8L436.8 389.0L436.5 390.3L434.8 390.3L434.7 389.2L434.4 388.0L434.3 387.0L434.9 384.1L434.4 382.3L433.5 378.6L436.0 375.6L436.7 373.7L437.1 373.5L437.4 372.0L437.1 371.2L437.2 369.2L437.8 367.4L437.9 364.1L436.8 363.3L435.7 363.1L435.2 362.4L434.2 361.9L432.3 361.9L432.2 361.0L432.0 359.1L439.1 356.9L440.3 358.2L441.0 358.0L441.8 358.6L441.9 359.7L441.4 360.9L441.5 362.7L442.9 364.3L443.7 362.5L444.7 362.0L444.7 358.6L443.8 356.7L443.0 355.9L442.2 355.9L441.7 352.5ZM441.3 322.9L441.7 323.2L450.0 328.5L450.2 330.0L453.4 332.6L452.3 335.9L452.4 337.3L453.9 338.3L453.9 339.0L453.3 340.5L453.4 341.3L453.2 342.6L454.0 344.2L454.9 346.8L455.7 347.4L453.8 348.9L451.3 349.9L449.9 349.9L449.0 350.7L447.4 350.7L446.8 351.0L444.1 350.3L442.4 350.5L441.8 347.0L441.1 345.7L440.6 345.0L438.4 344.5L437.1 343.8L435.6 343.3L434.7 342.9L433.8 342.2L432.6 338.9L431.3 337.5L430.8 335.9L431.1 334.6L430.7 332.2L431.6 332.0L432.5 331.1L433.4 329.7L434.0 329.2L434.0 328.3L433.5 327.7L433.4 326.7L434.0 326.4L434.2 324.8L433.3 323.4L434.1 323.0L436.6 323.1ZM436.6 323.1L434.1 323.0L433.3 323.4L431.9 324.2L431.3 323.9L431.4 321.9L431.9 320.9L432.0 318.8L432.5 317.6L433.4 316.3L434.2 315.6L435.0 314.6L434.1 314.3L434.2 311.2L435.1 310.5L436.6 311.1L438.4 310.5L440.1 310.5L441.5 309.3L442.6 311.1L442.9 312.4L443.9 315.4L443.1 317.3L442.0 319.0L441.3 320.1L441.3 322.9ZM430.7 332.2L430.6 329.0L430.0 327.8L431.4 328.0L432.1 326.5L433.4 326.7L433.5 327.7L434.0 328.3L434.0 329.2L433.4 329.7L432.5 331.1L431.6 332.0ZM449.7 281.3L451.1 282.5L452.4 281.9L453.0 282.4L454.6 282.4L456.6 283.5L457.3 284.4L458.3 285.2L459.3 286.7L460.1 287.6L459.4 288.8L458.6 290.0L458.9 290.7L458.9 291.5L460.2 291.6L460.7 291.3L461.3 291.8L460.8 292.8L461.7 294.2L462.6 295.5L463.5 296.4L471.1 299.5L473.1 299.5L466.7 307.3L463.7 307.4L461.7 309.3L460.2 309.3L459.6 310.1L458.0 310.1L457.1 309.3L455.0 310.4L454.3 311.5L452.8 311.2L452.3 310.9L451.7 311.0L451.0 311.0L448.0 308.8L446.4 308.8L445.6 307.9L445.6 306.4L444.4 306.0L443.0 303.2L441.9 302.5L441.5 301.5L440.3 300.2L438.9 300.1L439.6 298.6L440.9 298.5L441.2 297.7L441.1 295.3L441.7 292.6L442.8 291.9L443.0 290.8L443.9 288.8L445.3 287.5L446.1 284.9L446.4 282.7L449.1 283.2ZM532.2 227.6L535.3 230.6L535.6 232.8L536.8 234.1L537.1 235.5L535.4 235.1L536.7 238.0L539.3 239.6L542.8 241.5L541.6 242.7L541.3 245.1L543.6 246.1L546.0 247.4L549.2 248.8L552.3 249.2L553.8 250.5L555.6 250.8L558.4 251.4L560.3 251.3L560.3 250.3L559.7 248.6L559.6 247.5L560.9 246.9L561.5 249.0L561.7 249.5L563.9 250.5L565.2 250.1L567.1 250.3L568.9 250.2L568.8 248.6L567.7 247.8L569.4 247.4L571.0 245.5L573.2 243.8L575.2 244.5L576.5 243.4L578.0 245.0L577.5 246.1L580.0 246.5L580.4 247.5L579.7 248.0L580.2 249.6L578.5 249.1L576.0 250.9L576.4 252.4L575.6 254.6L575.7 255.9L575.0 258.0L573.2 257.4L573.5 260.1L573.1 261.0L573.6 262.1L572.5 262.8L570.7 258.6L570.1 258.6L570.0 260.3L568.5 258.9L569.0 257.5L570.0 257.3L570.6 255.1L569.3 254.6L567.2 254.7L565.0 254.3L564.5 252.5L563.4 252.4L561.4 251.2L560.9 253.0L562.8 254.4L561.5 255.4L561.2 256.3L562.7 257.0L562.6 258.6L563.6 260.6L564.3 262.7L564.1 263.7L562.5 263.7L559.8 264.2L560.2 266.2L559.2 267.7L556.2 269.5L554.0 272.5L552.5 274.2L550.4 275.9L550.5 277.1L549.5 277.7L547.5 278.7L546.4 278.8L546.0 280.8L546.8 284.2L547.1 286.4L546.3 288.9L546.6 293.3L545.4 293.4L544.5 295.4L545.2 296.3L543.1 297.0L542.5 298.8L541.6 299.6L539.3 297.1L538.0 293.5L537.0 290.8L536.1 289.6L534.7 287.1L533.9 283.8L533.3 282.2L530.9 278.6L529.5 273.5L528.4 270.2L528.1 267.0L527.4 264.5L524.3 266.1L522.6 265.8L519.3 262.6L520.3 261.7L519.6 260.7L516.7 258.4L517.9 256.7L522.9 256.7L522.1 254.4L520.7 253.1L520.2 251.1L518.5 249.9L520.5 247.2L523.2 247.4L525.0 244.7L525.9 242.0L527.5 239.4L527.1 237.5L528.6 236.0L526.5 234.7L525.4 232.9L524.0 230.6L524.8 229.5L528.3 230.2L530.6 229.8Z" fill="#8c6bb1" stroke="#8c6bb1" stroke-width="0.8" stroke-linejoin="round"/>
<path d="M367.9 289.2L368.0 287.4L365.3 286.8L365.3 285.5L364.0 283.8L363.7 282.6L363.8 281.4L365.3 281.3L366.2 280.3L369.3 280.1L371.3 279.7L371.5 278.1L372.7 276.3L372.7 270.3L375.9 269.1L382.4 264.0L390.0 259.0L393.6 260.1L394.9 261.6L396.5 260.6L397.2 264.7L398.0 265.4L398.1 266.2L399.1 267.1L398.6 268.2L397.8 273.5L397.8 276.9L394.9 279.4L394.0 282.8L395.0 283.8L395.0 285.5L396.5 285.5L396.2 286.8L395.6 286.9L395.5 287.8L395.1 287.8L393.5 284.9L393.0 284.8L391.2 286.3L389.4 285.5L388.2 285.4L387.5 285.7L386.2 285.7L384.8 286.8L383.7 286.8L380.9 285.5L379.8 286.1L378.6 286.1L377.8 285.1L375.5 284.1L373.0 284.4L372.4 285.0L372.1 286.5L371.4 287.6L371.3 289.9L369.5 288.4L368.7 288.4ZM434.2 311.2L434.1 314.3L435.0 314.6L434.2 315.6L433.4 316.3L432.5 317.6L432.0 318.8L431.9 320.9L431.4 321.9L431.3 323.9L430.6 324.6L430.5 326.2L430.2 326.4L430.0 327.8L430.6 329.0L430.7 332.2L431.1 334.6L430.8 335.9L431.3 337.5L432.6 338.9L433.8 342.2L432.9 341.9L429.8 342.4L429.1 342.7L428.5 344.4L428.9 345.5L428.5 348.6L428.1 351.2L428.7 351.7L430.3 352.7L431.0 352.3L431.1 355.1L429.3 355.1L428.4 353.6L427.6 352.5L425.9 352.1L425.4 350.8L423.9 351.6L422.1 351.2L421.4 350.0L419.9 349.8L418.8 349.8L418.7 349.0L417.9 349.0L416.9 348.8L415.5 349.2L414.5 349.1L413.9 349.4L414.1 346.3L413.3 345.3L413.2 343.7L413.5 342.1L413.1 341.1L413.1 339.5L410.3 339.5L410.5 338.5L409.3 338.5L409.2 339.0L407.7 339.1L407.2 340.6L406.8 341.3L405.5 340.9L404.8 341.3L403.2 341.5L402.4 340.1L401.8 339.3L401.2 337.7L400.7 335.8L393.9 335.7L393.0 336.0L392.4 336.0L391.4 336.4L391.1 335.5L391.7 335.3L391.8 334.1L392.1 333.4L393.0 332.9L393.6 333.2L394.4 332.2L395.6 332.2L395.8 332.9L396.6 333.4L398.0 331.7L399.4 330.5L400.0 329.7L399.9 327.5L400.9 325.0L402.0 323.6L403.5 322.3L403.7 321.5L403.8 320.6L404.2 319.6L404.0 318.2L404.3 315.8L404.8 314.2L405.5 312.8L405.6 311.2L405.8 309.4L406.7 308.1L407.9 307.2L409.8 308.1L411.3 309.1L413.0 309.4L414.7 309.9L415.4 308.3L415.7 308.1L416.8 308.3L419.3 307.0L420.2 307.6L421.0 307.5L421.3 306.9L422.2 306.6L423.9 306.9L425.4 307.0L426.1 306.7L427.6 308.9L428.6 309.2L429.2 308.7L430.3 308.9L431.6 308.4L432.1 309.5Z" fill="#88419d" stroke="#88419d" stroke-width="0.8" stroke-linejoin="round"/>
<path d="M382.6 307.9L380.2 308.9L379.3 308.7L378.5 309.3L376.6 309.3L375.4 307.6L374.6 305.7L373.0 304.0L371.2 304.0L369.2 304.0L369.3 299.8L369.3 298.1L369.7 296.5L370.4 295.7L371.5 294.1L371.3 293.4L371.7 292.3L371.2 290.8L371.3 289.9L371.4 287.6L372.1 286.5L372.4 285.0L373.0 284.4L375.5 284.1L377.8 285.1L378.6 286.1L379.8 286.1L380.9 285.5L383.7 286.8L384.8 286.8L386.2 285.7L387.5 285.7L388.2 285.4L389.4 285.5L391.2 286.3L393.0 284.8L393.5 284.9L395.1 287.8L395.5 287.8L396.5 288.8L396.2 289.3L396.1 290.1L394.2 292.2L393.6 293.8L393.3 295.2L392.8 295.8L392.3 297.6L391.1 298.7L390.8 300.0L390.3 301.0L390.1 302.1L388.5 303.0L387.2 301.9L386.3 302.0L384.9 303.5L384.3 303.6L383.2 306.1Z" fill="#6e016b" stroke="#6e016b" stroke-width="0.8" stroke-linejoin="round"/>
<path d="M358.3 228.4L359.1 230.1L359.2 231.7L359.9 234.5L360.5 235.0L360.1 236.0L357.2 236.5L356.2 237.4L354.9 237.7L354.8 239.6L352.2 240.6L351.4 241.9L349.5 242.7L347.3 243.0L343.7 245.0L343.6 248.0L333.6 248.0L334.8 247.1L336.9 246.8L338.7 245.0L339.9 244.3L341.8 242.1L341.3 238.9L342.2 236.6L342.6 235.2L344.0 233.5L346.3 232.3L347.9 231.2L349.4 228.5L350.1 226.9L351.7 226.9L353.0 228.0L355.1 227.8L357.3 228.4L358.3 228.4M421.3 368.9L421.8 369.3L422.4 370.8L424.9 373.7L425.8 374.0L425.8 374.9L426.4 376.6L428.1 377.0L429.5 378.2L426.3 380.1L424.1 382.0L423.3 383.8L422.6 384.8L421.3 385.0L420.9 386.2L420.6 387.1L419.2 387.7L417.3 387.5L416.3 386.8L415.4 386.5L414.2 387.1L413.6 388.3L412.5 389.1L411.4 390.3L409.7 390.6L409.3 389.6L409.6 388.1L408.3 385.6L407.8 385.2L408.0 377.5L410.2 377.4L410.6 368.1L412.3 368.0L415.8 367.1L416.7 368.2L418.1 367.2L418.8 367.2L420.1 366.6L420.5 366.8L421.3 368.9M399.4 395.1L397.8 393.2L397.0 390.8L396.6 388.7L396.1 386.8L395.5 382.8L395.5 379.7L395.2 378.2L394.4 377.1L393.2 375.0L392.1 371.8L391.7 370.2L389.8 367.7L389.7 365.6L390.9 365.1L392.2 364.7L393.7 364.8L395.0 366.0L395.4 365.8L404.6 365.7L406.2 366.9L411.7 367.3L415.9 366.2L417.8 365.6L419.2 365.8L420.1 366.4L420.1 366.6M407.8 385.2L407.3 394.8L405.3 396.2L404.1 396.4L402.7 395.9L401.7 395.7L401.4 394.6L400.5 393.8L399.4 395.1M433.1 396.9L432.6 397.3L431.5 398.6L430.8 400.0L429.4 401.8L426.7 404.5L425.0 406.1L423.2 407.3L420.8 408.3L419.7 408.5L419.4 409.2L418.1 408.8L417.0 409.3L414.6 408.8L413.3 409.1L412.4 409.0L410.0 410.0L408.2 410.4L406.7 411.4L405.8 411.5L404.9 410.5L404.2 410.5L403.3 409.3L403.2 409.7L402.9 409.0L403.0 407.4L402.4 405.7L403.1 405.2L403.2 403.2L401.9 400.8L400.8 398.5L399.4 395.1M429.5 378.2L430.5 378.2L431.5 378.6L432.3 378.3L433.5 378.6L434.4 382.3L434.9 384.1L434.3 387.0L434.4 388.0L433.3 387.5L432.7 387.7L432.4 388.4L431.7 389.4L431.7 390.3L432.9 391.8L434.3 391.5L434.8 390.3L436.5 390.3L435.8 392.2L435.4 394.4L434.7 395.6L433.1 396.9M427.5 396.1L428.2 396.9L427.4 398.2L427.0 399.0L425.7 399.5L425.2 400.3L424.4 400.6L422.9 398.5L424.2 396.9L425.5 395.8L426.6 395.3L427.5 396.1M434.4 388.0L434.7 389.2L434.8 390.3M461.8 287.2L462.4 288.0L462.4 289.1L461.1 289.7L462.1 290.4L461.3 291.8L460.7 291.3L460.2 291.6L458.9 291.5L458.9 290.7L458.6 290.0L459.4 288.8L460.1 287.6L461.1 287.8L461.8 287.2M446.4 262.9L437.4 262.9L428.6 262.9L419.5 262.9L419.1 253.2L418.6 243.9L417.8 241.8L418.2 240.2L417.8 239.1L418.5 237.8L421.5 237.8L423.6 238.5L425.9 239.3L426.9 239.7L428.6 238.8L429.4 238.1L431.3 237.9L432.9 238.2L433.7 239.5L434.1 238.6L435.9 239.3L437.7 239.4L438.7 238.8L440.6 243.3L440.0 244.3L439.7 246.3L439.2 247.6L438.7 248.1L437.9 247.3L436.8 246.1L434.9 242.3L434.7 242.6L435.9 245.3L437.5 248.0L439.4 252.0L440.4 253.5L441.2 254.9L443.4 257.8L443.0 258.3L443.2 260.0L445.9 262.3L446.4 262.9M419.5 262.9L419.7 268.1L417.1 268.1L417.1 269.2L407.9 264.2L398.8 259.2L396.5 260.6L394.9 261.6L393.6 260.1L390.0 259.0L389.0 257.4L387.2 256.2L386.2 256.6L385.4 255.2L385.3 254.1L383.9 252.2L384.8 251.1L384.5 249.4L384.8 248.0L384.6 246.8L384.9 244.7L384.8 243.5L384.0 241.1L385.1 240.5L385.2 239.4L385.0 238.3L386.5 237.3L387.1 236.5L388.1 235.7L388.2 233.7L390.8 234.6L391.7 234.4L393.6 234.9L396.6 236.0L397.7 238.3L399.7 238.9L402.9 240.0L405.3 241.2L406.3 240.6L407.3 239.4L406.7 237.4L407.3 236.1L408.8 234.9L410.3 234.5L413.3 235.0L414.2 236.2L415.0 236.2L415.7 236.7L417.9 237.0L418.5 237.8M384.0 241.1L382.9 236.5L381.6 235.4L381.5 234.8L379.7 233.2L379.4 231.2L380.8 229.8L381.2 227.6L380.8 225.1L381.2 223.8L383.5 222.7L385.0 223.0L385.0 224.4L386.8 223.4L387.0 223.9L385.9 225.2L386.0 226.4L386.8 227.0L386.6 229.3L385.2 230.6L385.6 232.0L386.8 232.1L387.4 233.3L388.2 233.7M390.0 259.0L382.4 264.0L375.9 269.1L372.7 270.3L370.2 270.6L370.2 268.9L369.1 268.5L367.7 267.7L367.1 266.5L359.5 260.8L351.9 255.1L343.6 249.0L343.6 248.0M358.3 228.4L360.4 227.0L362.7 226.5L364.1 225.5L366.2 224.7L369.8 224.2L373.4 224.0L374.5 224.4L376.5 223.4L378.8 223.3L379.7 223.9L381.2 223.8M495.9 227.2L498.4 228.2L499.9 227.8L500.1 226.6L501.7 226.2L502.8 225.4L502.7 223.4L504.4 222.8L504.6 221.9L505.7 222.6L506.4 222.7L507.6 222.7L509.4 223.3L510.1 223.6L511.5 222.8L512.3 223.3L512.7 222.1L514.0 222.1L514.2 221.7L514.2 220.7L514.9 219.8L516.2 220.4L516.2 221.2L516.8 221.3L517.2 223.5L518.3 224.3L518.9 223.8L519.8 223.5L520.8 222.3L522.4 222.6L524.6 222.6L525.2 223.3L524.0 223.6L523.1 224.1L520.6 224.4L518.5 224.9L517.5 226.1L518.3 227.2L518.8 228.5L518.0 229.6L518.4 230.6L518.0 231.5L515.9 231.4L517.1 233.2L515.9 233.8L515.3 235.4L515.7 237.0L515.0 237.7L514.2 237.5L512.5 237.8L512.4 238.5L510.8 238.5L509.9 240.0L510.2 242.2L507.5 243.3L505.9 243.1L505.6 243.7L504.2 243.3L502.0 243.7L498.1 242.4L499.7 240.0L499.2 238.3L497.4 237.9L497.0 236.2L495.9 234.2L496.5 232.7L495.5 232.3L495.7 230.4L495.9 227.2M559.6 247.5L559.7 248.6L560.3 250.3L560.3 251.3L558.4 251.4L555.6 250.8L553.8 250.5L552.3 249.2L549.2 248.8L546.0 247.4L543.6 246.1L541.3 245.1L541.6 242.7L542.8 241.5L543.6 240.8L545.5 241.6L548.1 243.4L549.5 243.7L550.5 245.0L552.3 245.5L554.3 246.7L557.0 247.3L559.6 247.5M567.7 247.8L568.8 248.6L568.9 250.2L567.1 250.3L565.2 250.1L563.9 250.5L561.7 249.5L561.5 249.0L562.6 247.1L563.7 246.4L565.4 247.0L566.6 247.1L567.7 247.8M551.4 300.7L551.2 303.5L550.2 304.2L548.3 304.8L547.1 302.7L546.5 299.0L547.3 294.7L549.0 296.2L550.1 298.0L551.4 300.7M598.4 288.5L596.2 287.3L594.3 287.4L594.4 285.3L592.4 285.3L592.5 288.2L591.6 292.0L591.0 294.4L591.3 296.2L592.8 296.3L593.9 298.7L594.4 301.0L595.8 302.5L597.2 302.8L598.5 304.1L597.8 305.2L596.2 305.5L596.0 304.2L594.1 303.0L593.7 303.5L592.7 302.5L592.3 301.2L591.0 299.7L589.8 298.5L589.5 300.0L589.0 298.6L589.1 296.9L589.6 294.4L590.5 291.7L591.6 289.3L590.5 286.9L590.4 285.7L590.0 284.2L588.2 282.2L587.5 280.9L588.3 280.4L588.8 278.1L587.6 276.4L585.9 274.5L584.5 272.2L585.4 271.7L586.0 268.9L587.6 268.8L588.8 267.6L590.0 267.0L591.1 267.8L591.5 269.4L593.0 269.5L592.9 272.3L593.2 274.6L595.4 273.0L596.2 273.5L597.5 273.4L597.8 272.5L599.6 272.7L601.6 274.8L602.1 277.4L604.3 279.7L604.5 281.9L603.9 283.1L601.7 282.7L598.8 283.2L597.5 285.4L598.4 288.5M590.0 267.0L590.3 266.0L592.0 264.3L592.3 265.0L593.5 265.0L592.7 262.0L593.8 261.7L595.5 263.7L596.8 266.1L599.7 266.1L600.9 268.4L599.5 269.1L599.0 270.0L602.0 271.6L604.3 274.7L606.1 277.0L608.1 278.8L608.9 280.6L608.8 283.3L606.7 282.3L605.9 284.1L603.9 283.1M607.5 264.0L604.8 266.3L603.3 268.8L603.1 270.6L605.3 273.3L607.9 276.7L610.2 278.3L611.9 280.4L613.6 285.3L613.7 289.9L612.0 291.6L609.5 293.3L607.8 295.5L605.1 297.9L604.1 296.2L604.6 294.5L602.8 293.0L604.7 291.9L607.1 291.7L605.9 290.1L609.6 288.1L609.6 285.0L608.8 283.3M593.8 261.7L594.9 261.0L596.7 261.0L598.9 260.7L600.6 259.3L601.8 260.3L604.0 260.8L603.9 262.3L605.1 263.4L607.5 264.0M600.9 292.6L599.8 291.2L598.4 288.5M602.8 293.0L600.9 292.6M598.5 304.1L599.0 304.4L600.4 306.0L601.5 307.7L601.7 309.5L601.5 310.6L601.8 311.6L602.0 313.1L602.8 313.8L603.8 316.1L603.7 317.0L602.1 317.2L599.9 315.2L597.1 313.2L596.8 311.8L595.4 310.1L595.0 307.9L594.1 306.5L594.3 304.6L593.7 303.5M636.7 308.7L635.0 309.6L633.0 309.1L630.4 309.1L629.7 312.1L628.8 313.0L627.7 316.7L625.9 317.2L623.7 316.5L622.6 316.7L621.2 318.0L619.8 317.8L618.3 318.4L616.7 316.9L616.2 315.1L618.0 316.1L619.7 315.6L620.1 313.3L621.1 312.8L623.9 312.3L625.4 310.2L626.5 308.6L627.6 309.9L628.1 309.0L629.2 309.1L629.2 307.4L629.3 306.1L630.9 304.3L632.0 302.3L632.9 302.3L634.2 303.6L634.3 304.7L635.9 305.5L637.9 306.3L637.8 307.3L636.2 307.4L636.7 308.7M626.5 308.6L627.4 307.6L629.3 306.1M650.6 343.6L650.9 343.0L653.0 342.4L654.5 342.4L655.3 342.0L656.2 342.4L655.3 343.1L652.8 344.2L650.8 345.0L650.6 343.6M639.0 272.0L640.5 272.8L641.1 272.1L641.4 272.8L641.2 273.8L642.3 275.7L642.1 277.9L640.9 278.7L640.8 280.9L641.6 282.9L642.9 283.2L643.8 282.9L646.9 284.4L646.9 285.8L647.7 286.4L647.6 287.6L645.7 286.3L644.7 285.0L644.2 285.9L642.5 284.4L640.5 284.7L639.3 284.2L639.2 283.1L639.9 282.4L639.1 281.8L638.9 282.7L637.6 281.3L637.1 280.1L636.6 277.6L637.7 278.5L637.2 274.4L637.6 272.0L639.0 272.0M653.9 298.4L654.3 300.1L654.6 301.6L653.9 304.0L652.9 301.3L651.9 302.6L652.8 304.6L652.2 305.8L649.4 304.3L648.6 302.4L649.2 301.2L647.7 299.9L647.0 301.0L646.0 300.9L644.3 302.4L643.9 301.6L644.7 299.4L646.0 298.6L647.2 297.7L648.1 298.9L649.8 298.1L650.1 297.0L651.7 296.9L651.4 294.9L653.4 296.1L653.7 297.4L653.9 298.4M637.5 290.7L638.1 292.8L636.7 294.2L635.6 296.0L632.8 298.5L633.7 296.7L635.3 295.1L636.5 293.3L637.5 290.7M648.0 287.6L650.3 287.6L651.0 288.6L651.9 291.5L650.1 290.8L650.2 291.7L651.0 293.3L649.9 293.9L649.7 292.1L649.0 291.9L648.4 290.3L649.8 290.5L649.7 289.6L648.0 287.6M642.8 289.3L644.2 290.1L645.7 290.1L645.8 291.2L644.8 292.3L643.4 293.1L643.2 291.9L643.3 290.5L642.8 289.3M646.0 296.8L644.5 295.0L644.9 294.3L645.4 293.6L645.5 291.9L646.7 291.8L646.5 293.5L648.0 291.0L648.0 293.5L647.3 294.4L646.7 296.0L646.0 296.8M641.6 286.2L641.2 288.5L640.1 287.2L638.7 285.2L640.7 285.3L641.6 286.2M637.1 256.6L636.6 260.8L636.0 262.9L634.4 260.7L633.8 258.8L634.5 256.2L635.9 254.2L637.1 255.0L637.1 256.6M613.9 271.5L612.2 272.8L610.2 272.0L609.7 269.7L610.7 268.6L613.0 267.8L614.3 267.9L615.0 268.9L614.2 270.0L613.9 271.5M619.4 190.8L623.4 191.6L627.1 193.4L629.5 195.8L632.6 195.8L633.7 194.8L636.5 194.0L637.1 196.3L636.9 197.2L638.1 200.0L638.3 202.5L635.5 202.1L634.3 203.0L636.2 205.2L637.8 208.2L636.8 208.3L637.6 209.6L635.3 208.1L635.4 209.6L632.7 210.7L633.8 212.0L632.0 211.9L630.5 211.1L630.1 213.0L628.5 214.4L627.7 216.0L625.1 216.8L624.1 218.0L622.1 218.7L622.7 217.5L621.7 216.5L622.5 214.7L620.7 213.4L619.3 214.3L617.8 216.1L617.3 217.8L615.3 217.9L614.8 219.1L616.7 220.9L618.7 221.3L619.2 222.5L621.3 223.2L622.9 221.4L625.2 222.4L626.7 222.5L627.6 223.8L624.9 224.6L624.5 226.0L622.9 227.3L622.6 229.1L625.5 230.5L627.3 233.1L629.6 235.5L631.8 237.5L632.5 239.5L631.3 240.2L632.3 241.6L633.9 242.4L634.2 244.5L634.3 246.6L633.1 246.8L632.3 249.7L631.3 253.1L630.0 256.2L627.4 258.6L624.7 260.8L622.2 261.1L621.0 262.3L620.1 261.4L619.0 262.7L616.1 264.0L613.8 264.4L613.4 267.2L612.2 267.4L611.3 265.5L611.7 264.4L608.5 263.6L607.5 264.0M592.0 264.3L591.8 263.3L590.2 264.0L589.2 263.5L587.3 262.6L587.6 260.4L586.1 259.9L585.2 257.5L582.9 257.9L582.6 254.8L584.3 252.6L583.9 250.5L583.4 248.5L582.3 247.8L581.2 246.3L580.0 246.5L577.5 246.1L578.0 245.0L576.5 243.4L575.2 244.5L573.2 243.8L571.0 245.5L569.4 247.4L567.7 247.8M561.5 249.0L560.9 246.9L559.6 247.5M542.8 241.5L539.3 239.6L536.7 238.0L535.4 235.1L537.1 235.5L536.8 234.1L535.6 232.8L535.3 230.6L532.2 227.6L528.3 226.5L527.1 224.5L525.2 223.3M524.6 222.6L523.9 221.1L523.6 220.1L522.2 219.5L521.5 219.7L520.3 217.3L520.7 216.7L520.2 216.1L521.9 214.9L523.2 214.4L525.6 214.7L525.8 213.1L528.4 212.7L528.8 211.7L531.7 210.3L531.7 209.7L531.0 208.3L532.2 207.6L528.6 203.1L532.3 202.1L533.2 201.5L532.8 196.9L537.2 197.8L537.8 196.6L536.8 194.1L538.3 193.8L539.1 192.1L539.8 191.9L541.1 193.7L543.5 195.0L546.8 196.0L549.2 198.1L549.7 201.1L551.0 202.2L553.6 202.6L556.5 203.0L559.8 204.6L561.2 204.9L563.2 207.2L565.1 208.8L567.4 208.7L572.0 209.3L574.6 208.9L576.9 209.3L580.7 210.9L583.3 210.9L584.6 211.7L586.4 210.3L589.3 209.4L592.4 209.3L594.4 208.4L595.2 207.0L596.2 206.2L595.5 205.3L594.3 204.3L594.5 202.7L595.8 202.9L598.2 203.4L599.5 202.0L602.1 201.0L602.6 199.3L603.6 198.6L606.4 198.3L608.2 198.6L607.9 197.7L604.9 195.9L602.8 195.0L601.8 196.0L599.6 195.6L598.6 195.9L597.5 194.9L597.3 192.4L597.1 190.4L600.1 191.4L601.9 189.8L601.2 188.7L601.1 186.0L601.6 185.2L600.6 183.8L599.1 183.2L599.7 182.0L601.8 181.5L604.4 181.5L607.9 182.2L610.3 183.1L613.5 185.7L615.0 186.7L616.9 188.3L619.4 190.8M539.8 191.9L541.7 191.5L544.4 189.3L546.9 188.1L549.0 188.9L551.1 188.9L553.1 190.1L555.1 190.2L558.4 190.8L559.4 189.1L557.7 187.6L558.2 185.0L561.1 186.0L563.1 186.3L565.8 187.0L567.3 188.9L570.7 189.9L572.3 189.4L574.7 189.1L576.9 189.5L579.6 190.7L581.6 192.0L583.4 191.9L586.2 192.4L587.7 191.7L590.1 191.3L591.9 189.5L593.3 189.8L594.8 190.6L597.1 190.4M637.6 209.6L638.1 210.1L637.2 209.9L636.9 210.8L636.7 211.7L637.9 213.6L637.1 214.1L637.0 214.6L636.6 215.3L635.4 215.8L634.8 216.5L635.4 217.6L635.3 217.9L636.3 218.3L638.1 219.5L638.1 220.1L637.3 220.3L635.8 220.4L635.6 221.6L634.6 221.5L633.3 221.2L633.2 221.7L632.7 221.9L632.4 221.4L631.7 221.2L630.9 220.8L631.0 219.6L631.3 219.3L630.9 218.8L630.8 217.4L630.4 217.0L629.0 216.7L627.7 216.0M638.1 219.5L641.5 222.5L642.8 224.2L644.2 227.2L644.0 228.7L642.3 229.2L641.0 230.2L639.1 230.5L638.3 229.1L637.8 227.1L635.7 224.4L637.1 223.9L634.5 221.7M667.2 223.3L667.5 225.4L668.5 226.7L668.2 228.5L666.1 229.7L662.3 229.9L660.5 232.9L658.6 231.9L657.6 229.9L654.1 230.5L652.1 231.7L649.5 231.8L652.5 233.7L652.8 238.2L651.8 239.3L650.4 238.2L650.0 235.9L648.3 235.1L646.7 233.3L648.4 232.5L648.9 230.9L650.5 229.5L651.3 227.7L655.3 227.0L657.8 227.5L657.8 222.9L659.9 224.1L661.7 221.5L662.4 220.5L662.0 217.3L659.9 214.4L659.8 212.7L661.8 212.3L665.1 215.9L666.3 218.0L665.8 220.6L667.2 223.3M662.4 205.0L664.2 205.6L665.0 204.5L667.4 207.4L664.8 208.1L664.6 210.6L660.2 208.9L660.8 211.7L658.5 211.8L656.6 209.2L656.3 207.2L658.5 207.1L656.7 203.5L655.9 201.5L660.2 204.2L662.4 205.0M657.2 231.1L657.9 232.0L657.3 233.6L656.1 232.7L655.2 233.3L655.2 234.9L653.5 234.1L653.0 232.9L653.5 231.3L654.9 231.6L655.3 230.5L657.2 231.1M414.5 143.4L416.2 142.7L419.6 144.0L424.2 144.5L431.5 147.1L433.2 148.0L433.8 149.6L432.2 150.8L429.7 151.4L421.4 149.6L420.3 150.1L423.5 151.7L424.6 155.1L428.7 156.5L428.6 155.3L427.2 154.2L428.2 153.5L432.9 154.9L434.0 154.2L432.5 152.6L435.7 150.3L437.3 150.5L439.1 151.2L439.6 149.6L437.7 148.3L438.1 146.9L436.4 145.6L441.4 146.3L442.8 147.6L440.8 147.8L441.3 149.2L442.8 149.8L445.4 149.4L445.2 148.0L448.3 146.9L453.3 144.9L454.7 145.1L453.7 146.5L455.8 146.7L456.7 146.0L459.8 145.8L461.9 144.9L464.4 146.3L465.7 144.9L463.2 143.6L463.7 142.7L469.0 143.6L471.7 144.3L479.2 146.7L479.8 145.6L477.4 144.5L476.8 143.8L474.7 143.6L474.8 142.7L472.8 141.0L472.4 140.3L474.1 138.4L473.9 136.5L474.8 136.1L479.4 136.5L480.6 137.8L480.2 139.5L481.8 140.1L483.3 141.6L484.9 144.7L487.6 146.0L487.8 147.6L486.4 150.8L488.4 151.0L488.7 150.3L490.2 149.6L490.0 148.5L490.9 147.4L489.1 146.3L488.8 144.7L486.8 144.5L485.8 143.4L485.6 141.2L482.3 139.5L484.2 138.0L482.8 136.5L483.4 136.3L485.2 137.6L486.0 139.7L488.0 139.9L486.1 138.4L488.2 137.6L491.6 137.6L495.3 138.6L492.6 136.9L490.7 134.8L493.0 134.2L497.0 134.4L500.1 134.2L497.7 133.0L498.4 131.7L500.1 131.7L502.2 130.7L505.7 130.3L505.8 129.9L509.7 129.7L511.4 130.1L513.6 129.1L516.5 129.1L515.6 128.1L516.1 127.3L518.7 126.6L522.0 127.1L520.6 127.7L524.4 127.9L525.9 128.9L526.9 128.5L531.3 128.5L536.0 129.5L538.3 130.3L539.3 131.3L538.4 131.9L535.6 133.0L535.1 133.6L537.5 134.0L540.3 134.4L541.2 134.0L543.8 135.5L543.8 134.8L546.0 134.5L551.4 134.8L553.0 135.9L560.0 136.1L558.3 134.6L561.9 134.8L564.4 134.8L568.6 136.1L571.1 137.3L571.1 138.2L575.2 139.9L578.9 140.8L577.8 138.6L581.5 139.5L583.5 138.8L587.7 139.7L588.0 139.1L591.0 139.3L587.2 137.3L588.2 136.5L604.5 137.8L607.9 139.1L614.6 140.8L620.5 140.3L624.1 140.6L626.7 141.4L629.0 143.2L632.0 143.8L633.7 143.4L636.4 143.2L640.0 143.6L642.9 143.4L648.8 145.4L649.9 144.7L646.2 143.2L645.7 142.3L651.9 142.9L655.0 142.7L661.6 143.8L665.4 144.8L678.9 153.8L678.2 154.9L675.6 154.6L678.8 155.8L682.5 157.7L684.4 158.4L685.9 159.3L686.3 160.0L682.4 159.5L679.5 161.2L678.2 161.4L677.6 163.1L677.0 164.8L677.5 165.7L672.8 164.0L670.4 166.0L668.3 165.0L668.1 166.2L664.9 165.7L666.3 167.4L666.9 169.8L668.2 170.8L670.8 171.3L674.4 174.7L672.8 174.9L674.1 176.9L675.9 177.9L674.2 179.4L676.2 182.1L673.8 182.7L675.8 185.4L675.1 187.6L672.7 185.9L668.3 182.1L661.7 176.7L659.1 173.2L659.2 171.8L658.2 170.8L660.4 170.1L660.5 167.2L660.8 164.8L661.8 162.8L658.9 159.3L657.0 159.5L658.6 161.7L656.9 164.3L651.8 161.2L648.2 162.1L648.0 166.0L651.4 167.6L647.8 168.1L645.3 168.4L643.4 166.7L640.1 166.2L639.0 167.4L633.2 167.2L627.8 167.9L626.2 172.5L624.2 178.4L627.6 178.6L629.8 180.1L632.2 180.6L632.3 179.4L634.6 179.6L639.8 182.4L641.9 184.6L642.5 187.1L644.7 190.1L646.9 194.2L646.4 197.8L646.9 199.6L646.2 202.7L644.9 207.0L642.9 208.6L641.7 208.6L639.6 207.3L637.8 209.1L638.1 210.1M539.1 192.1L537.3 190.6L534.9 190.9L533.5 189.8L531.9 189.4L530.2 187.9L528.9 187.4L526.3 188.1L522.9 186.6L522.5 188.0L515.0 181.6L511.6 179.7L511.9 178.9L508.2 181.2L506.4 181.4L505.9 180.0L503.0 179.2L501.3 179.8L499.5 177.2L495.8 176.7L494.5 177.7L490.1 178.6L489.4 179.3L482.5 180.1L481.9 181.0L484.0 182.7L482.3 183.3L483.0 184.0L481.5 185.2L485.4 186.9L485.3 188.1L482.4 188.0L482.1 188.8L479.1 187.5L476.0 187.5L474.2 188.6L471.5 187.5L466.6 185.8L463.5 185.9L460.2 188.6L460.5 190.5L458.0 189.0L457.1 191.8L457.9 192.3L457.2 194.2L459.3 195.9L460.8 195.9L462.5 197.6L462.6 198.9L463.8 199.3L463.2 200.8L461.3 201.3L459.9 203.9L462.3 206.4L462.5 208.1L465.4 211.1L464.4 212.2L464.2 212.9L463.2 212.7L461.4 211.1L460.8 211.0L459.4 210.4L458.5 209.4L456.4 208.8L455.3 209.2L454.8 208.7L451.7 207.5L448.5 207.1L446.7 206.6L446.5 207.0L443.4 204.8L440.9 203.8L438.8 202.3L440.2 201.9L441.6 199.7L440.2 198.7L443.0 197.7L442.9 197.1L441.1 197.5L441.0 196.4L443.8 195.5L444.0 194.6L443.2 193.2L443.7 191.9L443.6 191.2L440.4 190.3L439.2 190.4L437.8 189.2L436.3 189.6L433.6 188.7L433.5 188.2L432.6 187.1L431.0 187.0L430.7 186.2L431.1 185.7L429.5 184.3L427.5 184.5L426.9 184.4L426.5 185.0L425.8 184.9L425.0 183.3L424.3 182.4L424.7 182.2L426.3 182.3L426.9 181.7L426.2 181.1L424.8 180.6L424.8 180.2L423.9 179.7L422.4 178.1L422.7 177.4L422.3 176.3L420.3 175.7L419.3 176.0L418.9 175.4L416.8 174.8L415.9 173.3L415.5 172.1L414.5 171.6L415.2 170.8L414.2 168.6L415.2 167.2L414.9 166.7L416.7 165.4L414.5 164.3L417.8 161.2L419.1 159.9L419.5 158.7L416.5 157.1L416.9 155.6L414.9 153.8L415.6 151.9L412.9 149.3L414.1 147.6L411.1 146.1L411.0 144.6L412.3 144.3L414.9 143.5L414.5 143.4M649.5 188.3L655.0 192.7L651.4 191.9L653.0 195.6L656.8 198.2L658.1 200.0L655.4 198.4L655.4 200.4L653.6 198.3L652.0 195.8L649.7 193.0L648.7 191.1L646.1 187.7L642.9 185.3L640.1 181.9L640.9 180.7L639.1 179.5L639.6 179.2L641.6 180.9L644.4 183.3L646.5 185.7L649.5 188.3M407.1 179.3L403.5 179.3L401.1 179.1L401.4 178.0L404.0 177.2L406.0 177.6L407.0 178.0L407.1 179.3M60.6 144.8L62.1 146.5L63.2 148.7L61.1 150.1L61.3 150.8L63.3 149.0L67.5 149.4L67.9 151.5L64.7 152.6L61.6 152.8L58.5 154.9L57.0 155.5L55.6 155.3L55.1 154.6L53.8 154.0L55.1 152.8L53.7 152.6L51.2 152.8L51.4 152.1L50.3 151.7L49.5 152.8L47.1 153.8L60.6 144.8M69.7 139.2L73.0 139.1L72.8 139.8L70.9 140.8L67.2 140.7L69.7 139.2M447.7 134.5L450.4 132.7L449.4 131.8L452.2 130.7L456.3 129.4L461.1 129.0L463.1 128.3L465.9 128.0L467.6 128.8L467.1 129.4L462.4 130.4L458.4 131.4L454.8 133.4L453.7 135.4L452.3 137.4L453.6 139.2L457.7 140.9L456.8 141.1L451.3 140.9L450.4 139.9L447.1 139.3L446.3 138.2L447.8 137.7L447.1 136.6L449.3 134.8L447.7 134.5M509.1 124.3L506.2 124.5L501.5 124.0L498.2 123.3L495.5 122.0L493.1 121.7L495.3 120.5L497.8 120.1L501.7 121.0L507.3 122.7L509.1 124.3M518.1 125.4L510.7 126.1L510.2 123.7L511.1 123.5L512.4 123.6L517.5 124.6L518.1 125.4M575.2 129.6L579.4 129.7L586.8 130.8L588.0 132.3L582.1 132.2L580.3 132.7L575.2 131.4L573.8 130.0L575.2 129.6M589.7 131.6L592.3 131.2L597.1 131.8L596.7 132.6L593.9 132.4L589.7 131.6M656.3 139.2L658.8 140.7L657.2 140.8L655.8 140.1L656.3 139.2M433.7 120.7L436.1 121.1L435.7 121.3L434.0 121.5L432.8 121.7L432.8 122.0L431.3 122.3L429.5 121.8L429.9 121.3L426.7 121.2L429.3 120.9L431.4 120.9L432.0 121.4L432.6 121.0L433.7 120.7M512.2 209.9L511.2 210.4L509.0 212.3L508.6 214.1L507.8 214.1L506.9 212.9L504.2 212.8L503.1 210.7L502.1 210.7L501.5 208.1L498.4 206.2L494.9 206.4L492.5 206.8L489.9 204.4L487.9 203.5L484.1 201.6L483.7 201.4L478.8 202.9L481.3 212.4L480.3 212.6L478.3 210.5L476.7 209.8L474.4 210.3L473.7 211.2L473.5 210.6L473.7 209.5L473.1 208.6L470.5 207.7L469.0 205.4L467.7 204.8L467.4 203.9L469.5 204.2L469.1 202.3L470.7 201.9L472.6 202.2L472.4 199.8L471.6 198.2L469.6 198.3L467.7 197.7L465.6 198.8L463.8 199.3M531.7 209.7L530.3 209.4L528.9 208.4L525.7 208.2L522.2 208.1L521.5 208.4L518.2 207.3L517.2 207.8L517.4 209.4L513.6 208.5L512.4 208.8L512.2 209.9M506.4 222.7L506.1 221.1L502.9 220.0L500.4 218.7L498.7 217.5L495.7 215.7L494.0 213.0L493.2 212.5L490.9 212.7L489.9 212.1L489.2 210.1L486.0 208.7L484.6 210.2L483.0 211.1L483.7 212.4L481.3 212.4M512.2 209.9L513.0 210.2L511.7 211.9L513.6 212.9L514.9 212.2L517.8 213.6L515.7 215.4L514.0 215.2L513.1 215.3L512.6 214.5L512.7 213.3L510.0 213.9L509.8 215.6L509.3 217.1L507.4 216.9L507.2 218.1L508.9 218.7L509.9 220.6L509.4 223.3M495.9 227.2L495.3 225.0L493.6 224.9L490.7 222.6L488.9 222.3L486.2 221.0L484.6 220.7L483.8 221.2L482.3 221.1L481.1 222.6L479.3 223.1L478.6 221.3L478.3 218.6L476.4 217.7L476.6 215.9L475.2 215.8L475.1 213.6L477.3 214.2L479.0 213.4L477.0 211.8L476.1 210.3L474.6 211.0L474.8 212.9L473.7 211.2M520.3 217.3L516.4 217.7L513.5 216.9L511.2 217.1L511.0 215.6L513.5 216.0L514.0 215.2M450.7 211.8L450.9 210.8L450.0 209.0L448.6 208.0L447.4 207.7L446.5 207.0M460.8 211.0L460.4 211.4L461.7 212.8L461.4 213.1L460.3 212.9L458.6 212.2L458.1 212.6L455.3 213.0L453.0 211.7L450.7 211.8M458.1 212.6L458.7 213.3L459.6 213.7L459.3 214.4L460.6 215.3L460.1 216.1L461.2 216.8L462.2 217.2L462.6 219.0L461.8 219.1L460.7 217.6L460.6 217.2L459.7 217.2L458.9 216.5L458.5 216.6L457.5 215.8L455.8 215.2L455.8 213.9L455.3 213.0M465.4 211.1L466.9 212.5L468.3 214.4L469.3 214.5L470.1 215.2L468.4 215.4L468.5 217.4L468.3 218.3L467.6 218.9L467.9 220.2L467.4 220.3L465.8 219.0L466.3 217.7L465.5 216.9L464.8 217.1L462.6 219.0M461.8 219.1L460.3 218.8L459.0 217.6L458.5 216.6M441.0 212.4L444.2 213.4L446.6 213.0L448.5 213.2L450.7 211.8M458.5 216.6L457.2 217.3L458.4 220.3L458.1 221.1L459.6 223.2L458.6 223.6L457.8 223.0L455.2 222.6L454.4 223.0L452.0 223.5L450.8 223.4L448.4 224.4L446.7 224.4L445.5 223.9L443.2 224.6L442.4 224.1L442.5 225.6L442.0 226.2L441.5 226.7L440.5 225.6L441.2 224.6L439.9 224.8L438.0 224.2L436.7 225.7L433.5 226.0L431.6 224.6L429.2 224.5L428.8 225.6L427.4 225.9L425.1 224.5L422.8 224.5L421.2 222.0L419.5 220.5L420.3 218.5L418.9 217.2L421.0 214.7L424.2 214.6L424.9 212.7L428.9 213.0L431.2 211.3L433.6 210.6L437.1 210.5L441.0 212.4M420.7 214.0L419.1 215.4L418.3 214.2L418.2 213.7L418.7 213.4L419.2 211.8L418.1 211.1L420.1 210.3L422.0 210.6L422.4 211.6L424.3 212.5L424.0 213.1L421.5 213.2L420.7 214.0M434.2 228.5L433.2 228.6L433.8 229.7L434.9 230.0L437.0 228.7L438.1 227.1L436.7 228.2L436.2 227.9L434.6 227.9L434.2 228.5M498.1 242.4L499.4 243.8L500.5 245.3L502.8 246.5L503.2 248.8L504.4 249.2L504.7 250.4L501.7 251.8L501.2 254.8L496.9 254.0L494.4 253.4L491.8 253.1L490.4 249.9L489.3 249.4L487.7 249.9L485.6 251.2L482.7 250.3L480.2 248.3L478.0 247.5L476.2 245.1L474.1 241.6L473.0 242.0L471.4 241.1L470.7 242.1L469.3 240.8L469.1 239.4L468.4 239.4L468.5 237.5L467.1 235.5L464.2 234.0L462.3 231.6L462.5 229.5L463.5 228.6L463.1 227.1L461.5 226.3L459.6 223.2M467.9 220.2L469.0 222.1L471.1 222.7L472.8 224.0L476.0 224.4L479.3 223.7L479.3 223.1M470.7 242.1L469.4 242.0L467.9 241.8L466.6 244.3L462.4 244.1L455.5 238.8L452.0 237.0L449.3 236.3L448.0 233.1L452.5 230.4L452.9 227.2L452.4 225.3L453.5 224.7L454.4 223.0M448.0 233.1L444.0 235.9L441.5 234.9L441.7 234.4L441.5 233.4L441.9 232.0L443.0 231.0L442.5 229.9L441.5 229.8L441.1 227.8L441.5 226.7M441.2 235.7L441.5 234.9M449.3 236.3L448.9 236.7L444.6 238.0L447.1 240.6L446.4 241.1L446.2 241.9L444.5 242.3L444.1 243.2L443.2 244.0L440.7 243.6L440.6 243.3L441.3 239.1L441.1 238.0L441.4 237.3L441.2 235.7M441.2 235.7L440.3 235.3L440.1 237.1L440.7 237.4L440.1 237.7L440.1 238.4L441.1 238.0M438.7 238.8L439.2 237.9L439.1 237.7L439.5 236.5L439.8 234.5L440.0 233.9L440.8 233.9L440.9 233.4L441.5 233.4M440.1 233.9L440.6 231.7L441.5 229.9M460.6 277.6L460.3 276.5L459.6 275.7L459.3 274.7L458.1 273.8L456.7 271.6L456.0 269.4L454.3 267.7L453.2 267.2L451.6 264.7L451.2 262.9L451.2 261.3L449.7 258.4L448.6 257.4L447.4 256.9L446.5 255.4L446.6 254.8L445.9 253.5L445.2 252.9L444.2 250.9L442.6 248.8L441.4 247.0L440.2 247.0L440.5 245.6L440.5 244.7L440.7 243.6M466.6 244.3L468.6 244.6L469.3 245.8L470.8 245.7L472.0 248.0L473.1 248.6L473.6 249.5L475.3 250.6L475.5 251.7L475.4 252.6L475.8 253.4L476.5 254.2L476.9 255.0L477.3 255.7L478.0 256.2L478.6 256.0L479.1 257.0L479.3 257.6L480.4 260.3L487.3 261.6L487.7 261.0L488.9 262.9L487.8 268.1L481.2 270.7L474.7 271.7L472.7 272.9L471.2 275.6L470.2 276.1L469.6 275.2L468.7 275.3L466.5 275.1L466.0 274.8L463.4 274.9L462.8 275.1L461.8 274.4L461.3 275.7L461.6 276.8L460.6 277.6M496.3 265.2L495.6 267.0L494.6 266.8L494.2 267.5L493.9 268.8L494.3 270.5L494.1 270.9L493.1 270.8L491.8 271.8L491.6 273.1L491.1 273.6L489.7 273.6L488.9 274.3L489.0 275.3L487.9 276.1L486.7 275.8L485.2 276.7L484.2 276.9L483.3 275.0L481.2 270.7M487.7 261.0L487.6 260.0L488.2 258.9L488.1 257.8L489.1 257.3L488.6 256.9L488.6 255.2L489.8 255.2L491.0 257.0L492.3 257.9L494.0 258.3L495.4 258.8L496.6 260.3L497.3 261.1L498.1 261.5L498.2 262.1L497.5 263.6L497.2 264.4L496.3 265.2M489.5 252.7L489.2 253.2L488.7 252.2L489.3 251.4L489.6 251.6L489.5 252.7M479.1 257.0L479.5 256.9L479.6 257.6L481.4 257.2L483.2 257.2L484.6 257.3L486.0 255.5L487.5 253.9L488.7 252.2M489.2 253.2L489.8 255.2M477.3 255.7L476.9 253.8L477.4 252.4L478.0 252.1L478.7 252.9L478.9 254.4L478.6 256.0M469.4 242.0L470.0 243.2L469.9 243.7L470.8 245.7M409.1 139.9L414.7 141.5L412.7 142.1L414.9 143.5M411.0 144.6L411.3 143.0L408.9 142.2L406.5 142.9L406.1 144.5L404.7 145.5L402.8 144.9L400.6 145.1L398.5 143.9L397.6 144.5L396.6 144.5L396.6 146.0L393.4 145.7L393.1 146.9L391.5 146.9L390.6 148.5L389.2 151.0L386.8 154.2L387.6 155.0L387.1 155.9L385.3 155.9L384.3 158.1L384.7 161.2L386.0 162.4L385.7 165.2L384.3 166.8L383.6 168.2L382.2 166.7L378.7 169.5L376.2 170.1L373.6 168.9L372.8 166.3L372.0 160.8L373.6 159.3L378.2 157.3L381.6 154.9L384.5 151.7L388.1 147.3L390.8 145.7L394.9 142.9L398.4 141.9L401.1 142.1L403.3 140.3L406.3 140.4L409.1 139.9M399.8 126.3L396.7 127.1L393.9 126.6L394.8 126.1L393.8 125.5L396.7 125.1L397.5 125.8L399.8 126.3M389.3 122.8L394.5 124.2L391.0 124.9L390.5 126.3L389.3 126.7L388.9 128.3L387.1 128.4L383.6 127.2L384.9 126.5L382.5 125.9L379.4 124.3L378.1 122.9L381.9 122.3L382.8 122.9L384.8 122.9L385.3 122.2L387.4 122.2L389.3 122.8M399.3 121.6L402.3 122.2L400.5 123.1L396.4 123.4L392.0 123.1L391.6 122.6L389.6 122.5L387.8 121.7L392.1 121.2L394.3 121.6L395.5 121.1L399.3 121.6M401.6 152.1L400.2 153.7L400.7 155.1L398.2 156.9L395.1 159.0L394.2 162.3L395.7 163.9L397.6 165.3L396.3 168.0L394.4 168.6L394.2 172.6L393.3 174.9L391.0 174.7L390.1 176.6L387.9 176.8L387.1 174.4L385.3 171.7L383.6 168.2M397.6 144.5L400.1 145.5L403.0 147.1L403.8 150.5L404.5 151.4L401.6 152.1M414.5 164.3L411.3 164.5L408.2 165.3L405.2 165.8L404.0 164.5L402.1 163.8L402.1 161.4L400.9 159.3L401.5 157.9L402.9 156.5L406.4 154.0L407.5 153.5L407.1 152.5L404.5 151.4M383.8 174.0L383.4 175.0L382.8 174.7L381.5 176.5L382.1 177.7L380.9 178.1L379.5 177.7L378.6 176.4L378.4 173.9L378.7 173.2L379.2 172.5L380.8 172.3L381.5 171.6L382.9 171.0L383.0 172.2L382.5 173.0L382.7 173.7L383.8 174.0M386.6 174.9L387.4 176.1L386.4 178.1L384.2 176.8L383.9 175.7L386.6 174.9M337.9 150.4L337.4 151.9L339.1 153.4L336.7 155.2L331.3 156.8L329.7 157.2L327.5 156.9L322.6 156.1L324.5 155.1L320.9 154.0L324.1 153.5L324.1 152.9L320.6 152.3L322.0 150.8L324.7 150.5L327.2 152.1L330.0 150.8L332.1 151.5L335.1 150.2L337.9 150.4M357.4 168.7L355.3 171.4L357.2 171.0L359.3 171.1L358.8 173.0L357.0 175.3L359.0 175.4L359.1 175.7L360.9 178.6L362.2 179.0L363.4 181.8L363.9 182.8L366.3 183.3L366.1 184.9L365.1 185.6L365.9 186.9L364.1 188.2L361.4 188.2L358.0 188.9L357.1 188.4L355.8 189.6L353.9 189.3L352.5 190.2L351.4 189.7L354.4 187.1L356.2 186.5L353.1 186.1L352.6 185.1L354.7 184.4L353.6 183.0L354.1 181.4L357.0 181.6L357.3 180.2L356.0 178.6L353.6 178.2L353.2 177.5L353.9 176.4L353.3 175.7L352.2 176.9L352.2 174.5L351.3 173.2L352.1 170.7L353.6 168.8L355.1 169.0L357.4 168.7M352.0 178.8L350.9 180.4L349.5 179.9L348.3 180.0L348.7 178.6L348.4 177.3L350.0 177.2L352.0 178.8M350.9 180.4L351.2 182.2L349.6 184.5L346.0 185.9L343.3 185.6L345.0 183.0L344.1 180.4L346.9 178.5L348.4 177.3M370.2 189.2L371.6 190.4L372.6 190.2L374.4 191.3L374.9 191.6L375.5 191.5L376.4 192.2L379.3 192.6L378.4 194.4L378.2 196.2L377.7 196.6L376.7 196.4L376.8 197.0L375.4 198.5L375.4 199.6L376.3 199.2L377.1 200.4L377.0 201.1L377.7 202.1L377.0 202.8L377.6 204.8L378.7 205.1L378.5 206.3L376.7 207.7L372.5 207.0L369.5 207.9L369.3 209.4L366.8 209.8L364.5 208.6L363.7 209.1L359.9 208.0L359.0 207.0L360.1 205.4L360.6 200.3L358.4 197.6L357.0 196.3L353.9 195.4L353.7 193.5L356.3 192.9L359.7 193.6L359.1 190.7L361.0 191.8L365.7 189.8L366.3 187.7L368.0 187.2L368.3 188.1L369.2 188.2L370.2 189.2M381.4 209.0L382.7 208.0L383.1 210.3L382.5 212.3L381.5 211.7L381.0 210.0L381.4 209.0M344.0 211.0L344.1 209.1L343.3 208.0L346.4 206.1L348.9 206.6L351.7 206.6L353.9 207.0L355.6 206.9L359.0 207.0M369.3 209.4L369.4 210.9L367.4 212.6L364.7 213.2L364.5 214.1L363.2 215.5L362.4 217.6L363.2 219.1L362.0 220.3L361.5 222.0L359.9 222.5L358.4 224.5L353.6 224.5L352.2 225.4L351.3 226.4L350.3 226.2L349.5 225.3L348.9 223.8L346.9 223.4L346.8 222.5L347.6 221.6L347.9 220.8L347.2 220.1L347.8 218.4L347.0 216.8L347.9 216.6L348.0 215.4L348.4 215.0L348.5 213.0L349.5 212.3L348.9 211.0L347.7 210.9L347.4 211.2L346.1 211.2L345.6 209.9L344.8 210.3L344.0 211.0M346.9 223.4L346.0 224.1L344.9 223.7L343.8 224.0L344.2 222.0L344.0 220.3L343.1 220.1L342.6 219.1L342.8 217.4L343.7 216.5L343.9 215.4L344.4 213.9L344.4 212.8L344.0 211.8L344.0 211.0M388.4 198.4L391.3 199.0L391.2 200.3L391.8 201.4L390.1 201.0L388.5 201.9L388.6 203.2L388.4 203.9L389.2 205.3L391.2 206.5L392.4 208.7L394.9 210.8L396.6 210.8L397.1 211.3L396.6 211.8L398.5 212.8L400.1 213.6L402.1 214.9L402.3 215.4L402.0 216.3L400.7 215.1L398.8 214.7L398.1 216.4L399.7 217.3L399.5 218.7L398.6 218.9L397.6 221.1L396.7 221.3L396.7 220.5L397.0 219.1L397.5 218.5L396.5 217.0L395.8 215.7L394.9 215.4L394.2 214.3L392.8 213.8L391.8 212.7L390.3 212.6L388.6 211.4L386.5 209.7L385.0 208.2L384.3 205.7L383.2 205.4L381.5 204.5L380.5 204.9L379.4 206.1L378.5 206.3M377.1 200.4L378.0 200.9L379.0 200.8L380.1 199.9L380.5 200.3L381.5 200.2L381.8 199.2L383.4 199.5L384.3 199.1L384.4 198.1L385.6 198.4L385.8 197.9L387.8 197.5L388.4 198.4M396.3 220.4L395.7 222.5L396.0 223.3L395.7 224.6L394.0 223.6L392.8 223.4L389.8 222.1L390.0 220.7L392.5 221.0L394.7 220.7L396.3 220.4M382.5 212.7L383.8 214.5L383.7 218.0L382.7 217.8L381.9 218.7L381.0 218.0L380.8 214.8L380.3 213.4L381.5 213.5L382.5 212.7M382.1 177.7L382.2 178.6L384.2 179.2L384.3 180.1L386.2 179.6L387.3 179.0L389.5 179.9L390.5 180.7L391.1 182.0L390.6 182.7L391.4 183.6L392.0 184.9L391.9 185.7L392.9 187.3L392.0 187.6L391.5 187.3L391.0 187.8L389.6 188.3L388.9 188.9L387.5 189.5L387.9 190.2L388.2 191.3L389.2 191.9L390.5 193.0L389.8 194.2L389.1 194.5L389.5 196.1L389.4 196.6L388.7 196.1L387.7 196.0L386.3 196.5L384.5 196.3L384.2 197.0L383.2 196.3L382.5 196.4L380.3 195.7L379.9 196.2L378.2 196.2M375.5 191.5L375.5 190.4L375.1 189.8L375.3 188.1L374.8 185.5L376.0 185.5L376.5 184.5L376.9 182.3L376.5 181.4L376.8 180.9L378.5 180.7L378.9 181.3L380.1 180.1L379.6 179.1L379.5 177.7M390.5 180.7L391.8 180.0L394.7 178.9L397.0 178.0L399.0 178.4L399.2 179.0L401.1 179.1M407.1 179.3L408.1 179.6L408.7 180.3L409.0 181.4L409.6 182.4L409.8 183.4L408.7 183.9L409.4 185.1L409.6 186.2L410.9 188.4L410.8 189.1L409.9 189.4L408.3 191.5L409.0 192.6L408.5 192.5L406.5 191.5L405.1 191.8L404.1 191.6L403.0 192.1L401.8 191.2L401.1 191.6L400.9 191.4L399.9 190.2L398.4 190.0L398.1 189.2L396.7 189.0L396.5 189.6L395.3 189.1L395.4 188.4L393.9 188.2L392.9 187.3M374.9 181.3L376.5 181.4M375.3 188.1L374.2 187.5L372.9 186.4L371.0 186.9L369.6 186.7L370.6 186.1L372.2 182.4L374.9 181.3M375.1 189.8L374.6 189.9L374.4 191.3M368.0 187.2L369.6 186.7M382.5 196.4L382.7 196.9L382.4 197.5L383.3 198.0L384.4 198.1M397.5 194.9L397.4 196.0L396.3 196.0L396.7 196.5L396.2 198.2L395.8 198.6L394.0 198.6L393.0 199.2L391.3 199.0M390.5 193.0L392.0 193.8L393.1 192.8L393.8 192.6L395.4 193.4L396.4 193.2L397.3 193.7L397.2 194.0L397.5 194.9M400.9 191.4L400.3 191.4L400.1 191.9L399.6 192.0L399.5 192.6L399.2 192.7L399.1 192.9L398.5 193.2L397.6 193.1L397.3 193.7M408.5 192.5L408.0 193.1L407.8 194.2L407.3 194.4L405.1 193.6L404.4 193.8L404.0 194.4L403.1 194.7L402.9 194.5L401.9 194.9L401.1 195.0L401.0 195.5L399.3 195.8L398.6 195.6L397.5 194.9M407.8 194.2L409.0 194.8L409.2 195.5L408.0 196.1L407.2 197.8L406.2 199.5L404.6 200.0L403.3 199.9L401.8 200.6L401.0 201.0L399.3 200.5L397.7 199.4L397.0 199.1L396.5 198.2L396.2 198.2M397.0 199.1L395.4 199.7L395.3 200.8L394.6 201.0L394.7 201.8L393.8 201.7L393.1 201.3L392.7 201.7L391.3 201.6L391.8 201.4M401.8 200.6L402.4 201.6L403.1 202.3L402.4 203.3L401.4 202.7L400.0 202.7L398.1 202.3L397.2 202.4L396.8 202.9L396.0 202.3L395.6 203.4L396.8 204.6L397.3 205.4L398.3 206.3L399.1 206.9L400.0 208.0L402.0 209.0L401.8 209.4L399.7 208.5L398.4 207.5L396.5 206.7L394.5 204.9L395.0 204.7L393.9 203.6L393.8 202.7L392.5 202.3L391.9 203.4L391.3 202.5L391.2 201.7M402.4 203.3L403.1 203.3L402.7 204.4L403.8 205.4L403.6 206.6L403.1 206.7L402.8 207.0L402.1 207.5L402.0 209.0M406.1 201.8L407.4 202.4L407.7 203.5L409.0 204.2L409.6 203.7L410.1 204.0L409.7 204.4L410.1 204.9L409.7 205.5L410.0 206.4L411.1 207.5L410.4 208.3L410.1 209.1L410.4 209.5L410.1 209.8L409.1 209.9L408.4 210.0L408.3 209.8L408.5 209.5L408.7 208.9L408.4 208.9L407.9 208.4L407.6 208.3L407.3 207.9L406.9 207.7L406.5 207.4L406.2 207.5L406.0 208.4L405.5 208.6L405.6 208.3L404.8 207.8L404.1 207.5L403.7 207.2L403.1 206.7M404.6 200.0L405.8 201.0L406.1 201.8M404.6 209.4L404.4 208.9L403.6 210.1L403.8 211.0L403.4 210.8L402.7 209.9L401.8 209.4M405.5 208.6L405.1 209.1L404.6 209.4M406.4 211.0L406.2 210.1L405.6 209.8L405.1 209.1M408.4 210.0L407.9 210.1L406.7 210.5L406.7 211.0L406.4 211.0M407.6 213.7L407.6 214.3L406.9 214.7L406.9 215.5L406.0 216.8L405.6 216.6L405.5 216.0L404.3 215.2L404.0 213.9L404.0 212.2L404.2 211.4L403.8 211.0M406.4 211.0L406.2 211.9L406.6 213.0L407.6 213.7M410.1 209.8L411.2 210.6L411.5 212.4L411.1 212.5L410.8 212.9L409.7 212.9L408.9 213.4L407.6 213.7M414.5 227.0L415.7 227.9L417.4 227.8L419.0 228.0L419.0 228.4L420.2 228.1L420.0 228.9L416.8 229.1L416.9 228.7L414.1 228.1L414.5 227.0M418.2 213.7L416.9 213.6L415.8 213.4L413.3 214.0L414.9 215.5L413.9 215.9L412.7 215.9L411.4 214.6L411.1 215.2L411.7 216.7L412.9 217.9L412.2 218.5L413.5 219.7L414.6 220.5L414.8 221.9L412.7 221.2L413.5 222.6L412.1 222.8L413.1 225.2L411.7 225.2L409.8 224.1L408.9 222.0L408.3 220.2L407.4 219.0L406.2 217.6L406.0 216.8M411.5 212.4L413.1 212.4L414.7 211.7L416.3 212.6L418.2 212.4L418.1 211.1M410.1 204.9L410.8 205.9L411.6 205.7L413.3 206.2L416.3 206.3L417.3 205.6L419.7 205.0L421.3 206.0L422.6 206.2L421.6 207.3L421.1 209.1L422.0 210.6M409.2 195.5L410.0 195.0L411.3 195.3L412.6 195.3L413.6 195.9L414.3 195.5L415.7 195.3L416.2 194.7L417.0 194.7L417.7 194.9L418.4 195.7L419.2 196.7L420.6 198.3L420.8 199.4L420.7 200.5L421.3 201.6L422.3 202.1L423.2 201.7L424.2 202.2L424.3 202.8L423.4 203.4L422.7 203.1L422.6 206.2M417.0 194.7L417.4 194.3L418.8 194.0L420.4 194.8L421.2 194.9L422.2 195.6L422.2 196.5L423.0 196.9L423.5 198.0L424.3 198.6L424.2 199.0L424.6 199.3L424.1 199.4L422.9 199.4L422.6 199.0L422.2 199.2L422.4 199.7L422.0 200.5L421.8 201.4L421.3 201.6M443.8 195.5L441.9 195.7L441.0 196.4M441.1 197.5L439.5 197.7L438.3 198.5L436.4 198.7L434.8 199.6L435.2 201.2L436.3 201.9L438.4 201.7L438.2 202.6L436.0 203.1L433.4 204.6L432.2 204.0L432.4 202.8L430.0 202.1L430.3 201.6L432.2 200.7L431.5 200.1L428.2 199.5L427.9 198.5L426.1 198.9L425.5 200.3L424.2 202.2M409.6 186.2L410.6 186.1L411.5 185.4L413.1 185.3L415.1 185.5L417.4 186.1L419.0 186.2L419.8 186.5L420.4 186.1L421.1 186.7L422.8 186.6L423.7 186.8L423.6 185.6L424.1 185.0L425.8 184.9M408.7 180.3L410.6 180.3L412.6 179.4L412.8 178.0L414.2 177.2L413.8 176.1L414.9 175.7L416.8 174.8M407.1 179.3L406.8 178.7L407.0 178.0M404.0 177.2L403.3 175.1L405.3 174.3L408.6 174.5L410.4 174.3L410.7 174.8L411.8 174.9L413.8 176.1M403.3 175.1L403.1 173.3L403.8 171.7L405.4 170.9L407.2 172.7L408.7 172.7L408.8 170.8L410.3 170.4L411.2 170.7L413.0 171.6L414.5 171.6M408.8 170.8L408.8 169.4L408.1 169.7L406.8 168.8L406.4 167.4L408.6 166.7L410.9 166.4L413.0 166.8L414.9 166.7M115.0 192.7L114.8 192.7L112.5 190.2L111.9 189.1L109.0 188.1L109.6 185.8L111.0 184.3L109.4 183.2L110.6 181.2L109.8 179.4L110.8 178.1L112.9 176.9L114.2 175.4L112.3 173.8L112.9 171.0L113.3 169.3L112.7 168.2L112.3 167.2L112.6 166.0L109.9 166.8L106.8 168.1L106.7 166.5L106.5 165.5L105.4 164.8L103.7 164.7L118.2 151.4L128.1 143.1L130.6 143.7L132.0 144.7L133.5 144.9L136.1 144.0L138.9 143.3L141.1 143.6L144.7 142.6L148.0 142.1L148.1 143.0L150.0 142.5L151.5 141.5L152.4 141.7L153.0 143.6L156.9 142.2L155.2 143.8L157.7 143.5L159.0 142.8L160.9 142.9L162.4 143.9L165.5 144.7L167.4 145.1L169.2 144.9L170.4 146.0L166.9 147.1L169.5 147.6L174.4 147.3L176.2 147.0L176.8 148.3L179.7 147.2L178.8 146.2L180.6 145.5L182.8 145.4L184.3 145.1L185.2 145.7L185.8 146.9L187.9 146.7L190.0 147.7L192.9 147.3L195.4 147.4L196.3 146.0L198.2 145.6L200.2 146.4L198.4 148.5L201.0 146.7L202.3 146.8L204.9 144.5L204.2 143.2L203.0 142.3L205.3 139.9L208.6 138.4L210.5 138.7L211.3 139.7L211.4 142.1L209.1 143.2L211.8 143.6L210.0 145.9L213.6 144.1L214.5 145.5L212.8 147.2L213.3 148.7L216.3 147.1L218.9 145.2L220.8 142.8L223.1 142.9L225.3 143.2L226.7 144.3L226.1 145.4L224.0 146.6L224.3 147.8L223.4 148.9L218.9 150.5L216.3 150.8L215.0 150.2L213.6 151.3L210.6 153.2L209.4 154.2L206.3 155.8L203.6 156.0L201.5 156.9L200.3 158.5L198.0 158.7L194.5 160.7L190.6 163.3L188.6 165.2L186.6 168.0L189.1 168.4L188.5 170.7L188.1 172.5L191.1 172.0L194.0 173.1L195.3 174.0L196.0 175.2L198.0 175.9L199.4 176.9L202.5 177.0L204.5 177.3L203.0 179.4L202.3 181.9L202.4 184.7L204.2 187.1L206.1 186.3L208.4 183.7L209.3 179.8L208.6 178.5L212.3 177.3L215.3 175.6L217.3 173.9L218.0 172.2L217.8 170.2L216.5 168.4L220.1 165.8L220.6 163.7L222.1 160.0L223.7 159.4L226.4 160.1L228.1 160.3L230.0 159.7L231.2 160.5L232.7 161.8L232.8 162.8L235.9 162.9L234.8 164.9L233.9 168.0L235.5 168.4L236.1 169.8L239.5 168.4L242.5 165.8L244.2 164.7L244.7 166.8L245.7 169.9L246.6 172.8L245.1 174.3L247.1 175.7L248.3 177.1L251.1 177.8L252.1 178.6L252.1 180.7L253.5 181.0L253.9 181.9L253.1 184.7L251.4 185.7L249.6 186.6L246.1 187.5L242.9 189.5L239.3 189.9L235.2 189.4L232.2 189.4L230.1 189.6L227.7 191.4L224.8 192.5L220.6 195.9L217.4 198.2L219.3 197.8L223.8 194.5L228.8 192.4L231.9 192.1L233.2 193.3L230.7 195.0L230.5 197.8L230.5 199.7L232.8 201.0L236.3 200.6L239.2 197.8L238.8 199.6L239.9 200.5L236.8 202.2L231.8 203.8L229.4 204.8L226.5 206.6L225.0 206.5L225.6 204.3L229.8 202.2L226.5 202.2L224.1 202.5L223.3 201.1L224.4 197.6L223.8 196.9L222.2 197.3L221.8 196.6L219.6 198.6L218.2 200.5L217.1 201.7L216.1 202.1L215.4 202.2L215.0 202.9L211.2 202.9L208.0 202.9L206.9 203.4L204.0 205.2L203.7 205.4L202.7 206.4L200.8 206.4L198.7 206.4L197.6 206.8L197.8 207.4L197.7 208.1L197.5 208.4L194.3 209.7L192.0 210.1L189.0 211.5L188.5 211.5L187.9 211.1L187.9 210.7L188.0 210.4L188.8 209.5L190.3 208.1L191.5 206.6L192.0 204.3L192.5 202.0L190.8 200.8L191.2 200.4L191.1 200.0L190.5 200.0L190.3 199.6L190.4 199.0L189.9 199.3L189.4 199.2L189.6 199.0L189.2 198.7L189.3 198.0L188.1 197.2L186.8 196.4L185.2 195.4L183.8 194.5L181.6 195.2L180.9 195.2L178.8 194.5L177.0 194.9L175.4 194.1L173.5 193.7L172.2 193.5L171.7 193.1L172.1 191.7L171.4 191.7L170.9 192.7L166.7 192.7L159.8 192.7L153.0 192.7L146.9 192.7L140.8 192.7L134.9 192.7L128.7 192.7L126.8 192.7L120.8 192.7L115.0 192.7M224.9 135.7L225.0 137.1L227.9 135.4L232.7 134.5L233.6 136.7L232.3 138.1L236.0 137.5L238.2 136.6L240.9 137.7L242.4 138.7L242.0 139.6L245.3 139.1L246.1 140.5L249.5 141.4L250.4 142.2L250.8 144.3L247.1 145.3L250.2 146.8L252.6 147.3L254.0 149.3L256.6 149.5L255.3 151.1L250.8 153.7L249.2 152.7L247.6 150.5L245.2 150.8L244.3 152.1L245.4 153.5L247.2 154.5L247.6 155.2L247.6 157.5L246.2 159.1L244.2 158.5L240.7 156.6L242.2 158.6L243.3 160.1L243.2 160.9L238.8 159.9L235.7 158.6L234.1 157.4L235.1 156.8L233.1 155.6L231.2 154.5L230.9 155.1L225.5 155.5L224.5 154.7L226.7 153.0L230.1 153.0L233.8 152.7L233.7 151.9L235.0 150.7L238.6 148.5L238.7 147.5L238.6 146.8L236.7 145.7L233.7 144.9L235.2 144.4L234.4 143.0L233.0 142.9L232.2 142.1L230.8 142.8L227.6 143.1L222.0 142.6L218.9 141.9L216.5 141.6L215.8 140.9L218.3 139.9L216.0 139.9L217.3 137.7L220.2 135.8L222.7 135.0L227.2 134.4L224.9 135.7M179.6 135.4L180.7 135.8L178.8 136.8L183.1 136.2L184.2 137.2L187.1 136.2L187.8 136.9L187.0 138.9L188.7 138.0L189.9 135.9L191.6 135.6L192.9 135.9L193.7 136.8L192.6 138.8L191.7 140.4L193.4 141.4L195.4 142.5L194.4 143.4L191.5 143.6L191.8 144.4L190.5 145.3L187.7 144.9L185.4 144.3L183.3 144.4L179.5 145.2L174.9 145.5L171.7 145.7L171.8 144.7L170.1 144.1L168.4 144.3L168.1 142.6L169.5 142.4L172.4 142.0L174.7 142.1L177.2 141.7L174.5 141.2L170.8 141.4L168.5 141.3L168.5 140.5L173.3 139.7L170.7 139.7L168.5 139.1L171.7 137.5L173.8 136.7L179.6 135.4M172.5 133.1L174.2 133.5L178.0 133.6L178.8 134.2L179.5 135.1L176.8 135.6L171.2 137.1L167.4 138.6L166.4 139.5L160.9 140.6L161.1 139.6L158.7 138.5L160.5 137.6L163.5 136.0L166.6 134.7L166.7 133.4L172.5 133.1M269.7 117.2L273.2 117.3L275.9 117.5L278.0 117.9L277.6 118.3L273.6 119.0L269.9 119.3L268.3 119.7L271.4 119.7L267.1 120.7L264.3 121.2L260.5 122.6L257.2 122.9L255.9 123.3L251.4 123.5L253.1 123.7L251.8 124.1L252.1 125.0L250.1 125.6L247.2 126.2L245.8 126.9L243.1 127.5L242.9 128.0L245.5 127.9L245.1 128.4L239.9 129.5L236.5 129.0L231.7 129.3L229.7 129.1L226.9 129.0L227.7 128.0L231.0 127.6L231.8 126.2L232.9 126.0L236.0 126.9L235.3 125.6L233.3 125.3L235.3 124.5L238.4 124.1L239.5 123.5L238.3 122.7L238.8 121.8L242.6 121.9L243.5 122.1L246.4 121.5L243.5 121.3L238.4 121.4L236.6 120.8L236.2 120.1L235.2 119.6L235.6 119.1L238.1 118.8L239.8 118.7L242.8 118.5L245.6 117.9L247.2 118.0L248.2 118.4L250.2 117.6L252.3 117.3L255.0 117.2L259.2 117.1L259.7 117.3L263.9 117.0L266.8 117.1L269.7 117.2M220.4 127.7L221.4 128.4L224.4 128.4L225.0 129.0L223.8 129.8L225.1 130.2L225.6 130.7L227.6 130.8L229.6 131.0L232.5 130.5L235.8 130.4L238.2 130.5L239.1 131.2L238.7 132.1L237.3 132.6L234.5 133.1L232.7 132.8L228.0 133.2L224.7 133.2L222.4 132.9L218.9 132.3L219.6 131.1L220.4 130.2L219.9 129.3L217.0 129.0L216.0 128.4L217.5 127.6L220.4 127.7M214.6 152.2L214.2 153.2L215.4 152.9L216.0 153.5L217.4 154.3L218.9 155.0L218.4 156.1L219.8 155.9L220.6 156.7L218.5 157.4L216.1 156.9L215.8 155.8L213.2 157.0L209.9 158.3L210.2 156.9L207.6 157.1L209.9 155.9L211.4 154.1L213.5 152.0L214.6 152.2M213.5 136.6L210.3 138.2L208.6 138.1L209.3 136.2L210.4 135.2L212.1 134.3L214.2 133.7L217.4 133.8L219.9 134.3L215.8 136.1L213.5 136.6M204.3 134.3L205.8 134.8L208.9 134.5L208.7 135.1L206.2 136.1L207.7 137.0L205.7 138.9L202.2 139.8L200.8 139.6L200.5 138.8L198.1 137.1L198.8 136.4L201.8 136.7L201.4 135.3L204.3 134.3M202.3 143.6L202.6 144.5L200.9 145.2L199.2 144.6L197.6 144.8L196.2 143.8L198.2 143.1L200.2 142.2L201.5 142.8L202.1 143.2L202.3 143.6M197.7 129.5L197.5 130.2L199.2 129.9L200.7 130.0L199.8 131.0L197.7 131.9L192.0 132.2L187.0 133.1L184.6 133.2L185.2 132.5L189.6 131.6L182.2 131.9L180.5 131.5L185.3 129.5L187.5 128.9L190.9 129.6L192.1 130.8L194.6 131.0L194.9 129.0L197.2 128.3L198.5 128.6L197.7 129.5M213.9 129.4L212.7 130.4L210.4 131.9L207.6 132.1L206.3 131.8L207.6 130.6L204.9 130.8L206.7 129.2L208.3 129.3L211.4 128.6L213.4 128.7L213.9 129.4M237.4 122.9L238.5 123.5L235.8 124.0L231.5 125.4L228.8 125.6L226.0 125.3L225.3 124.6L226.2 123.9L227.9 123.4L225.3 123.4L224.4 122.8L224.6 122.0L226.6 121.2L228.3 120.7L229.9 120.6L229.8 120.2L233.1 120.1L233.8 121.0L235.7 121.4L237.6 121.7L237.4 122.9M189.6 126.6L187.2 128.2L185.1 128.8L183.5 128.9L179.5 129.8L176.6 130.1L175.2 129.7L179.9 128.2L184.9 126.9L187.1 126.9L189.6 126.6M209.8 123.5L212.3 123.8L215.4 124.5L215.3 125.4L214.9 126.1L212.7 125.9L211.1 125.3L207.9 125.3L210.1 124.7L208.9 124.2L209.8 123.5M218.7 124.3L220.5 124.4L221.3 124.5L222.2 125.2L220.9 125.9L218.3 126.3L217.6 125.8L217.9 125.1L218.7 124.3M252.6 186.8L251.0 188.4L249.0 190.6L250.6 189.8L251.7 190.3L250.8 191.2L252.3 191.9L253.5 191.3L255.2 192.0L254.1 193.9L255.6 193.5L255.5 194.8L255.7 196.4L254.2 198.6L253.3 198.8L252.1 198.3L253.1 196.2L252.6 195.9L249.6 198.1L248.4 198.0L250.2 196.8L248.4 196.2L246.2 196.3L242.2 196.2L242.2 195.5L243.7 194.6L243.1 193.9L245.2 192.4L248.6 188.3L250.3 186.9L252.3 186.0L253.2 186.1L252.6 186.8M112.9 193.9L111.6 194.3L109.0 193.1L109.1 192.2L107.9 191.3L108.0 190.6L106.2 190.2L106.5 188.8L107.1 188.2L108.8 188.8L109.7 189.1L111.4 189.4L111.5 190.3L111.6 191.5L112.9 192.5L112.9 193.9M105.0 180.0L107.0 179.8L104.1 182.7L104.2 184.7L103.4 184.7L103.1 183.5L103.3 182.4L103.0 181.6L103.6 180.5L104.3 179.7L105.0 180.0M232.4 198.9L233.8 199.3L235.7 199.2L234.4 200.3L233.6 200.4L231.3 199.3L231.1 198.5L232.1 197.7L232.4 198.9M233.6 190.5L234.3 190.2L236.7 190.9L238.4 191.9L238.3 192.4L237.3 192.5L235.0 191.7L233.6 190.5M234.5 146.3L235.4 146.9L234.7 148.0L231.5 148.5L231.3 147.8L232.7 146.7L234.5 146.3M235.1 136.5L234.2 135.5L235.0 134.6L239.2 134.7L241.2 135.9L240.7 136.5L237.4 136.3L235.1 136.5M196.8 135.2L193.8 136.7L193.2 135.0L196.0 134.8L196.8 135.2M224.1 202.5L224.2 203.4L221.6 204.6L219.2 205.5L216.7 206.3L215.1 207.8L214.6 208.4L214.1 209.8L214.3 211.2L215.2 211.2L215.3 210.3L215.7 210.9L215.3 211.6L213.8 212.0L212.8 212.0L211.1 212.4L210.1 212.5L208.8 212.7L206.8 213.4L210.1 212.9L210.6 213.4L207.4 214.2L206.0 214.2L206.2 213.9L205.3 214.6L205.9 214.7L204.8 216.6L202.7 218.6L202.7 217.9L202.3 217.8L201.8 217.1L201.8 218.5L202.2 219.0L202.0 220.0L201.0 221.0L199.2 223.1L199.0 223.0L200.2 221.2L199.4 220.2L199.8 218.0L199.0 219.2L199.0 220.8L197.7 220.4L198.9 221.2L198.3 223.7L198.9 223.9L198.9 224.8L198.5 227.4L196.6 229.4L194.1 230.1L192.3 231.7L191.2 231.8L189.8 232.8L189.3 233.7L186.4 235.4L184.9 236.6L183.5 238.2L182.7 240.0L182.7 241.8L183.0 244.1L183.6 245.9L183.4 247.1L183.9 250.1L183.5 251.9L183.2 252.9L182.4 254.5L181.7 254.8L180.6 254.5L180.5 253.3L179.7 252.7L178.9 250.5L178.2 248.5L178.1 247.5L178.9 245.7L178.6 244.3L177.3 242.1L176.6 241.7L174.0 242.9L173.7 242.8L172.9 241.6L171.6 240.9L169.1 241.2L167.2 241.0L165.4 241.1L164.4 241.5L164.7 242.2L164.4 243.3L164.7 243.8L164.2 244.1L163.5 243.7L162.5 244.2L160.9 244.2L159.6 242.8L157.6 243.1L156.1 242.5L154.7 242.7L152.7 243.3L150.2 245.2L147.7 246.4L146.2 247.6L145.4 248.8L145.0 250.6L144.9 251.9L145.1 252.7L144.2 252.8L142.7 252.2L141.2 251.4L140.8 250.2L140.7 248.4L139.7 246.9L139.3 245.3L138.7 243.6L137.4 242.5L135.6 242.6L133.6 244.6L132.0 243.9L131.0 243.1L130.9 241.6L130.5 240.3L129.6 239.1L128.7 238.3L128.2 237.4L124.4 237.4L124.0 238.4L122.3 238.4L117.9 238.5L113.5 236.6L110.6 235.3L111.0 234.8L108.1 235.1L105.5 235.3L105.6 234.0L104.8 232.5L103.9 232.2L103.9 231.4L102.7 231.3L102.2 230.6L100.3 230.3L99.9 229.9L100.2 228.5L99.2 225.8L99.0 222.2L99.4 221.6L98.8 220.8L98.2 218.6L99.0 216.4L98.6 215.0L100.2 212.9L101.4 210.6L101.8 208.7L104.0 206.2L105.7 203.9L107.3 201.6L109.0 198.1L109.8 195.9L109.9 194.8L110.5 194.3L112.9 195.1L112.5 197.5L113.4 196.9L114.4 194.8L115.0 192.7M109.1 140.0L108.9 141.0L110.2 140.6L112.8 140.7L112.0 141.2L114.1 141.6L116.0 141.4L118.6 142.0L121.5 142.2L122.4 142.5L125.1 142.2L126.8 142.8L128.1 143.1M110.8 178.1L110.5 177.2L109.5 176.4L110.9 174.3L110.2 172.3L111.3 170.0L109.7 169.8L106.7 169.8L105.2 169.1L103.9 166.6L102.5 166.1L100.2 165.3L97.4 165.5L95.0 164.4L93.9 163.4L91.3 163.9L89.9 165.5L88.7 165.7L86.0 166.2L83.5 167.0L80.9 167.5L82.2 166.1L85.6 163.7L88.4 163.0L88.5 162.4L84.7 163.7L81.7 165.3L77.1 167.0L77.2 168.2L73.6 169.9L70.4 171.0L67.7 171.7L66.1 172.8L61.8 174.0L60.0 175.2L56.6 176.2L55.5 176.1L53.0 176.8L50.1 177.6L47.6 178.4L43.6 179.1L43.7 178.7L47.1 177.5L49.8 176.8L53.3 175.4L55.9 175.2L58.0 174.1L62.2 172.7L63.1 172.2L65.5 171.3L67.8 169.5L70.4 168.1L67.4 168.8L67.2 168.4L65.2 169.3L65.4 168.0L63.9 168.9L64.6 167.7L61.6 168.7L60.5 168.7L62.0 167.2L63.3 166.4L63.2 165.5L60.2 166.0L60.0 164.8L59.4 164.3L61.1 162.9L60.9 161.9L63.3 160.6L66.5 159.2L68.6 158.0L70.3 157.9L71.0 158.2L73.9 157.1L75.0 157.3L77.2 156.6L78.2 155.5L77.8 155.1L80.2 154.2L79.1 154.2L76.6 154.7L75.4 155.2L74.7 154.7L71.8 155.0L70.0 154.4L70.5 153.5L70.1 152.2L73.8 151.2L79.2 150.1L80.6 150.1L78.8 151.3L82.6 151.2L83.1 149.8L82.2 148.9L82.5 147.8L82.2 146.8L80.9 146.1L83.5 145.0L86.6 144.9L90.1 143.9L92.1 142.8L95.3 141.8L97.3 141.5L101.8 140.6L103.1 140.7L107.3 139.6L109.1 140.0M73.2 172.4L70.3 173.4L70.0 172.8L70.9 171.6L73.6 170.7L75.0 170.4L76.1 170.5L76.0 171.3L73.2 172.4M57.3 165.7L55.7 166.1L55.0 165.6L54.7 165.0L57.0 164.6L58.2 164.8L57.3 165.7M57.8 156.5L58.3 157.0L59.7 156.8L60.4 157.4L61.7 157.7L61.2 157.9L59.2 158.4L58.5 157.9L58.4 157.5L56.7 157.6L56.5 157.4L57.8 156.5M9.5 270.5L9.1 270.9L8.6 270.6L8.9 269.8L8.7 268.9L8.9 268.6L9.4 268.1L9.3 267.7L9.5 267.4L9.7 267.4L10.5 267.9L10.8 268.1L11.1 268.5L11.5 269.4L11.4 269.5L10.4 270.1L9.5 270.5M9.3 266.4L8.5 266.6L8.2 266.1L8.0 265.8L8.3 265.5L9.0 265.7L9.5 266.1L9.3 266.4M6.0 264.8L5.8 264.7L5.0 264.7L4.9 264.1L4.8 264.0L5.5 263.6L5.7 263.8L6.1 264.6M2.7 262.9L2.4 263.2L1.7 262.7L2.3 262.2L2.8 262.3L2.7 262.9M8.1 265.0L7.9 265.3L6.7 265.2L7.0 264.9L8.1 265.0M298.8 117.9L304.0 117.0L308.7 117.1L310.7 116.5L315.6 116.4L326.3 116.6L334.4 117.8L331.7 118.4L326.4 118.4L318.9 118.6L319.4 118.9L324.4 118.7L328.4 119.2L331.3 118.8L332.2 119.3L330.4 120.3L334.1 119.7L341.1 119.0L345.2 119.4L345.9 120.1L339.8 121.3L339.0 121.7L334.3 122.0L337.6 122.1L335.6 123.4L334.1 124.6L333.6 126.7L335.1 127.9L332.7 128.0L330.1 128.7L332.7 129.7L332.6 131.4L330.9 131.6L332.6 133.4L329.0 133.5L330.7 134.4L330.0 135.1L327.7 135.4L325.5 135.4L327.2 136.9L327.0 137.8L324.0 136.9L323.0 137.5L325.1 138.0L326.9 139.3L327.2 141.1L324.1 141.5L323.1 140.6L321.3 139.4L321.5 140.9L319.4 142.0L323.7 142.1L326.0 142.2L321.1 144.1L316.1 145.9L311.0 146.6L309.1 146.7L307.1 147.5L304.1 149.9L299.9 151.5L298.6 151.6L296.1 152.1L293.5 152.7L291.5 154.1L291.0 155.7L289.6 157.2L286.0 159.1L286.2 161.0L284.7 162.9L283.0 165.2L280.4 165.4L278.4 163.4L274.7 163.4L273.4 162.1L273.0 159.8L271.1 156.9L270.8 155.4L271.4 153.3L269.9 151.2L271.3 149.5L270.5 148.7L273.4 146.1L276.3 145.3L277.4 144.4L278.5 142.7L276.2 143.4L275.2 143.8L273.5 144.1L271.8 143.4L272.4 141.9L273.6 140.7L275.2 140.7L278.3 141.3L276.1 139.9L275.0 139.2L273.2 139.5L272.2 138.9L275.0 136.9L274.5 136.2L274.0 134.7L273.5 132.5L272.0 131.7L272.6 130.9L269.3 129.7L266.2 129.5L262.0 129.6L258.2 129.8L256.9 129.1L255.3 127.9L259.8 127.3L262.9 127.2L257.0 126.7L254.3 125.9L255.2 125.2L261.6 124.3L267.7 123.4L268.9 122.7L265.6 122.1L267.5 121.4L273.4 120.2L275.6 120.0L275.7 119.3L279.4 118.9L283.8 118.6L288.1 118.6L289.2 119.1L293.6 118.2L296.4 118.8L298.3 118.9L300.9 119.5L298.1 118.6L298.8 117.9M145.1 252.7L143.8 255.0L143.1 256.9L142.3 260.4L141.9 261.7L142.1 263.1L142.6 264.4L142.7 266.4L143.9 268.4L144.3 269.9L145.0 271.2L147.3 271.9L148.1 273.0L150.2 272.2L151.9 272.0L153.7 271.5L155.2 271.0L156.8 270.0L157.6 268.4L158.0 266.2L158.5 265.5L160.1 264.8L162.6 264.2L164.6 264.3L166.0 264.1L166.5 264.6L166.2 265.9L164.8 267.4L164.1 269.0L164.4 269.5L163.9 270.6L163.1 272.6L162.6 272.0L162.2 272.0L161.7 272.0L160.7 273.6L160.3 273.3L160.0 273.4L160.0 273.8L157.9 273.8L155.8 273.8L155.6 275.3L154.6 275.3L155.3 276.2L156.1 276.8L156.2 277.3L156.6 277.5L156.4 278.4L153.5 278.4L152.2 280.5L152.4 281.0L152.1 281.6L151.9 282.4L149.7 279.6L148.6 278.7L146.8 278.0L145.5 278.2L143.6 279.2L142.4 279.5L140.9 278.8L139.2 278.3L137.2 277.1L135.6 276.7L133.2 275.5L131.4 274.2L130.9 273.5L129.7 273.4L127.5 272.6L126.7 271.4L124.5 269.9L123.6 268.2L123.3 267.0L124.1 266.7L124.0 266.0L124.6 265.3L124.7 264.4L124.2 263.2L124.2 262.2L123.6 260.9L122.1 258.2L120.2 256.2L119.4 254.6L117.7 253.5L117.5 252.9L118.2 251.3L117.2 250.6L116.2 249.4L116.1 247.5L114.9 247.3L114.0 245.9L113.3 244.7L113.5 243.9L112.8 241.9L112.7 239.9L113.0 238.9L111.8 237.8L111.0 238.0L110.0 237.2L109.3 238.3L109.2 239.6L108.8 241.5L109.3 242.6L110.4 244.4L110.6 245.0L110.9 245.2L110.9 246.1L111.3 246.1L111.3 247.8L111.8 248.4L112.0 249.3L113.1 250.7L113.3 253.1L113.7 254.3L114.1 255.5L113.9 256.9L115.0 256.9L115.7 258.1L116.3 259.3L116.1 259.8L115.0 260.7L114.6 260.7L114.3 259.1L113.1 257.6L111.7 256.4L110.7 255.7L111.2 253.8L111.2 252.4L110.3 251.6L109.1 250.4L108.7 250.7L108.3 250.1L107.0 249.4L106.1 247.9L106.4 247.7L107.2 247.9L108.3 246.9L108.7 245.7L107.6 243.8L106.5 243.1L106.2 241.5L105.9 239.7L105.6 237.7L105.5 235.3M156.6 284.5L155.5 284.0L154.1 284.0L153.1 283.4L151.9 282.4M160.0 273.8L159.7 275.9L159.2 278.8L159.9 278.8L160.6 279.3L160.8 278.9L161.4 279.3L160.3 280.3L159.1 281.0L158.9 281.5L159.0 282.0L158.5 282.7L157.9 282.8L158.0 283.2L157.6 283.4L156.7 284.1L156.6 284.5M162.2 272.0L162.1 272.4L162.5 272.4L162.4 273.1L161.9 274.3L162.0 274.7L161.7 275.6L161.8 275.8L161.4 277.2L160.9 277.9L160.4 278.0L159.9 278.8M161.8 285.4L161.5 286.0L160.2 286.0L159.4 285.7L158.5 285.2L157.2 285.0L156.6 284.5M158.5 282.7L159.2 282.9L159.6 283.4L160.2 283.8L160.3 284.2L161.3 283.9L161.8 284.1L162.1 284.3L161.8 285.4M162.8 286.5L162.5 285.6L161.8 285.4M161.4 279.3L161.7 279.4L162.2 278.9L162.9 278.9L163.1 279.1L163.4 278.9L164.5 279.2L165.5 279.1L166.3 278.8L166.6 278.5L167.3 278.7L167.9 278.8L168.5 278.8L168.9 278.6L169.9 278.9L170.3 279.0L170.9 279.5L171.5 280.1L172.3 280.5L172.8 281.2L172.1 281.1L171.7 281.5L170.9 281.8L170.3 281.8L169.8 282.2L169.3 282.0L169.0 281.6L168.7 281.7L168.4 282.3L168.2 282.3L168.1 282.9L167.2 283.6L166.7 283.9L166.5 284.2L165.9 283.7L165.3 284.4L164.8 284.4L164.3 284.4L164.2 285.7L163.9 285.7L163.5 286.3L162.8 286.5M166.1 291.4L165.4 290.6L164.4 289.5L163.9 288.7L163.0 287.8L162.0 286.6L162.3 286.2L162.6 286.6L162.8 286.5M172.8 281.2L172.6 281.4L172.5 282.0L172.6 283.0L172.0 283.9L171.6 284.9L171.5 286.1L171.5 286.7L171.5 287.9L171.1 288.2L170.8 289.3L170.9 290.0L170.4 290.7L170.5 291.4L170.8 291.8L170.2 292.3L169.5 292.2L169.2 291.6L168.5 291.4L167.9 291.8L166.5 291.1L166.1 291.4M172.0 298.9L170.8 298.3L170.3 297.8L170.6 297.3L170.6 296.7L169.9 296.1L169.1 295.6L168.3 295.2L168.2 294.5L167.6 294.0L167.7 294.8L167.2 295.4L166.7 294.7L166.0 294.4L165.7 293.9L165.8 293.1L166.2 292.3L165.5 291.9L166.1 291.4M170.8 291.8L171.3 293.2L172.1 294.3L173.1 295.4L172.2 295.6L172.2 296.7L172.6 297.0L172.3 297.4L172.3 297.8L172.1 298.4L172.0 298.9M183.6 301.5L182.8 300.8L182.4 299.3L183.0 298.6L182.4 298.5L182.0 297.6L180.9 296.9L179.9 297.0L179.4 298.0L178.4 298.6L177.9 298.7L177.7 299.2L178.7 300.7L178.1 301.0L177.7 301.4L176.6 301.5L176.3 299.9L176.0 300.4L175.2 300.2L174.8 299.2L173.9 299.0L173.3 298.7L172.3 298.7L172.2 299.3L172.0 298.9M173.1 295.4L173.9 296.3L173.8 296.9L174.7 297.0L175.0 296.8L175.6 297.4L176.7 297.2L177.7 296.6L179.2 296.1L180.0 295.3L181.2 295.4L181.1 295.7L182.4 295.8L183.4 296.2L184.1 297.0L185.0 297.7L184.7 298.1L185.1 299.6L184.7 300.4L183.9 300.2L183.6 301.5M177.4 259.8L179.3 259.9L181.1 260.0L183.1 260.9L183.9 261.8L186.0 261.5L186.8 262.1L188.5 263.8L189.7 264.9L190.5 264.9L191.8 265.4L191.5 266.2L193.2 266.3L194.8 267.4L194.4 268.0L192.9 268.3L191.4 268.4L189.8 268.2L186.5 268.5L188.2 267.0L187.4 266.3L185.9 266.2L185.3 265.4L184.9 263.9L183.6 264.0L181.6 263.3L181.0 262.8L178.1 262.4L177.3 261.8L178.3 261.2L176.1 261.1L174.3 262.4L173.3 262.5L172.9 263.1L171.8 263.4L170.8 263.1L172.1 262.3L172.8 261.4L173.8 260.8L175.1 260.3L176.8 260.0L177.4 259.8M200.2 268.9L200.5 268.4L202.3 268.4L203.6 269.1L204.2 269.0L204.5 270.0L205.8 269.9L205.6 270.7L206.6 270.8L207.6 271.7L206.7 272.8L205.7 272.2L204.6 272.3L203.9 272.2L203.4 272.7L202.5 272.9L202.2 272.2L201.4 272.6L200.4 274.4L199.8 274.0L199.8 273.2L199.9 272.5L199.4 271.7L200.0 271.3L200.3 270.3L200.2 268.9M186.6 272.0L188.1 272.3L189.2 272.9L189.5 273.6L187.9 273.7L187.1 274.1L185.9 273.7L184.7 272.7L185.1 272.2L186.0 272.0L186.6 272.0M212.2 272.0L213.4 272.2L213.7 272.7L213.1 273.4L211.4 273.4L210.1 273.5L210.0 272.4L210.4 272.0L212.2 272.0M188.3 258.3L187.7 258.4L187.4 256.9L186.6 256.1L187.3 254.5L188.0 254.6L188.5 256.7L188.3 258.3M188.7 250.9L186.2 251.3L186.2 250.3L187.3 250.1L188.8 250.2L188.7 250.9M190.6 250.9L189.9 252.7L189.5 252.4L189.8 251.0L189.0 250.0L189.0 249.7L190.6 250.9M221.3 292.3L222.6 291.9L223.1 292.0L222.9 294.0L221.0 294.2L220.6 294.0L221.3 293.3L221.3 292.3M188.9 320.8L187.9 320.2L186.8 319.3L186.1 319.7L184.2 319.4L183.6 318.2L183.2 318.3L180.9 316.8L180.6 316.0L181.4 315.8L181.4 314.5L181.9 313.5L183.1 313.3L184.1 311.7L185.0 310.3L184.2 309.7L184.6 308.2L184.2 305.8L184.7 305.1L184.4 302.9L183.6 301.5M185.0 297.7L186.1 297.8L187.9 296.0L188.9 295.7L189.0 294.8L189.5 292.6L190.9 291.4L192.4 291.4L192.6 290.8L194.4 291.0L196.3 289.7L197.2 289.1L198.4 287.9L199.2 288.0L199.7 288.7L199.3 289.6L197.8 290.0L197.1 291.3L196.2 292.1L195.4 293.1L195.0 294.9L194.3 296.5L195.5 296.6L195.7 297.8L196.2 298.4L196.4 299.5L196.1 300.4L196.1 301.0L196.7 301.2L197.2 302.1L200.2 301.9L201.5 302.2L203.0 304.4L204.0 304.2L205.6 304.3L206.9 304.0L207.7 304.4L207.3 305.9L206.8 306.7L206.5 308.6L206.9 310.4L207.6 311.1L207.6 311.7L206.4 313.0L207.3 313.6L207.9 314.5L208.5 317.1L208.1 317.4L207.7 315.9L207.0 315.1L206.2 316.0L201.7 315.9L201.8 317.5L203.1 317.8L203.0 318.8L202.6 318.5L201.3 319.0L201.3 320.9L202.3 321.8L202.7 323.3L202.6 324.5L201.7 331.6L200.5 330.3L199.8 330.2L201.3 327.5L199.5 326.3L198.1 326.5L197.3 326.1L196.0 326.8L194.3 326.4L192.9 323.7L191.8 323.0L191.0 321.8L189.5 320.6L188.9 320.8M199.3 289.6L199.1 290.2L197.8 290.5L198.5 291.7L198.4 293.1L197.3 294.6L198.0 296.7L199.0 296.5L199.6 294.6L199.0 293.7L199.0 291.7L201.9 290.6L201.7 289.4L202.5 288.6L203.2 290.4L204.8 290.5L206.2 291.9L206.3 292.8L208.3 292.8L210.8 292.5L212.0 293.7L213.8 294.0L215.1 293.2L215.2 292.6L218.0 292.4L220.8 292.4L218.8 293.2L219.5 294.4L221.4 294.6L223.1 295.9L223.3 298.0L224.5 297.9L225.4 298.5L223.5 300.1L223.3 301.0L224.1 302.0L223.5 302.5L222.0 302.9L222.1 304.1L221.4 304.8L222.9 306.8L223.2 307.5L222.3 308.5L219.7 309.5L218.1 309.9L217.4 310.5L215.6 309.9L213.9 309.5L213.4 309.8L214.4 310.5L214.3 312.2L214.6 313.9L216.6 314.1L216.7 314.6L215.0 315.4L214.7 316.5L213.8 316.9L212.1 317.5L211.6 318.3L209.8 318.5L208.5 317.1M225.4 298.5L226.9 299.5L228.3 301.2L228.3 302.5L229.2 302.6L230.4 303.9L231.2 304.8L230.8 307.1L229.4 307.8L229.5 308.4L229.1 309.8L230.0 311.7L230.8 311.7L231.0 313.2L232.4 315.4L231.9 315.5L230.6 315.3L229.8 316.0L228.8 316.5L228.0 316.6L227.8 317.1L226.7 316.9L225.2 315.7L225.1 314.5L224.5 313.2L224.9 311.0L225.6 310.0L225.1 308.8L224.3 308.4L224.6 307.3L224.1 306.7L222.9 306.8M231.2 304.8L234.0 305.3L234.3 304.8L236.1 304.6L238.6 305.3L237.3 307.6L237.5 309.4L238.3 310.9L237.9 312.1L237.7 313.3L237.1 314.4L235.8 313.8L234.7 314.1L233.8 313.8L233.5 314.6L233.9 315.1L233.7 315.6L232.4 315.4M177.6 329.3L178.8 327.4L178.3 326.2L177.4 327.4L176.0 326.3L176.5 325.6L176.1 323.2L176.9 322.8L177.3 321.1L178.2 319.5L178.0 318.4L179.3 317.8L180.9 316.8M188.9 320.8L189.2 322.8L188.5 324.5L186.0 327.2L183.3 328.2L181.9 330.5L181.6 332.3L180.3 333.4L179.3 332.0L178.3 331.8L177.4 332.0L177.3 331.0L177.9 330.4L177.6 329.3M204.5 366.4L204.0 367.7L202.9 368.4L200.4 366.9L200.2 365.8L195.4 363.2L191.0 360.3L189.1 358.7L188.0 356.5L188.3 355.8L186.1 352.4L183.5 347.5L181.0 342.3L180.0 341.1L179.2 339.2L177.4 337.5L175.7 336.5L176.4 335.3L175.2 332.8L175.8 331.0L177.6 329.3M201.7 331.6L199.6 331.5L199.3 331.9L197.5 332.4L194.9 334.2L194.8 335.4L194.2 336.3L194.5 337.7L193.1 338.5L193.2 339.6L192.6 340.1L193.6 342.4L195.0 344.0L194.5 345.1L196.1 345.3L197.0 346.7L199.1 346.8L200.9 345.2L200.9 349.2L202.0 349.5L203.3 349.0L205.5 353.2L205.1 354.1L205.1 356.0L205.2 358.2L204.4 359.5L204.9 360.5L204.5 361.4L205.6 363.6L204.5 366.4M220.9 378.0L218.3 377.9L217.7 380.0L216.1 378.1L213.1 377.5L211.5 379.9L209.9 380.2L208.6 376.6L207.1 373.7L207.6 371.2L206.2 370.0L205.8 368.2L204.5 366.4M203.3 349.0L205.0 349.3L206.2 349.2L206.6 348.4L208.6 347.4L209.7 346.4L212.7 345.9L212.6 347.9L212.9 348.9L212.8 350.7L215.5 353.0L218.0 353.4L219.0 354.4L220.6 354.9L221.6 355.7L223.0 355.7L224.4 356.4L224.6 357.9L225.1 358.7L225.2 359.8L224.6 359.9L225.7 362.9L230.1 363.0L229.8 364.5L230.2 365.6L231.5 366.3L232.1 367.9L231.9 370.0L231.4 371.1L231.7 372.6L231.1 373.2L231.0 372.4L228.7 371.0L226.6 371.0L222.7 371.7L221.8 374.0L221.9 375.4L221.3 378.6L220.9 378.0M243.8 309.5L244.6 309.4L246.4 315.4L247.6 315.8L247.6 317.7L246.6 320.6L250.7 321.0L250.8 323.6L252.5 321.9L255.4 322.9L259.3 324.5L260.4 326.0L260.1 327.4L262.7 326.6L267.3 328.0L270.7 327.9L274.1 330.1L277.1 333.0L278.9 333.8L280.9 333.9L281.7 334.7L282.6 338.0L283.0 339.6L282.2 343.9L281.0 345.6L277.9 349.3L276.5 352.2L274.9 354.5L274.4 354.6L273.8 356.5L274.2 361.4L273.7 365.4L273.6 367.1L272.9 368.2L272.7 371.7L270.6 375.1L270.4 377.8L268.7 378.9L268.2 380.5L265.8 380.5L262.3 381.5L260.8 382.6L258.4 383.4L255.9 385.5L254.2 388.1L254.1 390.0L254.6 391.5L254.5 394.1L254.1 395.4L252.8 396.8L250.9 401.4L249.3 403.5L248.0 404.7L247.4 407.2L246.2 408.7L245.3 407.2L246.1 406.0L244.5 404.2L242.6 402.8L240.0 401.1L239.2 401.2L236.7 399.1L235.3 399.4L237.7 395.8L239.9 393.3L241.3 392.2L243.0 390.8L242.8 388.7L241.5 387.2L240.4 387.7L240.7 386.2L240.9 384.7L240.7 383.2L239.9 382.7L239.1 383.2L238.2 383.1L237.8 382.0L237.4 379.7L236.9 378.9L235.3 378.2L234.5 378.7L232.0 378.2L231.9 374.6L231.1 373.2M237.1 314.4L238.1 314.9L238.8 314.2L239.3 314.3L239.6 315.0L240.7 314.9L241.6 313.9L242.4 311.9L243.8 309.5M240.4 387.7L240.3 390.0L238.5 392.0L236.8 392.4L234.3 392.1L231.9 391.3L233.6 387.3L233.2 386.2L230.8 385.2L227.8 383.2L225.9 382.9L221.3 378.6M246.2 408.7L245.5 410.4L243.3 411.8L241.6 411.3L240.5 411.6L238.3 410.4L236.8 410.5L235.2 409.1L235.1 407.4L235.4 406.8L235.0 404.2L235.1 401.5L235.3 399.4M235.2 409.1L235.3 410.4L238.5 412.7L238.6 414.5L240.2 415.6L240.3 416.9L239.0 420.2L236.1 421.6L231.9 422.2L229.5 421.9L230.3 423.5L230.4 425.4L231.2 426.7L230.1 427.6L228.1 428.0L225.8 427.0L225.1 427.7L226.2 430.3L227.8 431.1L228.7 430.3L229.7 431.6L228.0 432.4L226.9 434.0L227.3 436.6L227.3 438.0L225.3 438.0L224.2 439.3L224.2 441.2L226.8 443.1L229.0 443.6L229.0 445.9L227.1 447.4L226.9 450.3L225.5 451.3L225.1 452.5L226.8 455.1L228.7 456.6L227.8 456.4L225.8 456.0L220.9 455.7L219.5 454.3L218.7 452.4L217.5 452.5L216.4 451.6L215.1 448.9L216.2 447.8L216.3 446.2L215.5 444.9L215.8 442.7L215.4 439.3L214.6 437.8L215.4 437.3L214.8 436.4L213.7 435.9L214.0 434.8L212.7 433.8L211.2 430.8L211.9 430.3L210.5 427.1L210.3 424.5L210.2 422.2L211.2 421.2L209.8 418.7L209.2 416.3L210.4 414.6L209.8 412.4L210.5 409.8L209.9 407.4L209.3 406.9L207.3 402.4L208.1 399.7L207.4 397.2L207.8 394.8L208.9 392.4L210.2 390.7L209.4 389.7L209.7 388.9L209.1 384.5L211.4 383.2L211.8 380.5L211.5 379.9M228.1 457.3L229.3 458.4L231.1 460.3L234.2 461.8L237.2 462.4L236.9 463.7L235.1 463.8L233.7 462.9L232.5 462.8L230.5 462.8L228.1 457.3M227.8 456.4L226.1 456.4L225.4 457.0L224.0 457.9L224.7 460.3L223.9 460.3L221.3 459.5L218.3 457.8L215.2 456.3L213.9 454.8L213.8 453.3L212.1 451.6L210.0 447.3L209.9 444.8L211.3 442.9L208.0 442.1L209.1 439.8L208.3 435.6L210.9 436.5L210.1 431.1L208.5 430.5L209.0 433.7L207.5 433.3L206.9 429.6L206.1 424.8L206.5 423.0L205.2 420.5L204.2 417.6L205.1 417.5L205.3 413.3L205.8 409.1L205.9 405.2L204.5 401.3L204.8 399.1L203.9 395.9L204.7 392.7L204.3 387.6L204.3 382.2L204.4 376.3L203.8 372.1L202.9 368.4M233.7 462.9L233.5 463.9L232.2 464.7L231.2 464.6L230.0 464.4L228.3 463.7L226.1 463.3L223.0 461.9L220.4 460.6L216.4 457.8L218.3 458.3L221.8 460.0L224.8 460.9L225.3 459.7L225.2 458.0L226.5 457.0L228.1 457.3M691.8 356.4L692.3 358.5L694.0 357.5L694.5 358.6L695.5 359.6L695.0 360.8L695.1 363.0L695.2 364.3L695.7 364.6L695.9 366.8L695.4 368.2L695.7 370.0L697.9 371.3L699.2 372.6L700.5 373.7L700.1 374.4L701.0 376.0L701.2 378.8L702.3 378.2L702.9 379.4L703.6 379.0L703.3 381.8L704.4 383.4L705.2 384.4L706.4 386.5L706.4 388.6L705.9 390.1L705.2 391.7L705.5 393.9L704.5 396.2L703.6 397.4L702.1 399.8L701.5 401.3L700.2 403.1L698.1 405.5L695.9 406.8L694.1 408.8L692.8 410.1L691.0 412.4L689.5 413.7L687.9 415.6L686.6 417.4L686.3 418.3L684.5 419.2L682.1 419.3L679.5 420.3L677.9 421.3L676.0 422.5L674.9 421.3L673.8 420.9L674.9 419.5L673.5 420.0L670.5 421.9L669.1 421.2L668.1 420.7L667.0 420.6L665.3 419.8L664.7 418.2L665.4 416.2L666.0 413.8L665.0 413.8L663.0 413.5L664.3 412.3L664.7 410.3L662.8 412.1L660.7 412.6L662.4 411.2L663.5 409.7L664.9 408.4L665.6 406.4L662.8 408.7L661.0 409.6L659.3 411.6L658.1 410.6L658.7 409.2L658.2 407.3L657.4 406.3L658.1 405.7L655.9 404.1L654.4 404.0L652.8 402.8L648.8 403.0L645.5 404.0L642.7 404.8L640.7 404.7L637.8 406.0L635.7 406.6L634.7 408.0L633.5 409.0L631.6 409.1L630.1 409.3L628.4 408.8L626.7 409.1L625.1 409.3L623.3 410.7L622.7 410.5L621.3 411.3L619.9 412.1L618.4 412.0L616.9 412.0L615.3 410.3L614.3 409.8L614.9 408.3L616.1 408.0L616.7 407.4L617.0 406.4L617.9 404.6L618.2 403.1L617.9 400.4L618.0 398.9L618.5 397.4L618.2 395.7L618.3 395.0L617.6 393.9L617.9 391.9L617.1 389.8L617.1 388.7L617.8 389.8L617.6 387.4L618.6 388.2L619.0 389.2L619.3 387.8L618.6 385.8L618.6 384.9L618.2 384.2L618.7 382.7L619.3 382.0L619.9 380.7L619.9 379.2L621.2 377.3L621.0 379.3L622.3 377.5L624.3 376.6L625.6 375.5L627.5 374.5L628.6 374.3L629.1 374.7L631.1 373.7L632.5 373.4L633.0 372.8L633.6 372.6L634.8 372.7L637.4 371.9L638.8 370.7L639.6 369.3L641.2 368.0L641.5 366.9L641.8 365.5L643.7 363.3L644.3 365.6L645.4 365.0L644.8 363.8L645.7 362.5L646.6 363.1L647.2 361.1L648.7 359.8L649.4 358.8L650.6 358.3L650.7 357.6L651.7 357.9L651.8 357.3L652.9 356.9L654.0 356.5L655.5 357.7L656.6 359.3L658.0 359.3L659.4 359.5L659.2 358.1L660.6 356.0L661.7 355.3L661.4 354.7L662.6 353.2L664.1 352.3L665.3 352.6L667.2 352.1L667.4 350.7L665.8 349.9L667.0 349.5L668.5 350.2L669.6 351.2L671.4 351.9L672.1 351.6L673.4 352.4L674.9 351.7L675.7 351.9L676.3 351.4L677.2 352.7L676.4 354.1L675.4 355.2L674.6 355.2L674.7 356.3L673.8 357.6L672.8 358.9L672.9 359.6L674.5 361.1L676.1 361.9L677.1 362.8L678.4 364.4L679.1 364.4L680.2 365.0L680.3 365.8L682.4 366.7L684.0 365.8L684.7 364.4L685.4 363.3L686.0 361.8L687.0 359.7L686.9 358.5L687.2 357.7L687.2 356.2L687.8 354.2L688.3 353.7L688.1 352.9L688.8 351.5L689.4 350.0L689.5 349.3L690.5 348.3L691.0 349.6L691.0 351.2L691.5 351.5L691.5 352.6L692.1 354.0L692.1 355.4L691.8 356.4M671.3 427.0L672.7 427.9L674.1 427.6L676.1 427.1L677.3 427.2L675.4 430.3L674.1 431.2L672.4 433.3L672.2 432.6L669.5 434.4L669.2 434.2L668.0 434.2L668.2 431.9L669.0 430.2L669.2 428.0L670.0 426.8L671.3 427.0M729.6 427.4L729.3 428.4L731.6 427.4L731.3 428.5L730.5 429.6L728.8 430.7L725.9 432.7L724.0 433.7L723.8 434.9L722.1 435.0L719.5 435.9L717.6 437.6L714.3 440.2L711.7 441.4L710.1 442.1L708.2 442.0L707.6 441.2L705.5 441.0L705.9 440.1L708.6 438.2L713.2 435.6L715.0 435.2L717.2 434.2L720.1 432.8L722.4 431.5L724.9 429.6L726.2 428.9L727.6 427.5L729.9 426.2L729.6 427.4M741.4 415.0L741.3 417.7L742.4 415.9L743.0 416.6L742.0 418.6L743.2 419.4L744.5 419.7L746.4 418.7L747.3 419.0L745.2 421.3L743.4 422.8L741.9 422.8L740.7 423.5L740.1 424.7L739.4 425.1L737.6 426.5L735.2 428.3L732.8 429.3L732.9 428.7L732.3 428.3L735.2 426.2L735.5 424.7L734.0 423.7L734.7 422.8L736.8 421.8L738.6 419.8L739.6 418.1L739.8 416.4L740.2 415.9L739.8 414.9L739.5 412.6L739.7 410.7L740.6 410.5L740.9 412.0L742.2 412.6L741.4 415.0M769.5 365.7L770.1 366.5L769.4 367.9L767.9 368.2L766.7 367.9L766.8 366.7L767.9 365.9L768.8 366.2L769.5 365.7M772.1 364.3L770.5 364.9L770.5 363.9L771.7 363.4L772.5 363.2L774.0 362.4L773.7 363.7L772.1 364.3M746.0 363.5L745.2 363.8L744.7 362.7L744.9 362.0L746.0 363.5M745.2 359.4L745.1 361.6L744.6 361.2L744.1 361.4L743.9 360.6L744.3 358.7L745.2 359.4M746.2 366.4L746.8 366.7L746.2 367.2L746.2 366.4M747.7 369.3L747.8 370.0L747.2 369.7L747.7 369.3M-0.7 315.2L-0.0 315.3L-0.3 316.0L-0.7 315.2M308.4 280.9L309.1 280.3L309.7 280.9L309.0 281.5L308.4 280.9M305.3 275.9L305.8 275.5L306.3 275.9L305.8 276.4L305.3 275.9M310.3 278.3L310.7 277.9L311.1 278.3L310.7 278.7L310.3 278.3M377.7 319.7L378.2 319.3L378.8 319.7L378.2 320.2L377.7 319.7M462.0 350.9L462.5 350.4L463.0 350.9L462.5 351.3L462.0 350.9M464.4 352.3L464.9 351.9L465.3 352.3L464.9 352.7L464.4 352.3M490.6 332.6L491.1 332.2L491.5 332.6L491.0 333.0L490.6 332.6M493.0 373.4L493.6 372.8L494.1 373.4L493.5 373.9L493.0 373.4M488.1 375.6L488.7 375.1L489.3 375.6L488.6 376.1L488.1 375.6M532.1 308.4L532.3 308.1L532.6 308.4L532.4 308.6L532.1 308.4M532.1 311.0L532.4 310.7L532.7 311.0L532.4 311.2L532.1 311.0M221.9 277.9L222.5 277.4L223.1 277.9L222.5 278.4L221.9 277.9M222.3 280.1L222.8 279.7L223.2 280.1L222.7 280.5L222.3 280.1M222.9 282.1L223.5 281.6L223.9 282.1L223.4 282.5L222.9 282.1M222.9 284.0L223.4 283.7L223.8 284.0L223.3 284.4L222.9 284.0M222.4 285.7L222.8 285.4L223.1 285.7L222.7 286.1L222.4 285.7M226.1 286.0L226.5 285.6L226.9 286.0L226.5 286.4L226.1 286.0M221.0 288.8L221.4 288.4L221.8 288.8L221.4 289.1L221.0 288.8M221.7 275.8L222.1 275.4L222.5 275.8L222.1 276.2L221.7 275.8M727.1 302.4L727.5 301.9L728.1 302.4L727.6 302.8L727.1 302.4M756.8 301.8L757.2 301.4L757.7 301.8L757.3 302.2L756.8 301.8M672.4 301.0L672.8 300.7L673.3 301.0L672.9 301.4L672.4 301.0M762.1 316.7L762.6 316.3L763.0 316.7L762.6 317.1L762.1 316.7M775.1 342.6L775.6 342.2L776.0 342.6L775.5 343.0L775.1 342.6M333.6 248.0L332.2 250.8L330.6 251.8L329.7 254.8L329.0 256.3L328.3 256.7L327.0 258.4L326.1 260.2L326.3 261.1L325.5 262.4L324.6 263.2L324.5 264.4L324.4 265.5L324.6 264.6L333.6 264.6L333.4 260.9L334.0 259.5L335.9 259.2L336.1 252.4L343.6 252.4L343.6 248.0M238.6 305.3L241.0 306.3L243.4 308.4L243.8 309.5M738.4 375.5L739.9 377.1L740.7 378.4L739.7 379.0L738.7 378.3L737.3 377.1L736.2 375.7L735.2 373.9L735.1 373.0L736.1 373.0L737.1 373.9L737.9 374.8L738.4 375.5M335.2 282.2L333.7 280.4L332.3 278.5L330.8 277.8L329.7 277.0L328.5 277.0L327.3 277.6L326.2 277.4L325.4 278.2L325.2 276.8L325.9 275.5L326.2 273.0L326.1 270.5L325.8 269.2L326.1 267.9L325.5 266.6L324.4 265.5M343.6 252.4L343.6 249.0M351.9 255.1L348.5 255.1L349.5 266.4L350.5 277.7L350.9 278.0L350.3 279.9L341.2 279.9L340.8 280.5L339.9 280.3L338.6 280.8L337.1 280.1L336.3 280.2L335.9 281.7L335.2 282.2M328.2 291.5L327.0 290.4L326.1 290.3L325.6 289.5L325.6 289.1L324.9 288.6L324.7 288.0L326.0 287.6L326.7 287.7L327.3 287.4L331.6 287.5L331.5 288.4L331.3 288.7L331.5 289.5L331.1 289.9L330.6 289.9L330.0 290.3L329.3 290.2L328.2 291.5M388.6 330.8L386.2 328.2L384.7 326.0L383.3 323.3L383.4 322.4L383.9 321.6L384.5 319.7L384.9 317.8L385.7 317.6L389.1 317.6L389.0 314.5L390.1 314.3L391.5 314.7L392.9 314.3L393.2 314.5L393.0 315.6L393.7 317.0L395.4 316.7L396.0 317.3L395.0 320.3L396.1 321.8L396.3 323.9L396.0 325.6L395.3 326.9L393.3 326.8L392.1 325.5L391.9 326.7L390.3 327.0L389.5 327.6L390.4 329.4L388.6 330.8M420.5 366.8L423.1 367.1L423.8 367.4L424.6 367.3L425.9 365.6L428.0 363.5L428.8 363.3L429.1 362.3L430.4 361.3L432.2 361.0L432.3 361.9L434.2 361.9L435.2 362.4L435.7 363.1L436.8 363.3L437.9 364.1L437.8 367.4L437.2 369.2L437.1 371.2L437.4 372.0L437.1 373.5L436.7 373.7L436.0 375.6L433.5 378.6M433.3 323.4L434.2 324.8L434.0 326.4L433.4 326.7L432.1 326.5L431.4 328.0L430.0 327.8L430.2 326.4L430.5 326.2L430.6 324.6L431.3 323.9L431.9 324.2L433.3 323.4M460.1 287.6L459.3 286.7L458.3 285.2L457.3 284.4L456.6 283.5L454.6 282.4L453.0 282.4L452.4 281.9L451.1 282.5L449.7 281.3L449.1 283.2L446.4 282.7L446.1 281.6L446.9 277.8L447.0 276.0L447.7 275.3L449.4 274.8L450.4 273.3L451.9 276.4L452.7 278.8L454.0 280.0L457.2 282.5L458.6 284.0L459.9 285.5L460.6 286.4L461.8 287.2M572.5 262.8L572.7 264.6L571.9 264.2L572.3 266.3L571.5 265.0L571.2 263.7L570.6 262.4L569.4 260.9L567.3 260.7L567.7 261.8L567.2 263.3L566.1 262.8L565.9 263.2L565.2 262.9L564.3 262.7L563.6 260.6L562.6 258.6L562.7 257.0L561.2 256.3L561.5 255.4L562.8 254.4L560.9 253.0L561.4 251.2L563.4 252.4L564.5 252.5L565.0 254.3L567.2 254.7L569.3 254.6L570.6 255.1L570.0 257.3L569.0 257.5L568.5 258.9L570.0 260.3L570.1 258.6L570.7 258.6L572.5 262.8M589.6 294.4L589.3 292.5L589.8 290.5L588.9 288.9L588.8 286.1L587.7 284.7L586.7 281.6L585.9 278.3L584.6 276.1L583.3 277.4L580.9 279.3L579.6 279.1L578.1 278.5L578.4 275.2L577.6 272.8L575.5 269.7L575.6 268.8L574.2 268.5L572.3 266.3M572.5 262.8L573.6 262.1L573.1 261.0L573.5 260.1L573.2 257.4L575.0 258.0L575.7 255.9L575.6 254.6L576.4 252.4L576.0 250.9L578.5 249.1L580.2 249.6L579.7 248.0L580.4 247.5L580.0 246.5M607.0 335.7L604.4 335.8L602.6 333.6L599.7 331.4L598.8 329.8L597.1 327.7L596.0 325.8L594.3 322.1L592.3 319.9L591.6 317.7L590.7 315.6L588.6 314.0L587.3 311.7L585.5 310.3L583.0 307.4L582.8 306.1L584.3 306.2L587.8 306.7L590.0 309.2L591.8 311.0L593.1 312.1L595.4 314.9L597.8 315.0L599.7 316.7L601.1 318.9L602.9 320.1L601.9 322.3L603.2 323.2L604.1 323.2L604.4 325.1L605.2 326.5L606.9 326.8L608.0 328.4L607.3 331.7L607.0 335.7M613.3 338.1L617.7 338.4L618.3 337.3L622.5 338.6L623.2 340.2L626.7 340.7L629.4 342.3L626.7 343.3L624.2 342.2L622.1 342.3L619.8 342.1L617.6 341.6L615.0 340.6L613.4 340.4L612.4 340.7L608.2 339.6L607.9 338.5L605.8 338.3L607.5 335.8L610.3 336.0L612.1 337.0L613.1 337.2L613.3 338.1M635.0 309.6L633.8 312.0L635.6 314.4L635.2 315.6L637.9 318.0L635.1 318.4L634.4 320.1L634.5 322.5L632.2 324.3L632.1 326.9L631.1 330.9L630.7 330.0L628.1 331.1L627.2 329.6L625.6 329.4L624.5 328.6L621.7 329.5L620.9 328.2L619.4 328.4L617.5 328.1L617.2 324.6L616.1 323.8L615.0 321.6L614.7 319.3L614.9 316.9L616.2 315.1M652.3 316.7L650.5 319.3L648.7 319.8L646.5 319.3L642.6 319.4L640.6 319.8L640.3 321.8L642.3 324.1L643.6 322.9L647.9 322.0L647.7 323.2L646.7 322.8L645.7 324.4L643.6 325.4L645.7 328.7L645.2 329.6L647.2 332.6L647.1 334.4L645.8 335.1L644.9 334.2L646.2 332.1L643.8 333.1L643.3 332.4L643.7 331.4L642.1 329.8L642.3 327.3L640.8 328.1L640.8 331.1L640.7 334.9L639.3 335.2L638.3 334.5L639.1 332.1L638.8 329.5L637.9 329.5L637.2 327.7L638.2 326.0L638.6 323.9L639.8 320.0L640.3 318.9L642.2 317.0L644.0 317.8L647.0 318.1L649.6 318.0L651.9 316.1L652.3 316.7M672.8 323.4L673.4 327.6L675.7 329.2L677.7 326.4L680.4 324.8L682.5 324.8L684.4 325.8L686.1 326.7L688.6 327.2L688.2 335.7L687.5 344.3L685.7 342.1L683.4 341.6L682.7 342.3L679.8 342.4L681.0 340.3L682.5 339.5L682.1 336.7L681.1 334.5L676.8 332.3L674.9 332.1L671.5 329.7L670.8 330.9L669.9 331.1L669.4 330.2L669.4 329.1L667.7 327.8L670.3 326.8L671.9 326.9L671.7 326.2L668.4 326.2L667.5 324.6L665.4 324.1L664.5 322.9L667.6 322.2L668.8 321.4L672.5 322.4L672.8 323.4M647.1 347.5L646.8 347.2L647.1 346.3L648.2 344.7L650.6 343.6M650.8 345.0L649.1 346.9L647.1 347.5M639.0 343.4L641.0 341.9L642.3 342.7L643.9 342.5L646.0 341.6L645.6 343.0L642.0 343.8L639.0 343.4M631.6 344.0L632.5 342.5L633.8 342.5L634.6 341.6L635.3 342.3L636.7 342.1L637.2 343.2L634.5 343.7L632.9 344.0L631.6 344.0M636.7 345.4L638.8 344.9L640.0 345.7L640.7 346.5L640.5 347.2L639.6 347.2L636.7 345.4M658.4 314.7L658.6 316.1L660.0 316.4L660.2 317.4L660.2 319.7L659.0 319.5L658.6 321.1L659.5 322.4L658.9 322.8L658.0 321.1L657.3 317.8L657.7 315.7L658.4 314.7M661.7 327.7L664.2 328.5L664.9 330.5L663.1 329.4L661.2 329.2L659.8 329.4L658.2 329.3L658.9 327.8L661.7 327.7M655.8 330.3L654.2 329.8L653.9 328.7L656.2 328.6L656.7 329.4L655.8 330.3M629.2 342.1L628.3 341.5L626.6 341.7L626.8 342.4L627.9 343.5L629.2 342.1M630.2 342.4L631.0 341.8L631.8 342.4L631.1 343.7L630.0 343.5L630.2 342.4M672.4 335.6L673.6 335.0L673.4 337.9L672.3 338.4L672.1 336.6L672.4 335.6M196.9 268.3L198.3 268.4L200.2 268.9M199.8 273.2L198.3 272.8L197.2 272.9L195.9 272.8L194.7 273.2L193.6 272.4L193.9 271.6L195.9 271.9L197.6 272.2L198.5 271.6L197.6 270.5L197.7 269.5L196.3 269.0L196.9 268.3M735.6 347.8L736.1 348.7L734.5 348.7L733.9 347.1L735.2 347.7L735.6 347.8M732.9 346.2L732.0 346.3L730.6 346.0L730.2 345.6L730.4 344.6L731.9 345.0L732.6 345.5L732.9 346.2M734.9 345.5L734.5 346.0L733.0 343.7L732.7 342.2L733.5 342.2L734.1 344.3L734.9 345.5M731.1 342.2L731.1 342.7L729.4 341.6L728.3 340.7L727.5 339.8L727.8 339.5L728.8 340.2L730.6 341.4L731.1 342.2M725.9 339.6L725.5 339.8L724.5 339.2L723.6 338.1L723.8 337.7L725.1 338.8L725.9 339.6M324.4 286.0L324.7 284.9L327.2 284.8L327.7 284.2L328.5 284.1L329.3 284.8L330.1 284.8L330.8 284.3L331.3 285.1L330.3 285.7L329.3 285.6L328.3 285.1L327.5 285.7L327.0 285.7L326.5 286.1L324.4 286.0M367.3 304.3L365.4 304.9L364.9 304.0L364.3 302.3L364.1 301.0L364.6 298.7L364.1 297.7L363.9 295.6L363.9 293.8L362.9 292.4L363.0 291.6L365.1 291.6L364.8 293.0L365.5 293.8L366.3 294.7L366.4 296.0L366.8 296.5L366.7 302.5L367.3 304.3M385.3 314.4L389.0 314.5M384.9 317.8L384.5 317.4L385.3 314.4M393.0 332.9L392.1 332.0L391.4 332.5L390.5 333.6L388.6 330.8M393.2 314.5L396.1 314.6L398.0 315.3L399.8 315.9L400.0 314.5L401.2 312.0L402.5 310.6L404.1 311.1L405.6 311.2L405.5 312.8L404.8 314.2L404.3 315.8L404.0 318.2L404.2 319.6L403.8 320.6L403.7 321.5L403.5 322.3L402.0 323.6L400.9 325.0L399.9 327.5L400.0 329.7L399.4 330.5L398.0 331.7L396.6 333.4L395.8 332.9L395.6 332.2L394.4 332.2L393.6 333.2L393.0 332.9M459.1 324.8L457.7 322.6L457.6 313.1L459.6 310.1L460.2 309.3L461.7 309.3L463.7 307.4L466.7 307.3L473.1 299.5L471.1 299.5L463.5 296.4L462.6 295.5L461.7 294.2L460.8 292.8L461.3 291.8M462.1 290.4L462.8 290.9L463.3 292.0L464.4 293.1L465.5 293.1L467.7 292.4L470.2 292.1L472.2 291.3L473.3 291.1L474.1 290.6L475.4 290.6L476.1 290.5L477.2 290.1L478.4 289.9L479.4 289.0L480.3 289.0L480.4 289.7L480.2 291.2L480.3 292.6L479.8 293.5L479.3 296.3L478.3 299.3L477.0 302.6L475.1 306.4L473.2 309.4L470.5 312.9L468.2 315.0L464.8 317.7L462.7 319.6L460.1 322.8L459.6 324.2L459.1 324.8M441.1 295.7L440.8 295.6L440.8 294.3L440.5 293.4L439.3 292.4L439.0 290.5L439.2 288.5L438.1 288.4L438.0 289.0L436.6 289.1L437.2 289.9L437.4 291.4L436.2 292.9L435.1 294.7L433.9 295.0L432.0 293.5L431.1 294.0L430.9 294.8L429.7 295.3L429.6 295.8L427.3 295.8L427.0 295.3L425.4 295.2L424.5 295.6L423.9 295.4L422.7 293.9L422.3 293.2L420.6 293.5L420.0 294.7L419.5 297.1L418.7 297.6L418.0 297.9L417.8 297.7L417.0 297.0L416.8 296.2L417.2 295.1L417.1 294.0L415.8 292.4L415.5 291.3L415.5 290.6L414.7 289.9L414.6 288.3L414.1 287.3L413.3 287.5L413.5 286.5L414.1 285.4L413.8 284.3L414.5 283.6L414.0 282.9L414.6 281.3L415.6 279.4L417.6 279.6L417.1 269.2M446.4 262.9L447.2 265.4L446.8 265.9L447.2 268.6L448.2 271.7L449.1 272.4L450.4 273.3M446.4 282.7L446.1 284.9L445.3 287.5L443.9 288.8L443.0 290.8L442.8 291.9L441.7 292.6L441.1 295.3L441.1 295.7M688.6 327.2L692.5 329.0L696.7 330.5L698.2 331.8L699.4 333.2L699.7 334.7L703.4 336.3L703.9 337.7L701.7 338.0L702.1 339.7L704.0 341.4L705.2 344.2L706.6 344.1L706.4 345.3L708.1 345.7L707.3 346.2L709.7 347.3L709.3 348.1L707.8 348.3L707.3 347.6L705.3 347.3L703.1 346.9L701.5 345.2L700.3 343.8L699.3 341.5L696.4 340.4L694.4 341.1L692.9 342.0L693.0 343.9L691.1 344.8L689.9 344.4L687.5 344.3M715.3 330.0L716.1 330.8L716.3 332.2L715.6 332.9L715.2 331.3L714.8 330.3L713.7 329.4L712.5 328.4L710.9 327.6L711.5 326.9L712.7 327.7L713.5 328.2L714.4 328.9L715.3 330.0M711.9 335.7L710.6 336.3L709.3 336.9L708.1 336.9L706.3 336.2L705.0 335.4L705.2 334.6L707.3 335.0L708.6 334.8L709.0 333.6L709.3 333.5L709.5 334.9L710.8 334.7L711.5 333.8L712.9 332.8L712.7 331.3L714.1 331.3L714.5 331.7L714.4 333.1L713.5 334.7L712.3 334.9L711.9 335.7M719.9 334.4L720.6 335.0L721.6 336.6L722.6 337.5L722.2 338.2L721.6 338.5L720.7 337.5L719.8 335.8L719.4 333.8L719.7 333.6L719.9 334.4M324.7 284.9L323.8 282.8L322.7 281.9L323.7 281.4L324.8 279.6L325.4 278.2M335.2 282.2L335.2 283.8L335.7 285.3L336.5 286.0L336.7 287.1L336.6 287.9L336.3 288.0L335.0 287.8L334.8 288.1L334.3 288.2L332.7 287.5L331.6 287.5M324.7 288.0L324.4 286.0M343.6 300.3L342.9 300.2L342.4 301.3L341.8 301.3L341.3 300.7L341.5 299.7L340.5 298.1L339.9 298.4L339.4 298.4L338.8 298.6L338.9 297.6L338.5 296.9L338.6 296.2L338.1 295.1L337.4 294.1L335.6 294.1L335.1 294.6L334.4 294.6L334.0 295.2L333.8 296.0L332.5 297.1L331.5 295.6L330.6 294.5L330.1 294.2L329.5 293.7L329.2 292.5L328.9 291.9L328.2 291.5M336.6 287.9L336.7 288.8L337.1 288.8L337.7 288.5L338.1 288.5L338.7 289.2L339.7 289.4L340.3 288.9L341.0 288.5L341.6 288.2L342.1 288.2L342.6 288.8L342.8 289.5L343.8 290.6L343.3 291.3L343.2 292.1L343.7 291.9L344.0 292.2L343.8 293.0L344.5 293.7L344.1 293.9L343.9 294.8L344.4 295.9L345.0 298.0L344.1 298.3L343.9 298.6L344.1 299.2L343.9 300.3L343.6 300.3M345.2 309.0L344.6 309.0L342.2 307.8L340.1 305.8L338.2 304.3L336.6 302.6L337.2 301.8L337.3 301.0L338.4 299.6L339.4 298.4M343.6 300.3L343.4 301.0L343.7 302.3L343.2 303.5L343.8 304.2L344.6 304.4L345.5 305.5L345.6 306.5L345.4 306.8L345.2 309.0M396.2 286.8L396.5 285.5L395.0 285.5L395.0 283.8L394.0 282.8L394.9 279.4L397.8 276.9L397.8 273.5L398.6 268.2L399.1 267.1L398.1 266.2L398.0 265.4L397.2 264.7L396.5 260.6M415.5 291.3L414.1 291.7L412.9 292.8L411.3 295.6L409.2 296.8L406.9 296.7L406.3 296.9L406.5 297.8L405.3 298.7L404.4 299.8L401.5 300.8L400.9 300.2L400.5 300.1L400.1 300.8L398.2 301.0L398.6 300.3L397.8 298.5L397.5 297.4L396.5 296.9L395.1 295.4L395.6 294.2L396.6 294.5L397.3 294.3L398.6 294.3L397.3 291.9L397.3 290.2L397.2 288.4L396.2 286.8M417.8 297.7L419.6 298.9L420.8 299.9L420.9 300.8L422.5 302.1L423.4 303.3L424.0 304.8L425.7 305.9L426.1 306.7L425.4 307.0L423.9 306.9L422.2 306.6L421.3 306.9L421.0 307.5L420.2 307.6L419.3 307.0L416.8 308.3L415.7 308.1L415.4 308.3L414.7 309.9L413.0 309.4L411.3 309.1L409.8 308.1L407.9 307.2L406.7 308.1L405.8 309.4L405.6 311.2M400.0 314.5L399.7 313.7L399.6 312.5L398.6 311.7L397.7 310.3L397.5 309.4L396.4 308.0L396.6 307.2L396.3 306.1L396.5 304.1L397.1 303.6L398.2 301.0M438.4 344.5L439.4 345.7L440.0 347.9L439.6 348.6L439.0 350.8L439.4 352.9L438.7 353.8L437.9 356.3L439.1 356.9L432.0 359.1L432.2 361.0M415.9 366.2L414.4 364.6L413.0 362.5L413.3 354.1L418.1 354.2L417.9 353.3L418.3 352.3L417.9 351.0L418.2 349.8L417.9 349.0L418.7 349.0L418.8 349.8L419.9 349.8L421.4 350.0L422.1 351.2L423.9 351.6L425.4 350.8L425.9 352.1L427.6 352.5L428.4 353.6L429.3 355.1L431.1 355.1L431.0 352.3L430.3 352.7L428.7 351.7L428.1 351.2L428.5 348.6L428.9 345.5L428.5 344.4L429.1 342.7L429.8 342.4L432.9 341.9L433.8 342.2L434.7 342.9L435.6 343.3L437.1 343.8L438.4 344.5M442.4 350.5L441.7 352.5L442.2 355.9L443.0 355.9L443.8 356.7L444.7 358.6L444.7 362.0L443.7 362.5L442.9 364.3L441.5 362.7L441.4 360.9L441.9 359.7L441.8 358.6L441.0 358.0L440.3 358.2L439.1 356.9M438.4 344.5L440.6 345.0L441.1 345.7L441.8 347.0L442.4 350.5M476.6 353.0L477.2 354.1L477.7 355.9L477.9 359.0L478.4 360.2L478.1 361.5L477.6 362.2L477.0 360.7L476.5 361.5L476.8 363.4L476.5 364.5L475.8 365.1L475.6 367.3L474.4 370.4L473.1 374.0L471.3 379.0L470.1 382.6L468.9 385.6L467.0 386.2L464.9 387.3L463.7 386.7L462.0 385.8L461.5 384.4L461.5 382.0L460.9 380.0L460.8 378.1L461.3 376.2L462.4 375.7L462.5 374.9L463.7 372.9L464.0 371.2L463.5 370.0L463.2 368.3L463.2 365.9L464.1 364.5L464.5 362.8L465.6 362.7L466.9 362.2L467.8 361.7L468.8 361.7L470.2 360.2L472.2 358.6L472.9 357.2L472.7 356.1L473.6 356.4L475.0 354.6L475.1 353.1L475.9 351.9L476.6 353.0M459.1 324.8L457.4 325.8L456.8 326.9L456.0 327.1L455.6 329.0L454.9 330.0L454.4 331.8L453.4 332.6L450.2 330.0L450.0 328.5L441.7 323.2L441.3 322.9L441.3 320.1L442.0 319.0L443.1 317.3L443.9 315.4L442.9 312.4L442.6 311.1L441.5 309.3L442.9 307.7L444.4 306.0L445.6 306.4L445.6 307.9L446.4 308.8L448.0 308.8L451.0 311.0L451.7 311.0L452.3 310.9L452.8 311.2L454.3 311.5L455.0 310.4L457.1 309.3L458.0 310.1L459.6 310.1M441.1 295.7L441.2 297.7L440.9 298.5L439.6 298.6L438.9 300.1L440.3 300.2L441.5 301.5L441.9 302.5L443.0 303.2L444.4 306.0M441.5 309.3L440.1 310.5L438.4 310.5L436.6 311.1L435.1 310.5L434.2 311.2L432.1 309.5L431.6 308.4L430.3 308.9L429.2 308.7L428.6 309.2L427.6 308.9L426.1 306.7M419.6 298.9L418.0 297.9M532.2 227.6L530.6 229.8L528.3 230.2L524.8 229.5L524.0 230.6L525.4 232.9L526.5 234.7L528.6 236.0L527.1 237.5L527.5 239.4L525.9 242.0L525.0 244.7L523.2 247.4L520.5 247.2L518.5 249.9L520.2 251.1L520.7 253.1L522.1 254.4L522.9 256.7L517.9 256.7L516.7 258.4L514.9 257.8L514.0 255.9L512.0 253.9L508.0 254.4L504.3 254.4L501.2 254.8M484.2 276.9L482.6 277.6L482.2 278.7L482.2 279.6L480.0 280.7L476.4 281.9L474.5 283.8L473.5 283.9L472.8 283.8L471.5 284.9L470.1 285.4L468.1 285.5L467.6 285.6L467.1 286.3L466.5 286.5L466.2 287.2L465.0 287.1L464.3 287.5L462.7 287.3L462.1 285.8L462.1 284.4L461.7 283.6L461.1 281.7L460.4 280.6L460.9 280.5L460.6 279.3L460.8 278.8L460.6 277.6M372.7 270.3L372.7 276.3L371.5 278.1L371.3 279.7L369.3 280.1L366.2 280.3L365.3 281.3L363.8 281.4L362.4 281.4L361.8 280.9L360.6 281.3L358.4 282.3L358.0 283.1L356.2 284.3L355.9 285.0L354.9 285.5L353.8 285.2L353.2 285.8L352.8 287.6L351.0 289.8L351.1 290.6L350.4 291.8L350.6 293.3L349.6 293.7L349.1 294.0L348.7 292.9L348.1 293.2L347.7 293.1L347.3 293.9L345.5 293.9L344.8 293.5L344.5 293.7M336.6 302.6L336.0 302.5L334.4 301.4L333.2 300.0L332.8 299.1L332.5 297.1M356.4 307.4L355.4 307.4L353.8 306.9L352.3 306.9L349.6 307.4L347.9 308.1L345.6 309.1L345.2 309.0M350.6 293.3L351.6 293.9L352.0 294.7L353.0 295.3L353.8 294.6L354.9 294.5L356.5 295.2L357.1 298.9L356.1 301.1L355.5 304.1L356.5 306.3L356.4 307.4M365.4 304.9L361.8 306.4L360.6 307.3L358.5 308.1L356.4 307.4M356.5 295.2L356.2 293.2L356.2 291.7L360.2 291.6L361.3 291.8L362.0 291.4L363.0 291.6M369.2 304.0L367.3 304.3M365.1 291.6L365.8 291.3L366.3 290.2L367.5 290.0L367.9 289.2L368.7 288.4L369.5 288.4L371.3 289.9L371.2 290.8L371.7 292.3L371.3 293.4L371.5 294.1L370.4 295.7L369.7 296.5L369.3 298.1L369.3 299.8L369.2 304.0M363.8 281.4L363.7 282.6L364.0 283.8L365.3 285.5L365.3 286.8L368.0 287.4L367.9 289.2M385.3 314.4L385.6 312.4L384.7 310.6L383.7 310.2L383.2 309.0L382.6 308.6L382.6 307.9L383.2 306.1L384.3 303.6L384.9 303.5L386.3 302.0L387.2 301.9L388.5 303.0L390.1 302.1L390.3 301.0L390.8 300.0L391.1 298.7L392.3 297.6L392.8 295.8L393.3 295.2L393.6 293.8L394.2 292.2L396.1 290.1L396.2 289.3L396.5 288.8L395.5 287.8L395.6 286.9L396.2 286.8M400.7 335.8L401.2 337.7L401.8 339.3L402.4 340.1L403.2 341.5L404.8 341.3L405.5 340.9L406.8 341.3L407.2 340.6L407.7 339.1L409.2 339.0L409.3 338.5L410.5 338.5L410.3 339.5L413.1 339.5L413.1 341.1L413.5 342.1L413.2 343.7L413.3 345.3L414.1 346.3L413.9 349.4L414.5 349.1L415.5 349.2L416.9 348.8L417.9 349.0M389.7 365.6L389.6 364.0L389.9 361.7L390.7 359.3L390.9 358.2L391.6 355.8L392.2 354.8L393.5 353.0L394.3 351.9L394.6 350.0L394.5 348.5L393.8 347.5L393.2 346.0L392.6 344.4L392.8 343.8L393.5 342.8L392.8 340.3L392.3 338.5L391.2 336.8L391.4 336.4L392.4 336.0L393.0 336.0L393.9 335.7L400.7 335.8M391.7 335.3L391.1 335.5L390.5 333.6M393.0 332.9L392.1 333.4L391.8 334.1L391.7 335.3M442.4 350.5L444.1 350.3L446.8 351.0L447.4 350.7L449.0 350.7L449.9 349.9L451.3 349.9L453.8 348.9L455.7 347.4L456.0 348.6L455.8 351.2L456.0 353.5L455.9 357.5L456.3 358.8L455.5 360.7L454.5 362.5L453.0 364.1L450.9 365.1L448.2 366.4L445.5 369.2L444.6 369.7L442.9 371.5L442.0 372.1L441.7 374.0L442.6 376.0L443.0 377.5L443.0 378.3L443.4 378.2L443.2 380.7L442.7 382.0L443.3 382.4L442.9 383.5L441.8 384.4L439.9 385.3L437.1 386.7L436.1 387.7L436.2 388.8L436.8 389.0L436.5 390.3M453.4 332.6L452.3 335.9L452.4 337.3L453.9 338.3L453.9 339.0L453.3 340.5L453.4 341.3L453.2 342.6L454.0 344.2L454.9 346.8L455.7 347.4M433.8 342.2L432.6 338.9L431.3 337.5L430.8 335.9L431.1 334.6L430.7 332.2L431.6 332.0L432.5 331.1L433.4 329.7L434.0 329.2L434.0 328.3L433.5 327.7L433.4 326.7M433.3 323.4L434.1 323.0L436.6 323.1L441.3 322.9M431.3 323.9L431.4 321.9L431.9 320.9L432.0 318.8L432.5 317.6L433.4 316.3L434.2 315.6L435.0 314.6L434.1 314.3L434.2 311.2M430.7 332.2L430.6 329.0L430.0 327.8M441.2 297.7L441.1 295.3M564.3 262.7L564.1 263.7L562.5 263.7L559.8 264.2L560.2 266.2L559.2 267.7L556.2 269.5L554.0 272.5L552.5 274.2L550.4 275.9L550.5 277.1L549.5 277.7L547.5 278.7L546.4 278.8L546.0 280.8L546.8 284.2L547.1 286.4L546.3 288.9L546.6 293.3L545.4 293.4L544.5 295.4L545.2 296.3L543.1 297.0L542.5 298.8L541.6 299.6L539.3 297.1L538.0 293.5L537.0 290.8L536.1 289.6L534.7 287.1L533.9 283.8L533.3 282.2L530.9 278.6L529.5 273.5L528.4 270.2L528.1 267.0L527.4 264.5L524.3 266.1L522.6 265.8L519.3 262.6L520.3 261.7L519.6 260.7L516.7 258.4M395.5 287.8L395.1 287.8L393.5 284.9L393.0 284.8L391.2 286.3L389.4 285.5L388.2 285.4L387.5 285.7L386.2 285.7L384.8 286.8L383.7 286.8L380.9 285.5L379.8 286.1L378.6 286.1L377.8 285.1L375.5 284.1L373.0 284.4L372.4 285.0L372.1 286.5L371.4 287.6L371.3 289.9M391.4 336.4L391.1 335.5M382.6 307.9L380.2 308.9L379.3 308.7L378.5 309.3L376.6 309.3L375.4 307.6L374.6 305.7L373.0 304.0L371.2 304.0L369.2 304.0" fill="none" stroke="#333333" stroke-width="0.5" stroke-opacity="0.75" stroke-linejoin="round" stroke-linecap="round"/>
</g>
<g id="legend">
<rect x="180.5" y="537.5" width="48" height="11" fill="url(#hatchL)" stroke="#ccc" stroke-width="1"/>
<line x1="204.5" y1="533" x2="204.5" y2="537.5" stroke="#bbb" stroke-width="1"/>
<rect x="248.00" y="537" width="60.35" height="11.3" fill="#edf8fb"/>
<rect x="308.15" y="537" width="60.35" height="11.3" fill="#bfd3e6"/>
<rect x="368.30" y="537" width="60.35" height="11.3" fill="#9ebcda"/>
<rect x="428.45" y="537" width="60.35" height="11.3" fill="#8c96c6"/>
<rect x="488.60" y="537" width="60.35" height="11.3" fill="#8c6bb1"/>
<rect x="548.75" y="537" width="60.35" height="11.3" fill="#88419d"/>
<rect x="608.90" y="537" width="60.15" height="11.3" fill="#6e016b"/>
<rect x="248" y="537" width="421.05" height="11.3" fill="none" stroke="#c4c4c4" stroke-width="0.6"/>
<g stroke="#000" stroke-opacity="0.22" stroke-width="0.8"><line x1="248.00" y1="533" x2="248.00" y2="548.3"/><line x1="308.15" y1="533" x2="308.15" y2="548.3"/><line x1="368.30" y1="533" x2="368.30" y2="548.3"/><line x1="428.45" y1="533" x2="428.45" y2="548.3"/><line x1="488.60" y1="533" x2="488.60" y2="548.3"/><line x1="548.75" y1="533" x2="548.75" y2="548.3"/><line x1="608.90" y1="533" x2="608.90" y2="548.3"/><line x1="669.05" y1="533" x2="669.05" y2="548.3"/></g>
</g>
</svg>
<div class="lg" style="left:204.5px">No data</div>
<div class="lg" style="left:248.0px">0</div>
<div class="lg" style="left:308.1px">300</div>
<div class="lg" style="left:368.3px">1,000</div>
<div class="lg" style="left:428.4px">3,000</div>
<div class="lg" style="left:488.6px">10,000</div>
<div class="lg" style="left:548.8px">30,000</div>
<div class="lg" style="left:608.9px">100,000</div>
<div class="lg" style="left:669.0px">300,000</div>
<div id="foot1" class="abs"><b>Data source:</b> IHME, Global Burden of Disease (2025)</div>
<div id="foot2" class="abs">OurWorldinData.org/malaria | CC BY</div>
</body></html>
